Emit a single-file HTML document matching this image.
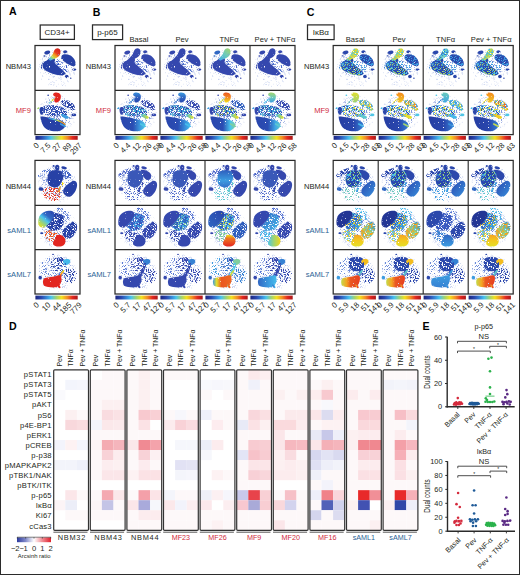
<!DOCTYPE html>
<html><head><meta charset="utf-8"><style>
html,body{margin:0;padding:0;background:#fff;}
body{width:520px;height:575px;overflow:hidden;font-family:"Liberation Sans",sans-serif;}
svg{display:block;}
</style></head><body><svg width="520" height="575" viewBox="0 0 520 575" font-family="'Liberation Sans', sans-serif"><defs><filter id="txd" x="-10%" y="-10%" width="120%" height="120%" color-interpolation-filters="sRGB"><feTurbulence type="fractalNoise" baseFrequency="0.11" numOctaves="2" seed="3" result="n"/><feColorMatrix in="n" type="matrix" values="0 0 0 0 0 0 0 0 0 0 0 0 0 0 0 12 0 0 0 -2.4" result="m"/><feComposite in="SourceGraphic" in2="m" operator="in" result="c"/><feGaussianBlur in="c" stdDeviation="2.2"/></filter><filter id="txmd" x="-10%" y="-10%" width="120%" height="120%" color-interpolation-filters="sRGB"><feTurbulence type="fractalNoise" baseFrequency="0.11" numOctaves="2" seed="4" result="n"/><feColorMatrix in="n" type="matrix" values="0 0 0 0 0 0 0 0 0 0 0 0 0 0 0 12 0 0 0 -4.4" result="m"/><feComposite in="SourceGraphic" in2="m" operator="in" result="c"/><feGaussianBlur in="c" stdDeviation="2.2"/></filter><filter id="txm" x="-10%" y="-10%" width="120%" height="120%" color-interpolation-filters="sRGB"><feTurbulence type="fractalNoise" baseFrequency="0.11" numOctaves="2" seed="5" result="n"/><feColorMatrix in="n" type="matrix" values="0 0 0 0 0 0 0 0 0 0 0 0 0 0 0 12 0 0 0 -5.3" result="m"/><feComposite in="SourceGraphic" in2="m" operator="in" result="c"/><feGaussianBlur in="c" stdDeviation="2.2"/></filter><filter id="txs" x="-10%" y="-10%" width="120%" height="120%" color-interpolation-filters="sRGB"><feTurbulence type="fractalNoise" baseFrequency="0.11" numOctaves="2" seed="7" result="n"/><feColorMatrix in="n" type="matrix" values="0 0 0 0 0 0 0 0 0 0 0 0 0 0 0 12 0 0 0 -6.25" result="m"/><feComposite in="SourceGraphic" in2="m" operator="in" result="c"/><feGaussianBlur in="c" stdDeviation="2.2"/></filter><filter id="txv" x="-10%" y="-10%" width="120%" height="120%" color-interpolation-filters="sRGB"><feTurbulence type="fractalNoise" baseFrequency="0.11" numOctaves="2" seed="9" result="n"/><feColorMatrix in="n" type="matrix" values="0 0 0 0 0 0 0 0 0 0 0 0 0 0 0 12 0 0 0 -7.0" result="m"/><feComposite in="SourceGraphic" in2="m" operator="in" result="c"/><feGaussianBlur in="c" stdDeviation="2.2"/></filter><filter id="txo1" x="-10%" y="-10%" width="120%" height="120%" color-interpolation-filters="sRGB"><feTurbulence type="fractalNoise" baseFrequency="0.16" numOctaves="2" seed="11" result="n"/><feColorMatrix in="n" type="matrix" values="0 0 0 0 0 0 0 0 0 0 0 0 0 0 0 12 0 0 0 -6.4" result="m"/><feComposite in="SourceGraphic" in2="m" operator="in" result="c"/><feGaussianBlur in="c" stdDeviation="2.0"/></filter><filter id="txo2" x="-10%" y="-10%" width="120%" height="120%" color-interpolation-filters="sRGB"><feTurbulence type="fractalNoise" baseFrequency="0.16" numOctaves="2" seed="17" result="n"/><feColorMatrix in="n" type="matrix" values="0 0 0 0 0 0 0 0 0 0 0 0 0 0 0 12 0 0 0 -6.9" result="m"/><feComposite in="SourceGraphic" in2="m" operator="in" result="c"/><feGaussianBlur in="c" stdDeviation="2.0"/></filter><g id="sp_NBM43"><circle cx="300" cy="361" r="4.9"/><circle cx="249" cy="283" r="4.7"/><circle cx="78" cy="166" r="3.4"/><circle cx="198" cy="205" r="4.3"/><circle cx="217" cy="422" r="4.1"/><circle cx="389" cy="416" r="3.9"/><circle cx="103" cy="139" r="4.4"/><circle cx="411" cy="337" r="3.1"/><circle cx="311" cy="384" r="4.6"/><circle cx="375" cy="396" r="3.0"/><circle cx="347" cy="195" r="3.1"/><circle cx="190" cy="127" r="3.5"/><circle cx="366" cy="187" r="5.0"/><circle cx="281" cy="121" r="3.5"/><circle cx="377" cy="309" r="4.3"/><circle cx="101" cy="180" r="4.5"/><circle cx="148" cy="90" r="3.2"/><circle cx="412" cy="175" r="4.3"/><circle cx="256" cy="465" r="4.3"/><circle cx="387" cy="125" r="3.3"/><circle cx="302" cy="394" r="4.4"/><circle cx="250" cy="404" r="4.3"/><circle cx="449" cy="317" r="4.7"/><circle cx="223" cy="452" r="4.6"/><circle cx="89" cy="231" r="4.0"/><circle cx="269" cy="199" r="4.0"/><circle cx="210" cy="275" r="3.9"/><circle cx="348" cy="430" r="4.2"/><circle cx="286" cy="163" r="4.3"/><circle cx="236" cy="263" r="3.3"/><circle cx="208" cy="327" r="4.2"/><circle cx="79" cy="254" r="4.6"/><circle cx="72" cy="314" r="4.2"/><circle cx="163" cy="150" r="4.9"/><circle cx="144" cy="300" r="3.9"/><circle cx="427" cy="281" r="4.8"/><circle cx="298" cy="72" r="3.6"/><circle cx="276" cy="331" r="4.9"/><circle cx="446" cy="267" r="4.0"/><circle cx="411" cy="151" r="3.7"/><circle cx="79" cy="247" r="3.2"/><circle cx="94" cy="225" r="3.7"/><circle cx="100" cy="356" r="4.4"/><circle cx="278" cy="373" r="4.2"/><circle cx="78" cy="274" r="3.8"/><circle cx="201" cy="214" r="4.1"/><circle cx="451" cy="308" r="4.9"/><circle cx="191" cy="104" r="3.3"/><circle cx="224" cy="157" r="4.0"/><circle cx="337" cy="445" r="3.1"/><circle cx="242" cy="188" r="3.4"/><circle cx="384" cy="365" r="3.8"/><circle cx="211" cy="200" r="3.7"/><circle cx="280" cy="299" r="3.7"/><circle cx="206" cy="60" r="3.6"/><circle cx="294" cy="182" r="4.4"/><circle cx="151" cy="283" r="3.7"/><circle cx="213" cy="335" r="3.4"/><circle cx="148" cy="175" r="4.6"/><circle cx="241" cy="60" r="4.4"/><circle cx="353" cy="461" r="4.0"/><circle cx="190" cy="445" r="4.4"/><circle cx="243" cy="306" r="3.1"/><circle cx="134" cy="148" r="3.6"/><circle cx="192" cy="421" r="4.7"/><circle cx="127" cy="132" r="3.3"/><circle cx="98" cy="151" r="3.8"/><circle cx="234" cy="237" r="3.7"/><circle cx="378" cy="407" r="4.8"/><circle cx="168" cy="450" r="4.0"/><circle cx="433" cy="215" r="3.1"/><circle cx="64" cy="219" r="3.7"/><circle cx="408" cy="149" r="3.8"/><circle cx="170" cy="386" r="5.0"/><circle cx="124" cy="159" r="4.2"/><circle cx="311" cy="61" r="4.6"/><circle cx="212" cy="275" r="3.1"/><circle cx="154" cy="244" r="3.7"/><circle cx="374" cy="368" r="3.6"/><circle cx="132" cy="248" r="4.6"/><circle cx="356" cy="358" r="3.9"/><circle cx="216" cy="363" r="3.8"/><circle cx="303" cy="312" r="4.4"/><circle cx="85" cy="385" r="4.7"/><circle cx="411" cy="345" r="3.7"/><circle cx="417" cy="121" r="3.7"/><circle cx="322" cy="456" r="4.5"/><circle cx="274" cy="442" r="3.3"/><circle cx="463" cy="227" r="3.8"/><circle cx="303" cy="183" r="3.4"/><circle cx="204" cy="214" r="3.8"/><circle cx="330" cy="419" r="3.6"/><circle cx="61" cy="247" r="4.4"/><circle cx="146" cy="112" r="4.3"/><circle cx="264" cy="276" r="3.8"/><circle cx="235" cy="441" r="3.4"/><circle cx="455" cy="334" r="3.9"/><circle cx="381" cy="91" r="4.8"/><circle cx="174" cy="160" r="4.2"/><circle cx="178" cy="136" r="3.3"/><circle cx="274" cy="115" r="3.9"/><circle cx="232" cy="121" r="4.7"/><circle cx="353" cy="319" r="4.9"/><circle cx="459" cy="319" r="4.2"/><circle cx="88" cy="245" r="3.7"/><circle cx="95" cy="344" r="4.4"/><circle cx="50" cy="270" r="3.8"/><circle cx="164" cy="385" r="3.7"/><circle cx="163" cy="323" r="4.5"/><circle cx="115" cy="132" r="3.3"/><circle cx="203" cy="314" r="4.4"/><circle cx="216" cy="353" r="4.8"/><circle cx="311" cy="441" r="3.5"/><circle cx="333" cy="155" r="3.1"/><circle cx="230" cy="422" r="3.7"/><circle cx="167" cy="389" r="4.7"/><circle cx="217" cy="355" r="3.1"/><circle cx="238" cy="250" r="5.0"/><circle cx="462" cy="255" r="3.4"/><circle cx="378" cy="87" r="3.4"/><circle cx="249" cy="127" r="3.3"/><circle cx="226" cy="91" r="4.8"/><circle cx="387" cy="301" r="4.7"/><circle cx="223" cy="139" r="3.1"/><circle cx="176" cy="438" r="3.3"/><circle cx="240" cy="269" r="3.5"/><circle cx="419" cy="190" r="4.7"/><circle cx="406" cy="335" r="4.1"/><circle cx="293" cy="378" r="4.8"/><circle cx="457" cy="193" r="3.8"/><circle cx="213" cy="411" r="4.3"/><circle cx="333" cy="199" r="4.2"/><circle cx="325" cy="456" r="3.0"/><circle cx="112" cy="318" r="3.9"/><circle cx="395" cy="301" r="3.3"/><circle cx="337" cy="143" r="3.9"/><circle cx="313" cy="414" r="3.9"/><circle cx="428" cy="140" r="4.1"/><circle cx="199" cy="445" r="4.9"/><circle cx="84" cy="194" r="3.2"/></g><g id="sp_MF9"><circle cx="217" cy="89" r="4.2"/><circle cx="104" cy="260" r="3.7"/><circle cx="346" cy="120" r="4.9"/><circle cx="417" cy="407" r="3.3"/><circle cx="132" cy="179" r="3.5"/><circle cx="120" cy="183" r="3.8"/><circle cx="186" cy="400" r="4.7"/><circle cx="104" cy="277" r="4.5"/><circle cx="290" cy="245" r="3.8"/><circle cx="434" cy="280" r="3.9"/><circle cx="246" cy="451" r="4.7"/><circle cx="381" cy="419" r="3.3"/><circle cx="336" cy="270" r="5.0"/><circle cx="466" cy="222" r="4.6"/><circle cx="203" cy="228" r="4.4"/><circle cx="426" cy="389" r="3.4"/><circle cx="277" cy="301" r="4.4"/><circle cx="452" cy="365" r="4.2"/><circle cx="242" cy="349" r="4.5"/><circle cx="289" cy="468" r="3.7"/><circle cx="364" cy="226" r="4.1"/><circle cx="207" cy="397" r="4.5"/><circle cx="123" cy="214" r="4.5"/><circle cx="116" cy="375" r="4.1"/><circle cx="118" cy="209" r="4.8"/><circle cx="94" cy="257" r="5.0"/><circle cx="171" cy="392" r="3.8"/><circle cx="368" cy="140" r="4.9"/><circle cx="194" cy="398" r="4.3"/><circle cx="311" cy="221" r="4.5"/><circle cx="403" cy="163" r="3.5"/><circle cx="367" cy="250" r="4.8"/><circle cx="262" cy="468" r="3.0"/><circle cx="446" cy="178" r="4.5"/><circle cx="300" cy="326" r="3.9"/><circle cx="376" cy="423" r="3.7"/><circle cx="356" cy="283" r="4.3"/><circle cx="268" cy="345" r="3.3"/><circle cx="221" cy="419" r="3.4"/><circle cx="355" cy="249" r="4.0"/><circle cx="158" cy="366" r="3.3"/><circle cx="196" cy="93" r="3.9"/><circle cx="75" cy="280" r="4.0"/><circle cx="212" cy="449" r="4.0"/><circle cx="309" cy="137" r="4.5"/><circle cx="308" cy="229" r="4.7"/><circle cx="130" cy="208" r="4.6"/><circle cx="420" cy="180" r="3.4"/><circle cx="347" cy="251" r="4.8"/><circle cx="363" cy="155" r="4.9"/><circle cx="69" cy="291" r="3.5"/><circle cx="333" cy="286" r="4.2"/><circle cx="394" cy="219" r="4.0"/><circle cx="436" cy="214" r="3.4"/><circle cx="263" cy="247" r="4.1"/><circle cx="284" cy="205" r="3.8"/><circle cx="439" cy="320" r="4.7"/><circle cx="92" cy="308" r="3.3"/><circle cx="131" cy="340" r="4.5"/><circle cx="318" cy="224" r="3.4"/><circle cx="427" cy="316" r="3.1"/><circle cx="64" cy="221" r="4.8"/><circle cx="183" cy="157" r="4.4"/><circle cx="255" cy="234" r="4.1"/><circle cx="79" cy="166" r="4.5"/><circle cx="150" cy="425" r="3.7"/><circle cx="133" cy="179" r="3.5"/><circle cx="233" cy="358" r="5.0"/><circle cx="223" cy="240" r="4.5"/><circle cx="184" cy="180" r="4.4"/><circle cx="110" cy="170" r="4.1"/><circle cx="134" cy="103" r="4.9"/><circle cx="258" cy="313" r="5.0"/><circle cx="361" cy="361" r="4.5"/><circle cx="160" cy="349" r="3.5"/><circle cx="417" cy="161" r="4.9"/><circle cx="270" cy="128" r="5.0"/><circle cx="411" cy="279" r="4.7"/><circle cx="316" cy="242" r="4.5"/><circle cx="305" cy="448" r="4.1"/><circle cx="239" cy="440" r="4.4"/><circle cx="128" cy="281" r="4.2"/><circle cx="242" cy="235" r="4.5"/><circle cx="284" cy="112" r="4.7"/><circle cx="345" cy="106" r="4.6"/><circle cx="373" cy="129" r="4.2"/><circle cx="252" cy="278" r="4.5"/><circle cx="134" cy="397" r="4.8"/><circle cx="208" cy="270" r="3.7"/><circle cx="149" cy="366" r="3.2"/><circle cx="117" cy="200" r="4.6"/><circle cx="363" cy="260" r="3.1"/><circle cx="395" cy="203" r="4.1"/><circle cx="346" cy="198" r="3.8"/><circle cx="99" cy="382" r="4.2"/><circle cx="418" cy="312" r="3.5"/><circle cx="444" cy="278" r="4.0"/><circle cx="164" cy="167" r="4.6"/><circle cx="236" cy="368" r="4.9"/><circle cx="279" cy="393" r="3.6"/><circle cx="326" cy="134" r="4.8"/><circle cx="169" cy="354" r="3.4"/><circle cx="377" cy="306" r="4.1"/><circle cx="166" cy="349" r="3.9"/><circle cx="314" cy="232" r="3.9"/><circle cx="244" cy="283" r="4.3"/><circle cx="418" cy="385" r="3.3"/><circle cx="188" cy="208" r="5.0"/><circle cx="215" cy="410" r="3.4"/><circle cx="99" cy="296" r="4.1"/><circle cx="153" cy="150" r="3.8"/><circle cx="302" cy="458" r="4.3"/><circle cx="162" cy="322" r="4.2"/><circle cx="311" cy="364" r="3.2"/><circle cx="332" cy="253" r="4.0"/><circle cx="115" cy="209" r="4.6"/><circle cx="353" cy="342" r="4.1"/><circle cx="309" cy="69" r="3.7"/><circle cx="283" cy="375" r="3.4"/><circle cx="395" cy="119" r="4.0"/><circle cx="391" cy="141" r="3.6"/><circle cx="193" cy="308" r="3.8"/><circle cx="451" cy="175" r="4.6"/><circle cx="98" cy="208" r="3.5"/><circle cx="301" cy="69" r="4.0"/><circle cx="476" cy="254" r="4.8"/><circle cx="200" cy="197" r="4.0"/><circle cx="156" cy="288" r="3.7"/><circle cx="277" cy="203" r="3.3"/><circle cx="402" cy="274" r="4.8"/><circle cx="183" cy="265" r="3.8"/><circle cx="83" cy="158" r="3.7"/><circle cx="239" cy="135" r="3.3"/><circle cx="254" cy="184" r="3.8"/><circle cx="175" cy="396" r="3.8"/><circle cx="231" cy="457" r="3.8"/><circle cx="142" cy="237" r="3.7"/><circle cx="220" cy="83" r="4.0"/><circle cx="442" cy="169" r="4.9"/><circle cx="281" cy="143" r="4.0"/></g><g id="sp_NBM44"><circle cx="283" cy="107" r="3.2"/><circle cx="440" cy="336" r="3.3"/><circle cx="339" cy="464" r="3.2"/><circle cx="310" cy="422" r="4.8"/><circle cx="107" cy="271" r="3.9"/><circle cx="261" cy="134" r="3.5"/><circle cx="210" cy="207" r="4.9"/><circle cx="253" cy="86" r="3.4"/><circle cx="442" cy="326" r="4.3"/><circle cx="185" cy="187" r="3.8"/><circle cx="170" cy="423" r="4.5"/><circle cx="206" cy="248" r="3.5"/><circle cx="376" cy="191" r="3.5"/><circle cx="191" cy="131" r="3.1"/><circle cx="162" cy="384" r="3.2"/><circle cx="242" cy="152" r="3.1"/><circle cx="86" cy="292" r="4.7"/><circle cx="194" cy="158" r="5.0"/><circle cx="439" cy="386" r="3.5"/><circle cx="277" cy="385" r="4.7"/><circle cx="65" cy="306" r="3.6"/><circle cx="210" cy="121" r="4.0"/><circle cx="141" cy="209" r="4.0"/><circle cx="145" cy="439" r="3.1"/><circle cx="359" cy="289" r="4.2"/><circle cx="270" cy="423" r="4.6"/><circle cx="128" cy="287" r="4.1"/><circle cx="260" cy="404" r="4.2"/><circle cx="360" cy="84" r="4.9"/><circle cx="346" cy="420" r="3.8"/><circle cx="93" cy="171" r="3.8"/><circle cx="336" cy="90" r="4.1"/><circle cx="327" cy="98" r="3.6"/><circle cx="342" cy="255" r="3.9"/><circle cx="128" cy="352" r="4.4"/><circle cx="178" cy="368" r="3.0"/><circle cx="398" cy="108" r="4.5"/><circle cx="361" cy="226" r="3.5"/><circle cx="242" cy="147" r="4.4"/><circle cx="353" cy="291" r="4.6"/><circle cx="367" cy="290" r="3.1"/><circle cx="382" cy="441" r="3.4"/><circle cx="276" cy="318" r="3.7"/><circle cx="199" cy="212" r="4.3"/><circle cx="401" cy="281" r="4.5"/><circle cx="350" cy="99" r="3.2"/><circle cx="397" cy="367" r="4.2"/><circle cx="94" cy="198" r="3.8"/><circle cx="145" cy="427" r="3.3"/><circle cx="424" cy="219" r="4.8"/><circle cx="335" cy="442" r="4.2"/><circle cx="116" cy="197" r="3.9"/><circle cx="241" cy="279" r="4.5"/><circle cx="71" cy="306" r="4.5"/><circle cx="62" cy="194" r="3.8"/><circle cx="471" cy="266" r="3.5"/><circle cx="327" cy="346" r="4.3"/><circle cx="177" cy="398" r="4.3"/><circle cx="123" cy="315" r="4.2"/><circle cx="323" cy="372" r="4.3"/><circle cx="101" cy="153" r="4.3"/><circle cx="431" cy="233" r="4.7"/><circle cx="348" cy="135" r="4.6"/><circle cx="310" cy="445" r="3.7"/><circle cx="170" cy="152" r="3.4"/><circle cx="134" cy="201" r="4.4"/><circle cx="220" cy="301" r="4.3"/><circle cx="323" cy="353" r="3.2"/><circle cx="458" cy="202" r="3.4"/><circle cx="423" cy="176" r="3.9"/><circle cx="209" cy="79" r="4.8"/><circle cx="385" cy="307" r="4.0"/><circle cx="226" cy="264" r="3.7"/><circle cx="115" cy="335" r="3.2"/><circle cx="331" cy="214" r="3.4"/><circle cx="446" cy="211" r="4.0"/><circle cx="252" cy="438" r="3.5"/><circle cx="186" cy="188" r="3.7"/><circle cx="375" cy="122" r="3.4"/><circle cx="55" cy="238" r="3.7"/><circle cx="88" cy="182" r="3.3"/><circle cx="121" cy="152" r="4.4"/><circle cx="85" cy="374" r="3.5"/><circle cx="454" cy="270" r="3.8"/><circle cx="380" cy="360" r="4.9"/><circle cx="157" cy="345" r="3.4"/><circle cx="69" cy="297" r="4.6"/><circle cx="263" cy="338" r="3.4"/><circle cx="131" cy="261" r="4.2"/><circle cx="177" cy="299" r="3.9"/><circle cx="90" cy="154" r="3.2"/><circle cx="240" cy="418" r="3.5"/><circle cx="123" cy="234" r="4.7"/><circle cx="112" cy="248" r="4.1"/><circle cx="223" cy="102" r="5.0"/><circle cx="461" cy="249" r="4.4"/><circle cx="414" cy="230" r="4.7"/><circle cx="296" cy="473" r="4.7"/><circle cx="201" cy="222" r="3.9"/><circle cx="365" cy="408" r="3.7"/><circle cx="157" cy="231" r="4.7"/><circle cx="167" cy="378" r="3.6"/><circle cx="82" cy="212" r="3.5"/><circle cx="222" cy="162" r="3.8"/><circle cx="317" cy="143" r="4.7"/><circle cx="351" cy="115" r="3.9"/><circle cx="164" cy="459" r="4.4"/><circle cx="407" cy="322" r="4.9"/><circle cx="422" cy="343" r="3.4"/><circle cx="102" cy="359" r="3.0"/><circle cx="135" cy="433" r="3.6"/><circle cx="307" cy="274" r="4.3"/><circle cx="130" cy="260" r="4.9"/><circle cx="128" cy="349" r="4.3"/><circle cx="97" cy="235" r="3.0"/><circle cx="121" cy="188" r="4.7"/><circle cx="81" cy="204" r="4.3"/><circle cx="373" cy="359" r="3.8"/><circle cx="367" cy="346" r="3.7"/><circle cx="249" cy="306" r="4.2"/><circle cx="281" cy="279" r="4.0"/><circle cx="228" cy="93" r="3.5"/><circle cx="256" cy="395" r="3.4"/><circle cx="368" cy="305" r="4.2"/><circle cx="64" cy="232" r="3.1"/><circle cx="66" cy="304" r="3.8"/><circle cx="211" cy="439" r="4.5"/><circle cx="109" cy="195" r="4.4"/><circle cx="460" cy="193" r="4.2"/><circle cx="279" cy="70" r="4.6"/><circle cx="160" cy="354" r="3.2"/><circle cx="139" cy="149" r="4.8"/><circle cx="281" cy="444" r="3.8"/><circle cx="427" cy="279" r="3.9"/><circle cx="260" cy="392" r="4.2"/><circle cx="91" cy="384" r="3.1"/><circle cx="111" cy="227" r="4.8"/><circle cx="326" cy="225" r="4.4"/><circle cx="199" cy="369" r="4.3"/><circle cx="95" cy="305" r="3.8"/></g><g id="sp_sAML1"><circle cx="144" cy="381" r="3.7"/><circle cx="379" cy="263" r="4.8"/><circle cx="119" cy="198" r="4.8"/><circle cx="354" cy="347" r="3.4"/><circle cx="317" cy="129" r="3.7"/><circle cx="292" cy="449" r="3.4"/><circle cx="127" cy="152" r="5.0"/><circle cx="404" cy="124" r="3.6"/><circle cx="165" cy="289" r="4.9"/><circle cx="268" cy="201" r="3.7"/><circle cx="463" cy="318" r="3.0"/><circle cx="141" cy="429" r="3.8"/><circle cx="292" cy="442" r="3.3"/><circle cx="204" cy="115" r="3.3"/><circle cx="173" cy="240" r="3.5"/><circle cx="122" cy="153" r="3.9"/><circle cx="215" cy="271" r="3.6"/><circle cx="162" cy="224" r="4.9"/><circle cx="339" cy="122" r="4.6"/><circle cx="203" cy="428" r="3.2"/><circle cx="272" cy="480" r="4.2"/><circle cx="465" cy="306" r="4.7"/><circle cx="303" cy="433" r="4.6"/><circle cx="317" cy="204" r="3.8"/><circle cx="80" cy="310" r="3.9"/><circle cx="278" cy="282" r="4.5"/><circle cx="93" cy="359" r="4.9"/><circle cx="314" cy="123" r="4.2"/><circle cx="263" cy="228" r="4.1"/><circle cx="149" cy="406" r="4.4"/><circle cx="398" cy="175" r="4.7"/><circle cx="245" cy="334" r="4.1"/><circle cx="287" cy="396" r="3.5"/><circle cx="191" cy="387" r="3.1"/><circle cx="310" cy="232" r="4.1"/><circle cx="343" cy="174" r="3.1"/><circle cx="210" cy="396" r="3.8"/><circle cx="318" cy="199" r="3.2"/><circle cx="207" cy="117" r="3.1"/><circle cx="178" cy="343" r="3.2"/><circle cx="293" cy="156" r="3.8"/><circle cx="301" cy="187" r="4.7"/><circle cx="382" cy="381" r="3.4"/><circle cx="466" cy="294" r="4.7"/><circle cx="277" cy="451" r="4.1"/><circle cx="158" cy="273" r="3.6"/><circle cx="376" cy="95" r="3.7"/><circle cx="253" cy="136" r="3.9"/><circle cx="415" cy="358" r="3.8"/><circle cx="149" cy="131" r="3.3"/><circle cx="360" cy="238" r="3.1"/><circle cx="377" cy="108" r="3.2"/><circle cx="111" cy="287" r="5.0"/><circle cx="236" cy="349" r="4.5"/><circle cx="299" cy="236" r="4.0"/><circle cx="322" cy="220" r="3.5"/><circle cx="193" cy="193" r="3.5"/><circle cx="438" cy="212" r="4.1"/><circle cx="145" cy="406" r="3.4"/><circle cx="374" cy="286" r="3.3"/><circle cx="144" cy="88" r="3.1"/><circle cx="286" cy="456" r="3.0"/><circle cx="427" cy="398" r="4.1"/><circle cx="199" cy="472" r="4.3"/><circle cx="231" cy="63" r="4.0"/><circle cx="456" cy="220" r="3.5"/><circle cx="72" cy="187" r="4.0"/><circle cx="266" cy="59" r="4.0"/><circle cx="414" cy="235" r="3.2"/><circle cx="188" cy="319" r="4.2"/><circle cx="345" cy="406" r="3.5"/><circle cx="428" cy="277" r="4.5"/><circle cx="276" cy="161" r="5.0"/><circle cx="321" cy="188" r="3.5"/><circle cx="262" cy="393" r="4.3"/><circle cx="79" cy="379" r="4.8"/><circle cx="171" cy="234" r="3.9"/><circle cx="180" cy="435" r="3.3"/><circle cx="363" cy="165" r="3.0"/><circle cx="345" cy="170" r="4.3"/><circle cx="292" cy="478" r="3.1"/><circle cx="314" cy="447" r="3.4"/><circle cx="460" cy="333" r="4.2"/><circle cx="195" cy="310" r="3.0"/><circle cx="259" cy="333" r="3.4"/><circle cx="420" cy="353" r="4.3"/><circle cx="431" cy="312" r="3.2"/><circle cx="81" cy="206" r="4.1"/><circle cx="288" cy="263" r="3.2"/><circle cx="130" cy="318" r="4.1"/><circle cx="298" cy="282" r="5.0"/><circle cx="408" cy="320" r="4.5"/><circle cx="361" cy="192" r="4.6"/><circle cx="300" cy="59" r="3.1"/><circle cx="316" cy="330" r="4.0"/><circle cx="163" cy="167" r="4.6"/><circle cx="351" cy="212" r="3.9"/><circle cx="164" cy="220" r="3.6"/><circle cx="191" cy="286" r="3.1"/><circle cx="452" cy="264" r="4.9"/><circle cx="302" cy="430" r="3.1"/><circle cx="78" cy="309" r="3.5"/><circle cx="260" cy="474" r="3.5"/><circle cx="192" cy="411" r="3.5"/><circle cx="448" cy="202" r="3.4"/><circle cx="180" cy="452" r="3.9"/><circle cx="297" cy="430" r="3.8"/><circle cx="401" cy="239" r="4.7"/><circle cx="343" cy="241" r="4.6"/><circle cx="375" cy="196" r="3.8"/><circle cx="294" cy="423" r="4.2"/><circle cx="249" cy="188" r="3.1"/><circle cx="236" cy="176" r="4.3"/><circle cx="388" cy="328" r="3.2"/><circle cx="241" cy="92" r="4.8"/><circle cx="343" cy="133" r="4.9"/><circle cx="326" cy="121" r="4.9"/><circle cx="417" cy="334" r="4.4"/><circle cx="346" cy="281" r="4.8"/><circle cx="93" cy="263" r="3.3"/><circle cx="403" cy="198" r="4.4"/><circle cx="118" cy="419" r="3.0"/><circle cx="242" cy="144" r="4.0"/><circle cx="129" cy="409" r="3.4"/><circle cx="281" cy="417" r="3.9"/><circle cx="135" cy="394" r="4.8"/><circle cx="350" cy="377" r="3.1"/><circle cx="90" cy="335" r="3.6"/><circle cx="399" cy="320" r="4.7"/><circle cx="351" cy="278" r="4.9"/><circle cx="348" cy="324" r="4.2"/><circle cx="66" cy="214" r="3.3"/><circle cx="436" cy="354" r="3.9"/><circle cx="411" cy="116" r="4.6"/><circle cx="181" cy="462" r="4.5"/><circle cx="366" cy="161" r="4.1"/><circle cx="333" cy="238" r="3.0"/><circle cx="175" cy="447" r="4.6"/><circle cx="360" cy="306" r="4.9"/><circle cx="442" cy="203" r="4.8"/></g><g id="sp_sAML7"><circle cx="392" cy="211" r="3.7"/><circle cx="398" cy="130" r="3.2"/><circle cx="148" cy="211" r="3.9"/><circle cx="374" cy="326" r="3.1"/><circle cx="131" cy="397" r="3.6"/><circle cx="359" cy="91" r="4.9"/><circle cx="401" cy="212" r="3.8"/><circle cx="192" cy="160" r="3.3"/><circle cx="159" cy="412" r="3.2"/><circle cx="439" cy="253" r="4.7"/><circle cx="286" cy="316" r="4.5"/><circle cx="181" cy="183" r="3.2"/><circle cx="200" cy="410" r="5.0"/><circle cx="221" cy="140" r="3.8"/><circle cx="259" cy="99" r="3.7"/><circle cx="228" cy="410" r="3.6"/><circle cx="230" cy="113" r="3.8"/><circle cx="441" cy="204" r="3.4"/><circle cx="82" cy="157" r="4.5"/><circle cx="270" cy="94" r="3.6"/><circle cx="282" cy="143" r="3.7"/><circle cx="193" cy="213" r="4.3"/><circle cx="276" cy="482" r="3.0"/><circle cx="272" cy="161" r="4.0"/><circle cx="288" cy="227" r="3.9"/><circle cx="153" cy="173" r="3.9"/><circle cx="200" cy="215" r="3.6"/><circle cx="174" cy="327" r="3.8"/><circle cx="357" cy="206" r="3.1"/><circle cx="75" cy="276" r="4.6"/><circle cx="201" cy="305" r="4.5"/><circle cx="369" cy="125" r="4.6"/><circle cx="84" cy="314" r="5.0"/><circle cx="264" cy="293" r="4.6"/><circle cx="271" cy="68" r="4.8"/><circle cx="153" cy="289" r="3.0"/><circle cx="256" cy="297" r="3.3"/><circle cx="376" cy="277" r="3.8"/><circle cx="215" cy="271" r="4.9"/><circle cx="139" cy="169" r="4.5"/><circle cx="112" cy="153" r="4.1"/><circle cx="277" cy="126" r="4.6"/><circle cx="381" cy="306" r="3.5"/><circle cx="286" cy="268" r="3.7"/><circle cx="248" cy="159" r="3.4"/><circle cx="134" cy="303" r="4.3"/><circle cx="56" cy="296" r="3.3"/><circle cx="357" cy="177" r="4.6"/><circle cx="81" cy="344" r="4.2"/><circle cx="124" cy="398" r="4.7"/><circle cx="270" cy="226" r="4.7"/><circle cx="324" cy="262" r="4.2"/><circle cx="221" cy="355" r="4.3"/><circle cx="244" cy="336" r="4.2"/><circle cx="223" cy="195" r="4.8"/><circle cx="146" cy="242" r="3.7"/><circle cx="345" cy="431" r="4.6"/><circle cx="406" cy="304" r="3.2"/><circle cx="475" cy="250" r="3.9"/><circle cx="102" cy="326" r="4.6"/><circle cx="281" cy="178" r="4.8"/><circle cx="410" cy="370" r="3.9"/><circle cx="173" cy="452" r="3.5"/><circle cx="174" cy="103" r="4.0"/><circle cx="467" cy="293" r="3.6"/><circle cx="325" cy="319" r="3.5"/><circle cx="161" cy="306" r="4.6"/><circle cx="328" cy="393" r="4.3"/><circle cx="339" cy="118" r="4.7"/><circle cx="330" cy="173" r="3.8"/><circle cx="141" cy="126" r="3.9"/><circle cx="107" cy="228" r="4.0"/><circle cx="224" cy="279" r="3.7"/><circle cx="351" cy="134" r="4.4"/><circle cx="228" cy="353" r="4.9"/><circle cx="348" cy="301" r="3.3"/><circle cx="260" cy="406" r="4.3"/><circle cx="101" cy="301" r="3.7"/><circle cx="427" cy="243" r="4.2"/><circle cx="297" cy="374" r="3.4"/><circle cx="184" cy="310" r="4.4"/><circle cx="409" cy="350" r="4.0"/><circle cx="157" cy="221" r="3.3"/><circle cx="345" cy="263" r="3.3"/><circle cx="372" cy="223" r="3.9"/><circle cx="236" cy="374" r="4.8"/><circle cx="322" cy="428" r="5.0"/><circle cx="172" cy="240" r="3.6"/><circle cx="452" cy="332" r="5.0"/><circle cx="449" cy="298" r="3.8"/><circle cx="465" cy="308" r="3.2"/><circle cx="288" cy="97" r="4.5"/><circle cx="172" cy="114" r="3.7"/><circle cx="368" cy="385" r="3.1"/><circle cx="370" cy="439" r="4.4"/><circle cx="322" cy="428" r="3.3"/><circle cx="240" cy="390" r="4.8"/><circle cx="313" cy="208" r="4.5"/><circle cx="156" cy="158" r="4.9"/><circle cx="364" cy="96" r="4.8"/><circle cx="370" cy="201" r="3.2"/><circle cx="218" cy="433" r="4.6"/><circle cx="132" cy="241" r="3.3"/><circle cx="114" cy="132" r="4.4"/><circle cx="134" cy="328" r="3.3"/><circle cx="225" cy="258" r="3.6"/><circle cx="332" cy="315" r="4.9"/><circle cx="61" cy="343" r="4.4"/><circle cx="103" cy="405" r="4.6"/><circle cx="463" cy="251" r="3.4"/><circle cx="446" cy="193" r="4.8"/><circle cx="393" cy="168" r="3.4"/><circle cx="172" cy="313" r="3.6"/><circle cx="406" cy="258" r="3.8"/><circle cx="419" cy="269" r="4.4"/><circle cx="417" cy="119" r="3.2"/><circle cx="61" cy="251" r="4.0"/><circle cx="64" cy="237" r="3.3"/><circle cx="434" cy="350" r="3.5"/><circle cx="182" cy="331" r="3.3"/><circle cx="267" cy="247" r="3.6"/><circle cx="167" cy="157" r="4.8"/><circle cx="167" cy="179" r="3.3"/><circle cx="371" cy="313" r="4.9"/><circle cx="223" cy="212" r="4.5"/><circle cx="377" cy="341" r="3.6"/><circle cx="158" cy="421" r="4.6"/><circle cx="209" cy="365" r="3.2"/><circle cx="281" cy="420" r="4.8"/><circle cx="273" cy="115" r="4.2"/><circle cx="142" cy="210" r="3.2"/><circle cx="232" cy="69" r="4.0"/><circle cx="172" cy="83" r="3.1"/><circle cx="239" cy="399" r="3.6"/><circle cx="346" cy="278" r="4.4"/><circle cx="415" cy="359" r="4.9"/><circle cx="201" cy="347" r="3.3"/><circle cx="164" cy="234" r="4.2"/><circle cx="359" cy="191" r="3.0"/><circle cx="345" cy="375" r="4.0"/></g><g id="NBM43_bg"><path d="M262,60 C380,60 470,150 470,268 C470,340 380,380 262,380 C150,380 60,340 60,268 C60,150 150,60 262,60 Z"/></g><g id="NBM43_sparse"><path d="M225,185 C280,172 345,195 378,238 C392,270 385,305 360,310 C330,298 298,268 268,240 C248,222 225,205 225,185 Z"/></g><g id="NBM43_tl"><ellipse cx="150" cy="85" rx="34" ry="21" transform="rotate(-18 150 85)"/><ellipse cx="118" cy="125" rx="12" ry="8" transform="rotate(0 118 125)"/></g><g id="NBM43_tr"><ellipse cx="353" cy="75" rx="24" ry="17" transform="rotate(0 353 75)"/></g><g id="NBM43_right"><path d="M312,125 C318,98 372,98 412,118 C448,138 474,178 470,218 C466,245 440,248 410,230 C372,208 328,182 314,160 C308,148 309,136 312,125 Z"/></g><g id="NBM43_center"><path d="M128,183 C170,172 215,183 242,208 C275,243 322,280 352,313 C358,335 330,347 290,343 C240,338 180,312 130,287 C105,273 93,250 98,226 C103,205 112,190 128,183 Z"/><path d="M140,182 C160,150 200,135 232,148 C242,170 236,192 220,202 C190,204 155,198 140,182 Z"/></g><g id="NBM43_lc"><path d="M122,196 C96,206 80,236 86,262" fill="none" stroke-width="13" stroke-linecap="round"/></g><g id="NBM43_top"><path d="M245,42 C265,28 296,38 299,65 C303,96 290,126 262,141 C240,153 214,161 194,172 C178,178 162,170 170,156 C183,136 204,120 214,100 C221,79 228,52 245,42 Z"/></g><g id="NBM43_b1"><ellipse cx="370" cy="355" rx="21" ry="20" transform="rotate(0 370 355)"/><ellipse cx="455" cy="278" rx="24" ry="12" transform="rotate(0 455 278)"/><ellipse cx="415" cy="375" rx="9" ry="7" transform="rotate(0 415 375)"/></g><g id="MF9_bg"><path d="M262,50 C380,50 475,150 475,268 C475,380 380,470 262,470 C150,470 55,380 55,268 C55,150 150,50 262,50 Z"/></g><g id="MF9_mid"><path d="M110,185 C170,165 250,170 310,190 C360,210 385,250 370,290 C330,308 250,302 180,298 C140,296 110,280 105,250 C102,225 104,200 110,185 Z"/></g><g id="MF9_left"><path d="M72,198 C90,188 108,195 110,215 C112,240 105,268 92,280 C78,284 66,270 64,245 C62,222 62,205 72,198 Z"/></g><g id="MF9_top"><path d="M218,44 C232,22 284,22 300,55 C312,88 297,126 266,141 C246,149 226,136 229,116 C233,100 246,90 241,76 C226,70 210,63 218,44 Z"/></g><g id="MF9_tail"><path d="M244,98 C228,115 198,136 170,158 C162,152 172,132 193,116 C213,100 230,88 244,98 Z"/></g><g id="MF9_right"><path d="M305,125 C326,104 382,114 422,140 C456,162 472,200 457,232 C442,245 410,222 370,200 C330,180 296,155 305,125 Z"/></g><g id="MF9_bottom"><path d="M72,300 C120,298 210,318 290,340 C340,356 362,387 352,410 C340,440 300,466 252,468 C190,470 130,448 106,408 C88,375 74,335 72,300 Z"/></g><g id="MF9_edge"><path d="M300,272 C330,268 370,285 392,305 C398,320 380,330 360,325 C335,318 310,300 300,272 Z"/></g><g id="MF9_redge"><path d="M300,385 C320,395 340,405 352,412" fill="none" stroke-width="18" stroke-linecap="round"/></g><g id="MF9_tedge"><path d="M170,322 C230,332 300,352 350,388" fill="none" stroke-width="14" stroke-linecap="round"/></g><g id="MF9_b1"><ellipse cx="450" cy="283" rx="28" ry="15" transform="rotate(0 450 283)"/><ellipse cx="160" cy="60" rx="10" ry="8" transform="rotate(0 160 60)"/></g><g id="MF9_lg"><ellipse cx="50" cy="210" rx="14" ry="12" transform="rotate(-30 50 210)"/></g><g id="NBM44_bg"><path d="M262,55 C380,55 480,150 480,268 C480,380 380,470 262,470 C150,470 45,380 45,268 C45,150 150,55 262,55 Z"/></g><g id="NBM44_red"><path d="M108,330 C150,300 232,305 292,320 C318,360 312,420 280,452 C240,474 172,466 132,436 C106,414 96,370 108,330 Z"/></g><g id="NBM44_ul"><path d="M40,182 C60,142 122,98 182,93 C202,98 197,132 172,152 C142,172 92,187 60,197 Z"/></g><g id="NBM44_tright"><path d="M300,112 C350,105 405,130 420,170 C425,210 400,232 370,228 C340,210 315,170 300,112 Z"/></g><g id="NBM44_center"><path d="M172,140 C202,110 262,105 302,125 C332,145 342,190 322,230 C302,270 292,300 252,310 C212,318 172,300 157,265 C147,225 150,170 172,140 Z"/></g><g id="NBM44_top"><ellipse cx="262" cy="88" rx="24" ry="32" transform="rotate(0 262 88)"/><ellipse cx="340" cy="90" rx="32" ry="16" transform="rotate(10 340 90)"/><ellipse cx="222" cy="70" rx="12" ry="12" transform="rotate(0 222 70)"/></g><g id="NBM44_right"><path d="M330,342 C340,302 390,265 430,240 C462,225 492,247 487,290 C482,340 452,392 412,415 C382,425 342,402 330,372 Z"/></g><g id="NBM44_lb"><ellipse cx="80" cy="330" rx="28" ry="20" transform="rotate(10 80 330)"/></g><g id="NBM44_streak"><path d="M330,258 C308,285 288,320 276,368" fill="none" stroke-width="22" stroke-linecap="round"/></g><g id="sAML1_bg"><path d="M262,35 C380,35 490,150 490,268 C490,380 380,475 262,475 C150,475 45,380 45,268 C45,150 150,35 262,35 Z"/></g><g id="sAML1_tops"><path d="M260,35 C310,25 380,60 410,110 C425,150 400,175 370,165 C330,140 290,110 265,75 Z"/></g><g id="sAML1_scat"><path d="M118,292 C162,276 232,282 262,302 C266,342 256,392 226,410 C186,420 146,400 128,370 C116,345 112,318 118,292 Z"/></g><g id="sAML1_center"><path d="M175,95 C215,80 285,90 322,120 C352,160 338,222 308,262 C278,292 225,300 185,285 C145,265 128,215 138,170 C143,135 155,105 175,95 Z"/></g><g id="sAML1_right"><path d="M322,302 C332,262 382,218 432,192 C472,182 496,222 486,272 C476,322 436,372 392,382 C352,387 317,342 322,302 Z"/></g><g id="sAML1_tlb"><path d="M62,128 C82,88 132,65 190,66 C228,72 240,100 222,140 C200,180 160,222 120,250 C88,266 58,248 50,218 C45,185 50,155 62,128 Z"/></g><g id="sAML1_bottom"><path d="M262,340 C295,330 335,345 350,380 C365,420 350,458 312,468 C272,476 228,468 216,445 C208,420 230,400 240,380 C248,360 245,348 262,340 Z"/></g><g id="sAML1_b1"><ellipse cx="88" cy="320" rx="18" ry="10" transform="rotate(0 88 320)"/></g><g id="sAML7_bg"><path d="M262,55 C380,55 485,150 485,268 C485,380 380,460 262,460 C150,460 50,380 50,268 C50,150 150,55 262,55 Z"/></g><g id="sAML7_ul"><path d="M55,200 C70,140 130,95 190,95 C205,150 200,230 180,290 C130,300 80,280 62,250 Z"/></g><g id="sAML7_rightsc"><path d="M340,225 C385,205 450,212 482,250 C492,300 470,360 430,390 C395,400 355,375 340,335 C330,295 330,255 340,225 Z"/></g><g id="sAML7_upper"><path d="M185,120 C225,80 300,80 345,105 C375,140 365,200 335,235 C300,255 250,255 220,240 C195,220 180,180 185,120 Z"/></g><g id="sAML7_cy"><path d="M330,128 C355,108 395,108 410,128 C414,158 385,175 360,182 C340,178 326,155 330,128 Z"/></g><g id="sAML7_hook"><path d="M352,165 C340,200 330,230 318,260 C308,280 298,295 288,305" fill="none" stroke-width="34" stroke-linecap="round"/></g><g id="sAML7_streak"><path d="M335,245 C318,262 305,280 298,300" fill="none" stroke-width="20" stroke-linecap="round"/></g><g id="sAML7_bottom"><path d="M108,338 C140,312 200,318 240,306 C275,294 302,290 312,312 C320,345 305,400 272,428 C215,438 152,432 114,414 C98,394 98,362 108,338 Z"/><path d="M262,400 C280,400 298,410 300,440 C285,445 270,440 262,400 Z"/></g><g id="sAML7_lb"><ellipse cx="70" cy="322" rx="20" ry="20" transform="rotate(20 70 322)"/></g><g id="sAML7_tb"><ellipse cx="300" cy="125" rx="22" ry="14" transform="rotate(20 300 125)"/><ellipse cx="215" cy="60" rx="10" ry="8" transform="rotate(0 215 60)"/></g><radialGradient id="bgG" cx="0.5" cy="0.5" r="0.5"><stop offset="0" stop-color="#5a78d0" stop-opacity="0.9"/><stop offset="0.7" stop-color="#5a78d0" stop-opacity="0.75"/><stop offset="1" stop-color="#5a78d0" stop-opacity="0"/></radialGradient><linearGradient id="g1" x1="0" y1="0" x2="1" y2="0"><stop offset="0.00" stop-color="#1c2680"/><stop offset="0.14" stop-color="#2a48b0"/><stop offset="0.28" stop-color="#3890dc"/><stop offset="0.37" stop-color="#48c4ee"/><stop offset="0.50" stop-color="#a4d46c"/><stop offset="0.62" stop-color="#f2e21e"/><stop offset="0.75" stop-color="#f49022"/><stop offset="0.88" stop-color="#e22620"/><stop offset="1.00" stop-color="#a81818"/></linearGradient><linearGradient id="g2" x1="0.9" y1="0" x2="0.1" y2="1"><stop offset="0.00" stop-color="#cf211d"/><stop offset="0.35" stop-color="#e53620"/><stop offset="0.55" stop-color="#f4a321"/><stop offset="0.72" stop-color="#c5da4b"/><stop offset="0.88" stop-color="#5dc8d0"/><stop offset="1.00" stop-color="#41ade6"/></linearGradient><linearGradient id="g3" x1="1" y1="0" x2="0" y2="1"><stop offset="0.00" stop-color="#f49022"/><stop offset="0.40" stop-color="#e5e02b"/><stop offset="0.70" stop-color="#6bcabc"/><stop offset="1.00" stop-color="#44b8ea"/></linearGradient><linearGradient id="g4" x1="0" y1="0" x2="1" y2="0"><stop offset="0.00" stop-color="#3c9ce0"/><stop offset="0.30" stop-color="#4fc5e4"/><stop offset="0.60" stop-color="#d8dd38"/><stop offset="0.85" stop-color="#f49022"/><stop offset="1.00" stop-color="#f3b020"/></linearGradient><linearGradient id="g5" x1="0" y1="0" x2="0" y2="1"><stop offset="0.00" stop-color="#f2e21e"/><stop offset="1.00" stop-color="#f07822"/></linearGradient><linearGradient id="g6" x1="0.9" y1="0" x2="0.1" y2="1"><stop offset="0.00" stop-color="#2a48b0"/><stop offset="0.35" stop-color="#3067c3"/><stop offset="0.55" stop-color="#48c4ee"/><stop offset="0.78" stop-color="#a4d46c"/><stop offset="1.00" stop-color="#f2e21e"/></linearGradient><linearGradient id="g7" x1="0" y1="0" x2="0" y2="1"><stop offset="0.00" stop-color="#f2e21e"/><stop offset="1.00" stop-color="#ed6721"/></linearGradient><linearGradient id="g8" x1="0" y1="0" x2="0" y2="1"><stop offset="0.00" stop-color="#3890dc"/><stop offset="0.50" stop-color="#2e5dbd"/><stop offset="1.00" stop-color="#2a48b0"/></linearGradient><linearGradient id="g9" x1="0" y1="0" x2="1" y2="0"><stop offset="0.00" stop-color="#44b8ea"/><stop offset="0.60" stop-color="#a4d46c"/><stop offset="1.00" stop-color="#e5e02b"/></linearGradient><linearGradient id="g10" x1="0" y1="0" x2="1" y2="0"><stop offset="0.00" stop-color="#2946ad"/><stop offset="0.50" stop-color="#2b4db3"/><stop offset="0.80" stop-color="#3c9ce0"/><stop offset="1.00" stop-color="#4fc5e4"/></linearGradient><linearGradient id="g11" x1="0" y1="0" x2="0" y2="1"><stop offset="0.00" stop-color="#3c9ce0"/><stop offset="0.50" stop-color="#3067c3"/><stop offset="1.00" stop-color="#2a48b0"/></linearGradient><linearGradient id="g12" x1="0" y1="0" x2="1" y2="0"><stop offset="0.00" stop-color="#44b8ea"/><stop offset="0.60" stop-color="#a4d46c"/><stop offset="1.00" stop-color="#e5e02b"/></linearGradient><linearGradient id="g13" x1="0" y1="0" x2="1" y2="0"><stop offset="0.00" stop-color="#2946ad"/><stop offset="0.50" stop-color="#2b4db3"/><stop offset="0.80" stop-color="#3890dc"/><stop offset="1.00" stop-color="#46beec"/></linearGradient><linearGradient id="g14" x1="0" y1="0" x2="1" y2="1"><stop offset="0.00" stop-color="#2b4db3"/><stop offset="1.00" stop-color="#3271c9"/></linearGradient><linearGradient id="g15" x1="0.9" y1="0" x2="0.1" y2="1"><stop offset="0.00" stop-color="#a4d46c"/><stop offset="0.50" stop-color="#6bcabc"/><stop offset="1.00" stop-color="#41ade6"/></linearGradient><linearGradient id="g16" x1="0" y1="0" x2="0" y2="1"><stop offset="0.00" stop-color="#ea5721"/><stop offset="0.50" stop-color="#f38822"/><stop offset="1.00" stop-color="#f2e21e"/></linearGradient><linearGradient id="g17" x1="0" y1="0" x2="1" y2="0"><stop offset="0.00" stop-color="#5dc8d0"/><stop offset="0.60" stop-color="#c5da4b"/><stop offset="1.00" stop-color="#f2cf1f"/></linearGradient><linearGradient id="g18" x1="0" y1="0" x2="1" y2="0"><stop offset="0.00" stop-color="#2946ad"/><stop offset="0.50" stop-color="#2b4db3"/><stop offset="0.80" stop-color="#48c4ee"/><stop offset="1.00" stop-color="#81ce9e"/></linearGradient><linearGradient id="g19" x1="0" y1="0" x2="0" y2="1"><stop offset="0.00" stop-color="#2e5dbd"/><stop offset="0.60" stop-color="#3c9ce0"/><stop offset="1.00" stop-color="#3271c9"/></linearGradient><linearGradient id="g20" x1="0" y1="0" x2="0" y2="1"><stop offset="0.00" stop-color="#f2e21e"/><stop offset="0.30" stop-color="#f07822"/><stop offset="1.00" stop-color="#e22620"/></linearGradient><linearGradient id="g21" x1="0" y1="0" x2="1" y2="1"><stop offset="0.00" stop-color="#2a48b0"/><stop offset="1.00" stop-color="#3581d3"/></linearGradient><linearGradient id="g22" x1="1" y1="0" x2="0" y2="1"><stop offset="0.00" stop-color="#2843a9"/><stop offset="1.00" stop-color="#3067c3"/></linearGradient><linearGradient id="g23" x1="0" y1="0" x2="1" y2="0"><stop offset="0.00" stop-color="#3c9ce0"/><stop offset="0.20" stop-color="#e5e02b"/><stop offset="0.45" stop-color="#ea5721"/><stop offset="1.00" stop-color="#ed6721"/></linearGradient><linearGradient id="g24" x1="0" y1="0" x2="0" y2="1"><stop offset="0.00" stop-color="#a4d46c"/><stop offset="0.50" stop-color="#6bcabc"/><stop offset="1.00" stop-color="#3c9ce0"/></linearGradient><linearGradient id="g25" x1="0" y1="0" x2="1" y2="0"><stop offset="0.00" stop-color="#44b8ea"/><stop offset="0.60" stop-color="#a4d46c"/><stop offset="1.00" stop-color="#e5e02b"/></linearGradient><linearGradient id="g26" x1="0" y1="0" x2="1" y2="0"><stop offset="0.00" stop-color="#2946ad"/><stop offset="0.50" stop-color="#2b4db3"/><stop offset="0.80" stop-color="#3fa7e4"/><stop offset="1.00" stop-color="#5dc8d0"/></linearGradient><linearGradient id="g27" x1="0" y1="0" x2="1" y2="0"><stop offset="0.00" stop-color="#4fc5e4"/><stop offset="0.50" stop-color="#a4d46c"/><stop offset="1.00" stop-color="#f2d51f"/></linearGradient><linearGradient id="g28" x1="0" y1="0" x2="1" y2="1"><stop offset="0.00" stop-color="#3067c3"/><stop offset="1.00" stop-color="#44b8ea"/></linearGradient><linearGradient id="g29" x1="0" y1="0" x2="1" y2="0"><stop offset="0.00" stop-color="#3067c3"/><stop offset="0.60" stop-color="#3c9ce0"/><stop offset="1.00" stop-color="#46beec"/></linearGradient><linearGradient id="g30" x1="0" y1="0" x2="1" y2="1"><stop offset="0.00" stop-color="#3271c9"/><stop offset="0.45" stop-color="#2a48b0"/><stop offset="1.00" stop-color="#263ea2"/></linearGradient><linearGradient id="g31" x1="0" y1="0" x2="0" y2="1"><stop offset="0.00" stop-color="#dfde31"/><stop offset="1.00" stop-color="#9dd376"/></linearGradient><linearGradient id="g32" x1="0" y1="0" x2="1" y2="0"><stop offset="0.00" stop-color="#263ea2"/><stop offset="0.60" stop-color="#2946ad"/><stop offset="1.00" stop-color="#3581d3"/></linearGradient><linearGradient id="g33" x1="0" y1="0" x2="0" y2="1"><stop offset="0.00" stop-color="#263ea2"/><stop offset="0.60" stop-color="#2a48b0"/><stop offset="1.00" stop-color="#2843a9"/></linearGradient><linearGradient id="g34" x1="0" y1="0" x2="1" y2="1"><stop offset="0.00" stop-color="#2a48b0"/><stop offset="1.00" stop-color="#3890dc"/></linearGradient><linearGradient id="g35" x1="0" y1="0" x2="1" y2="1"><stop offset="0.00" stop-color="#2a48b0"/><stop offset="0.50" stop-color="#3067c3"/><stop offset="1.00" stop-color="#44b8ea"/></linearGradient><linearGradient id="g36" x1="0" y1="0" x2="0" y2="1"><stop offset="0.00" stop-color="#f4a321"/><stop offset="0.50" stop-color="#f3c91f"/><stop offset="1.00" stop-color="#e5e02b"/></linearGradient><linearGradient id="g37" x1="1" y1="0" x2="0" y2="1"><stop offset="0.00" stop-color="#3271c9"/><stop offset="0.50" stop-color="#a4d46c"/><stop offset="1.00" stop-color="#f49622"/></linearGradient><linearGradient id="g38" x1="0" y1="0" x2="1" y2="0"><stop offset="0.00" stop-color="#c5da4b"/><stop offset="0.30" stop-color="#f4a321"/><stop offset="0.50" stop-color="#ea5721"/><stop offset="1.00" stop-color="#e63e20"/></linearGradient><linearGradient id="g39" x1="0" y1="0" x2="1" y2="1"><stop offset="0.00" stop-color="#347bcf"/><stop offset="0.45" stop-color="#2a48b0"/><stop offset="1.00" stop-color="#263ea2"/></linearGradient><linearGradient id="g40" x1="0" y1="0" x2="0" y2="1"><stop offset="0.00" stop-color="#f38822"/><stop offset="1.00" stop-color="#f3c91f"/></linearGradient><linearGradient id="g41" x1="0" y1="0" x2="1" y2="0"><stop offset="0.00" stop-color="#263ea2"/><stop offset="0.60" stop-color="#2946ad"/><stop offset="1.00" stop-color="#3581d3"/></linearGradient><linearGradient id="g42" x1="0" y1="0" x2="0" y2="1"><stop offset="0.00" stop-color="#263ea2"/><stop offset="0.60" stop-color="#2a48b0"/><stop offset="1.00" stop-color="#2843a9"/></linearGradient><linearGradient id="g43" x1="0" y1="0" x2="1" y2="1"><stop offset="0.00" stop-color="#2a48b0"/><stop offset="1.00" stop-color="#3890dc"/></linearGradient><linearGradient id="g44" x1="0" y1="0" x2="1" y2="1"><stop offset="0.00" stop-color="#2a48b0"/><stop offset="0.50" stop-color="#3067c3"/><stop offset="1.00" stop-color="#44b8ea"/></linearGradient><linearGradient id="g45" x1="0" y1="0" x2="0" y2="1"><stop offset="0.00" stop-color="#f4a321"/><stop offset="0.50" stop-color="#f3c91f"/><stop offset="1.00" stop-color="#e5e02b"/></linearGradient><linearGradient id="g46" x1="1" y1="0" x2="0" y2="1"><stop offset="0.00" stop-color="#3271c9"/><stop offset="0.50" stop-color="#a4d46c"/><stop offset="1.00" stop-color="#f49622"/></linearGradient><linearGradient id="g47" x1="0" y1="0" x2="1" y2="0"><stop offset="0.00" stop-color="#c5da4b"/><stop offset="0.30" stop-color="#f4a321"/><stop offset="0.50" stop-color="#ea5721"/><stop offset="1.00" stop-color="#e63e20"/></linearGradient><linearGradient id="g48" x1="0" y1="0" x2="1" y2="1"><stop offset="0.00" stop-color="#2e5dbd"/><stop offset="0.45" stop-color="#2a48b0"/><stop offset="1.00" stop-color="#263ea2"/></linearGradient><linearGradient id="g49" x1="0" y1="0" x2="0" y2="1"><stop offset="0.00" stop-color="#6bcabc"/><stop offset="1.00" stop-color="#3fa7e4"/></linearGradient><linearGradient id="g50" x1="0" y1="0" x2="1" y2="0"><stop offset="0.00" stop-color="#263ea2"/><stop offset="0.60" stop-color="#2946ad"/><stop offset="1.00" stop-color="#3581d3"/></linearGradient><linearGradient id="g51" x1="0" y1="0" x2="0" y2="1"><stop offset="0.00" stop-color="#263ea2"/><stop offset="0.60" stop-color="#2a48b0"/><stop offset="1.00" stop-color="#2843a9"/></linearGradient><linearGradient id="g52" x1="0" y1="0" x2="1" y2="1"><stop offset="0.00" stop-color="#2a48b0"/><stop offset="1.00" stop-color="#3890dc"/></linearGradient><linearGradient id="g53" x1="0" y1="0" x2="0" y2="1"><stop offset="0.00" stop-color="#3067c3"/><stop offset="1.00" stop-color="#3c9ce0"/></linearGradient><linearGradient id="g54" x1="0" y1="0" x2="0" y2="1"><stop offset="0.00" stop-color="#3c9ce0"/><stop offset="1.00" stop-color="#3581d3"/></linearGradient><linearGradient id="g55" x1="0" y1="0" x2="1" y2="1"><stop offset="0.00" stop-color="#3271c9"/><stop offset="0.45" stop-color="#2a48b0"/><stop offset="1.00" stop-color="#263ea2"/></linearGradient><linearGradient id="g56" x1="0" y1="0" x2="0" y2="1"><stop offset="0.00" stop-color="#f38822"/><stop offset="1.00" stop-color="#f3c91f"/></linearGradient><linearGradient id="g57" x1="0" y1="0" x2="1" y2="0"><stop offset="0.00" stop-color="#263ea2"/><stop offset="0.60" stop-color="#2946ad"/><stop offset="1.00" stop-color="#3581d3"/></linearGradient><linearGradient id="g58" x1="0" y1="0" x2="0" y2="1"><stop offset="0.00" stop-color="#263ea2"/><stop offset="0.60" stop-color="#2a48b0"/><stop offset="1.00" stop-color="#2843a9"/></linearGradient><linearGradient id="g59" x1="0" y1="0" x2="1" y2="1"><stop offset="0.00" stop-color="#2a48b0"/><stop offset="1.00" stop-color="#3890dc"/></linearGradient><linearGradient id="g60" x1="0" y1="0" x2="1" y2="1"><stop offset="0.00" stop-color="#2a48b0"/><stop offset="0.50" stop-color="#3067c3"/><stop offset="1.00" stop-color="#44b8ea"/></linearGradient><linearGradient id="g61" x1="0" y1="0" x2="0" y2="1"><stop offset="0.00" stop-color="#f4a321"/><stop offset="0.50" stop-color="#f3c91f"/><stop offset="1.00" stop-color="#e5e02b"/></linearGradient><linearGradient id="g62" x1="1" y1="0" x2="0" y2="1"><stop offset="0.00" stop-color="#3271c9"/><stop offset="0.50" stop-color="#a4d46c"/><stop offset="1.00" stop-color="#f49622"/></linearGradient><linearGradient id="g63" x1="0" y1="0" x2="1" y2="0"><stop offset="0.00" stop-color="#c5da4b"/><stop offset="0.30" stop-color="#f4a321"/><stop offset="0.50" stop-color="#ea5721"/><stop offset="1.00" stop-color="#e63e20"/></linearGradient><linearGradient id="g64" x1="0" y1="0" x2="1" y2="0"><stop offset="0.00" stop-color="#2c3a9e"/><stop offset="0.25" stop-color="#8088c8"/><stop offset="0.50" stop-color="#ffffff"/><stop offset="0.75" stop-color="#f08890"/><stop offset="1.00" stop-color="#e0202c"/></linearGradient></defs><rect x="0.5" y="0.5" width="519" height="574" fill="#fff" stroke="#2b2b2b" stroke-width="1"/><text x="8.9" y="15.0" font-size="10.6" text-anchor="start" fill="#000" font-weight="bold">A</text><text x="92.8" y="15.6" font-size="10.6" text-anchor="start" fill="#000" font-weight="bold">B</text><text x="306.8" y="15.6" font-size="10.6" text-anchor="start" fill="#000" font-weight="bold">C</text><text x="9.1" y="329.8" font-size="10.6" text-anchor="start" fill="#000" font-weight="bold">D</text><text x="422.5" y="330.0" font-size="10.6" text-anchor="start" fill="#000" font-weight="bold">E</text><rect x="40.20" y="25.00" width="34.20" height="14.40" fill="none" stroke="#2b2b2b" stroke-width="1.25"/><text x="57.0" y="35.4" font-size="8.0" text-anchor="middle" fill="#231f20" font-weight="normal">CD34+</text><rect x="92.50" y="24.90" width="30.10" height="14.70" fill="none" stroke="#2b2b2b" stroke-width="1.25"/><text x="107.4" y="35.4" font-size="8.0" text-anchor="middle" fill="#231f20" font-weight="normal">p-p65</text><rect x="307.50" y="24.90" width="26.60" height="14.70" fill="none" stroke="#2b2b2b" stroke-width="1.25"/><text x="320.8" y="35.4" font-size="8.0" text-anchor="middle" fill="#231f20" font-weight="normal">I&#954;B&#945;</text><text x="0" y="0" font-size="8.0" text-anchor="middle" fill="#231f20" font-weight="normal" transform="translate(138.90 42.0) scale(0.95 1)">Basal</text><text x="0" y="0" font-size="8.0" text-anchor="middle" fill="#231f20" font-weight="normal" transform="translate(182.00 42.0) scale(0.95 1)">Pev</text><text x="0" y="0" font-size="8.0" text-anchor="middle" fill="#231f20" font-weight="normal" transform="translate(229.00 42.0) scale(0.95 1)">TNF&#945;</text><text x="0" y="0" font-size="8.0" text-anchor="middle" fill="#231f20" font-weight="normal" transform="translate(275.00 42.0) scale(0.95 1)">Pev + TNF&#945;</text><text x="0" y="0" font-size="8.0" text-anchor="middle" fill="#231f20" font-weight="normal" transform="translate(355.30 42.0) scale(0.95 1)">Basal</text><text x="0" y="0" font-size="8.0" text-anchor="middle" fill="#231f20" font-weight="normal" transform="translate(399.00 42.0) scale(0.95 1)">Pev</text><text x="0" y="0" font-size="8.0" text-anchor="middle" fill="#231f20" font-weight="normal" transform="translate(445.60 42.0) scale(0.95 1)">TNF&#945;</text><text x="0" y="0" font-size="8.0" text-anchor="middle" fill="#231f20" font-weight="normal" transform="translate(491.20 42.0) scale(0.95 1)">Pev + TNF&#945;</text><g transform="translate(34.0 45.0) scale(0.08846)"><use href="#sp_NBM43" fill="#4a6ccc" opacity="0.55"/><use href="#NBM43_bg" fill="url(#bgG)" filter="url(#txv)"/><use href="#NBM43_sparse" fill="#3a5cc8" filter="url(#txs)"/><use href="#NBM43_tl" fill="#2741a6" filter="url(#txd)"/><use href="#NBM43_tr" fill="#2741a6" filter="url(#txd)"/><use href="#NBM43_right" fill="#2741a6" filter="url(#txd)"/><use href="#NBM43_center" fill="#2741a6" filter="url(#txd)"/><use href="#NBM43_lc" stroke="#2741a6" filter="url(#txm)"/><use href="#NBM43_top" fill="url(#g2)" filter="url(#txd)"/><use href="#NBM43_b1" fill="#2741a6" filter="url(#txd)"/></g><g transform="translate(34.0 89.9) scale(0.08846)"><use href="#sp_MF9" fill="#4a6ccc" opacity="0.55"/><use href="#MF9_bg" fill="url(#bgG)" filter="url(#txv)"/><use href="#MF9_mid" fill="#2f4fb4" filter="url(#txm)"/><use href="#MF9_left" fill="#2741a6" filter="url(#txd)"/><use href="#MF9_top" fill="#e22620" filter="url(#txd)"/><use href="#MF9_tail" fill="url(#g3)" filter="url(#txm)"/><use href="#MF9_right" fill="#2741a6" filter="url(#txm)"/><use href="#MF9_bottom" fill="#2741a6" filter="url(#txd)"/><use href="#MF9_edge" fill="#3c9ce0" filter="url(#txd)"/><use href="#MF9_redge" stroke="#3c9ce0" filter="url(#txd)"/><use href="#MF9_tedge" stroke="url(#g4)" filter="url(#txd)"/><use href="#MF9_b1" fill="#2741a6" filter="url(#txd)"/><use href="#MF9_lg" fill="#a4d46c" filter="url(#txm)"/></g><g transform="translate(34.0 159.9) scale(0.08846)"><use href="#sp_NBM44" fill="#4a6ccc" opacity="0.55"/><use href="#NBM44_bg" fill="url(#bgG)" filter="url(#txv)"/><use href="#NBM44_red" fill="#e53620" filter="url(#txs)"/><use href="#NBM44_ul" fill="#4a70d0" filter="url(#txs)"/><use href="#NBM44_tright" fill="#3f60c4" filter="url(#txm)"/><use href="#NBM44_center" fill="#2741a6" filter="url(#txd)"/><use href="#NBM44_top" fill="#2741a6" filter="url(#txd)"/><use href="#NBM44_right" fill="#2741a6" filter="url(#txd)"/><use href="#NBM44_lb" fill="#2741a6" filter="url(#txd)"/><use href="#NBM44_streak" stroke="url(#g5)" filter="url(#txm)"/></g><g transform="translate(34.0 204.9) scale(0.08846)"><use href="#sp_sAML1" fill="#4a6ccc" opacity="0.55"/><use href="#sAML1_bg" fill="url(#bgG)" filter="url(#txv)"/><use href="#sAML1_tops" fill="#5a7ad4" filter="url(#txs)"/><use href="#sAML1_scat" fill="#ea5721" filter="url(#txs)"/><use href="#sAML1_center" fill="#2741a6" filter="url(#txmd)"/><use href="#sAML1_right" fill="#2741a6" filter="url(#txmd)"/><use href="#sAML1_tlb" fill="url(#g6)" filter="url(#txd)"/><use href="#sAML1_bottom" fill="#e22620" filter="url(#txd)"/><use href="#sAML1_b1" fill="#2741a6" filter="url(#txd)"/></g><g transform="translate(34.0 249.1) scale(0.08846)"><use href="#sp_sAML7" fill="#4a6ccc" opacity="0.55"/><use href="#sAML7_bg" fill="url(#bgG)" filter="url(#txv)"/><use href="#sAML7_ul" fill="#6a8ad8" filter="url(#txv)"/><use href="#sAML7_rightsc" fill="#2741a6" filter="url(#txs)"/><use href="#sAML7_upper" fill="#2741a6" filter="url(#txs)"/><use href="#sAML7_cy" fill="#44b8ea" filter="url(#txd)"/><use href="#sAML7_hook" stroke="#3067c3" filter="url(#txs)"/><use href="#sAML7_streak" stroke="url(#g7)" filter="url(#txd)"/><use href="#sAML7_bottom" fill="#e22620" filter="url(#txd)"/><use href="#sAML7_lb" fill="#2741a6" filter="url(#txd)"/><use href="#sAML7_tb" fill="#2741a6" filter="url(#txd)"/></g><g transform="translate(114.0 45.0) scale(0.08846)"><use href="#sp_NBM43" fill="#4a6ccc" opacity="0.55"/><use href="#NBM43_bg" fill="url(#bgG)" filter="url(#txv)"/><use href="#NBM43_sparse" fill="#5070cc" filter="url(#txs)"/><use href="#NBM43_tl" fill="#3548ae" filter="url(#txd)"/><use href="#NBM43_tr" fill="#3548ae" filter="url(#txd)"/><use href="#NBM43_right" fill="#3548ae" filter="url(#txd)"/><use href="#NBM43_center" fill="#3548ae" filter="url(#txd)"/><use href="#NBM43_lc" stroke="#3548ae" filter="url(#txm)"/><use href="#NBM43_top" fill="#3548ae" filter="url(#txd)"/><use href="#NBM43_b1" fill="#3548ae" filter="url(#txd)"/></g><g transform="translate(114.0 89.9) scale(0.08846)"><use href="#sp_MF9" fill="#4a6ccc" opacity="0.55"/><use href="#MF9_bg" fill="url(#bgG)" filter="url(#txv)"/><use href="#MF9_mid" fill="#3548ae" filter="url(#txm)"/><use href="#MF9_mid" fill="#3c9ce0" filter="url(#txo1)"/><use href="#MF9_mid" fill="#5dc8d0" filter="url(#txo2)"/><use href="#MF9_left" fill="#3548ae" filter="url(#txd)"/><use href="#MF9_top" fill="url(#g8)" filter="url(#txd)"/><use href="#MF9_tail" fill="#3581d3" filter="url(#txm)"/><use href="#MF9_right" fill="#3548ae" filter="url(#txm)"/><use href="#MF9_bottom" fill="url(#g10)" filter="url(#txd)"/><use href="#MF9_edge" fill="url(#g9)" filter="url(#txd)"/><use href="#MF9_redge" stroke="#4fc5e4" filter="url(#txd)"/><use href="#MF9_b1" fill="#3548ae" filter="url(#txd)"/><use href="#MF9_lg" fill="#3c9ce0" filter="url(#txm)"/></g><g transform="translate(114.0 159.9) scale(0.08846)"><use href="#sp_NBM44" fill="#4a6ccc" opacity="0.55"/><use href="#NBM44_bg" fill="url(#bgG)" filter="url(#txv)"/><use href="#NBM44_red" fill="#4a64c8" filter="url(#txv)"/><use href="#NBM44_ul" fill="#4a64c8" filter="url(#txm)"/><use href="#NBM44_tright" fill="#3548ae" filter="url(#txd)"/><use href="#NBM44_center" fill="#3a58b8" filter="url(#txd)"/><use href="#NBM44_top" fill="#3548ae" filter="url(#txd)"/><use href="#NBM44_right" fill="#3548ae" filter="url(#txd)"/><use href="#NBM44_lb" fill="#3548ae" filter="url(#txd)"/><use href="#NBM44_streak" stroke="#3548ae" filter="url(#txm)"/></g><g transform="translate(114.0 204.9) scale(0.08846)"><use href="#sp_sAML1" fill="#4a6ccc" opacity="0.55"/><use href="#sAML1_bg" fill="url(#bgG)" filter="url(#txv)"/><use href="#sAML1_tops" fill="#4a6ad0" filter="url(#txs)"/><use href="#sAML1_scat" fill="#3548ae" filter="url(#txs)"/><use href="#sAML1_center" fill="#3a5ac0" filter="url(#txmd)"/><use href="#sAML1_center" fill="#3c9ce0" filter="url(#txo1)"/><use href="#sAML1_right" fill="#3548ae" filter="url(#txmd)"/><use href="#sAML1_tlb" fill="#3548ae" filter="url(#txd)"/><use href="#sAML1_bottom" fill="#3548ae" filter="url(#txd)"/><use href="#sAML1_b1" fill="#3548ae" filter="url(#txd)"/></g><g transform="translate(114.0 249.1) scale(0.08846)"><use href="#sp_sAML7" fill="#4a6ccc" opacity="0.55"/><use href="#sAML7_bg" fill="url(#bgG)" filter="url(#txv)"/><use href="#sAML7_ul" fill="#5a7ad4" filter="url(#txv)"/><use href="#sAML7_rightsc" fill="#3548ae" filter="url(#txs)"/><use href="#sAML7_upper" fill="#3548ae" filter="url(#txs)"/><use href="#sAML7_cy" fill="#3581d3" filter="url(#txd)"/><use href="#sAML7_hook" stroke="#3548ae" filter="url(#txmd)"/><use href="#sAML7_streak" stroke="#3548ae" filter="url(#txd)"/><use href="#sAML7_bottom" fill="#3548ae" filter="url(#txd)"/><use href="#sAML7_lb" fill="#3548ae" filter="url(#txd)"/><use href="#sAML7_tb" fill="#3548ae" filter="url(#txd)"/></g><g transform="translate(159.0 45.0) scale(0.08846)"><use href="#sp_NBM43" fill="#4a6ccc" opacity="0.55"/><use href="#NBM43_bg" fill="url(#bgG)" filter="url(#txv)"/><use href="#NBM43_sparse" fill="#5070cc" filter="url(#txs)"/><use href="#NBM43_tl" fill="#3548ae" filter="url(#txd)"/><use href="#NBM43_tr" fill="#3548ae" filter="url(#txd)"/><use href="#NBM43_right" fill="#3548ae" filter="url(#txd)"/><use href="#NBM43_center" fill="#3548ae" filter="url(#txd)"/><use href="#NBM43_lc" stroke="#3548ae" filter="url(#txm)"/><use href="#NBM43_top" fill="#3548ae" filter="url(#txd)"/><use href="#NBM43_b1" fill="#3548ae" filter="url(#txd)"/></g><g transform="translate(159.0 89.9) scale(0.08846)"><use href="#sp_MF9" fill="#4a6ccc" opacity="0.55"/><use href="#MF9_bg" fill="url(#bgG)" filter="url(#txv)"/><use href="#MF9_mid" fill="#3548ae" filter="url(#txm)"/><use href="#MF9_mid" fill="#3c9ce0" filter="url(#txo1)"/><use href="#MF9_mid" fill="#5dc8d0" filter="url(#txo2)"/><use href="#MF9_left" fill="#3548ae" filter="url(#txd)"/><use href="#MF9_top" fill="url(#g11)" filter="url(#txd)"/><use href="#MF9_tail" fill="#3271c9" filter="url(#txm)"/><use href="#MF9_right" fill="#3548ae" filter="url(#txm)"/><use href="#MF9_bottom" fill="url(#g13)" filter="url(#txd)"/><use href="#MF9_edge" fill="url(#g12)" filter="url(#txd)"/><use href="#MF9_redge" stroke="#46beec" filter="url(#txd)"/><use href="#MF9_b1" fill="#3548ae" filter="url(#txd)"/><use href="#MF9_lg" fill="#3c9ce0" filter="url(#txm)"/></g><g transform="translate(159.0 159.9) scale(0.08846)"><use href="#sp_NBM44" fill="#4a6ccc" opacity="0.55"/><use href="#NBM44_bg" fill="url(#bgG)" filter="url(#txv)"/><use href="#NBM44_red" fill="#4a64c8" filter="url(#txv)"/><use href="#NBM44_ul" fill="#4a64c8" filter="url(#txm)"/><use href="#NBM44_tright" fill="#3548ae" filter="url(#txd)"/><use href="#NBM44_center" fill="#3a58b8" filter="url(#txd)"/><use href="#NBM44_top" fill="#3548ae" filter="url(#txd)"/><use href="#NBM44_right" fill="#3548ae" filter="url(#txd)"/><use href="#NBM44_lb" fill="#3548ae" filter="url(#txd)"/><use href="#NBM44_streak" stroke="#3548ae" filter="url(#txm)"/></g><g transform="translate(159.0 204.9) scale(0.08846)"><use href="#sp_sAML1" fill="#4a6ccc" opacity="0.55"/><use href="#sAML1_bg" fill="url(#bgG)" filter="url(#txv)"/><use href="#sAML1_tops" fill="#4a6ad0" filter="url(#txs)"/><use href="#sAML1_scat" fill="#3548ae" filter="url(#txs)"/><use href="#sAML1_center" fill="url(#g14)" filter="url(#txmd)"/><use href="#sAML1_center" fill="#3fa7e4" filter="url(#txo1)"/><use href="#sAML1_center" fill="#81ce9e" filter="url(#txo2)"/><use href="#sAML1_right" fill="#3548ae" filter="url(#txmd)"/><use href="#sAML1_tlb" fill="#3548ae" filter="url(#txd)"/><use href="#sAML1_bottom" fill="#3548ae" filter="url(#txd)"/><use href="#sAML1_b1" fill="#3548ae" filter="url(#txd)"/></g><g transform="translate(159.0 249.1) scale(0.08846)"><use href="#sp_sAML7" fill="#4a6ccc" opacity="0.55"/><use href="#sAML7_bg" fill="url(#bgG)" filter="url(#txv)"/><use href="#sAML7_ul" fill="#5a7ad4" filter="url(#txv)"/><use href="#sAML7_rightsc" fill="#3548ae" filter="url(#txs)"/><use href="#sAML7_upper" fill="#3548ae" filter="url(#txs)"/><use href="#sAML7_cy" fill="#3581d3" filter="url(#txd)"/><use href="#sAML7_hook" stroke="#3548ae" filter="url(#txmd)"/><use href="#sAML7_streak" stroke="#3548ae" filter="url(#txd)"/><use href="#sAML7_bottom" fill="#3548ae" filter="url(#txd)"/><use href="#sAML7_lb" fill="#3548ae" filter="url(#txd)"/><use href="#sAML7_tb" fill="#3548ae" filter="url(#txd)"/></g><g transform="translate(204.0 45.0) scale(0.08846)"><use href="#sp_NBM43" fill="#4a6ccc" opacity="0.55"/><use href="#NBM43_bg" fill="url(#bgG)" filter="url(#txv)"/><use href="#NBM43_sparse" fill="#5070cc" filter="url(#txs)"/><use href="#NBM43_tl" fill="#3067c3" filter="url(#txd)"/><use href="#NBM43_tr" fill="#3548ae" filter="url(#txd)"/><use href="#NBM43_right" fill="#3548ae" filter="url(#txd)"/><use href="#NBM43_center" fill="#3548ae" filter="url(#txd)"/><use href="#NBM43_lc" stroke="#3548ae" filter="url(#txm)"/><use href="#NBM43_top" fill="url(#g15)" filter="url(#txd)"/><use href="#NBM43_b1" fill="#3548ae" filter="url(#txd)"/></g><g transform="translate(204.0 89.9) scale(0.08846)"><use href="#sp_MF9" fill="#4a6ccc" opacity="0.55"/><use href="#MF9_bg" fill="url(#bgG)" filter="url(#txv)"/><use href="#MF9_mid" fill="#3548ae" filter="url(#txm)"/><use href="#MF9_mid" fill="#3c9ce0" filter="url(#txo1)"/><use href="#MF9_mid" fill="#c5da4b" filter="url(#txo2)"/><use href="#MF9_left" fill="#3548ae" filter="url(#txd)"/><use href="#MF9_top" fill="url(#g16)" filter="url(#txd)"/><use href="#MF9_tail" fill="#c5da4b" filter="url(#txm)"/><use href="#MF9_right" fill="#2e5dbd" filter="url(#txm)"/><use href="#MF9_bottom" fill="url(#g18)" filter="url(#txd)"/><use href="#MF9_edge" fill="url(#g17)" filter="url(#txd)"/><use href="#MF9_redge" stroke="#81ce9e" filter="url(#txd)"/><use href="#MF9_b1" fill="#3548ae" filter="url(#txd)"/><use href="#MF9_lg" fill="#3c9ce0" filter="url(#txm)"/></g><g transform="translate(204.0 159.9) scale(0.08846)"><use href="#sp_NBM44" fill="#4a6ccc" opacity="0.55"/><use href="#NBM44_bg" fill="url(#bgG)" filter="url(#txv)"/><use href="#NBM44_red" fill="#5dc8d0" filter="url(#txv)"/><use href="#NBM44_ul" fill="#4a64c8" filter="url(#txm)"/><use href="#NBM44_tright" fill="#3548ae" filter="url(#txd)"/><use href="#NBM44_center" fill="url(#g19)" filter="url(#txd)"/><use href="#NBM44_top" fill="#3548ae" filter="url(#txd)"/><use href="#NBM44_right" fill="#3548ae" filter="url(#txd)"/><use href="#NBM44_lb" fill="#3548ae" filter="url(#txd)"/><use href="#NBM44_streak" stroke="#5dc8d0" filter="url(#txm)"/></g><g transform="translate(204.0 204.9) scale(0.08846)"><use href="#sp_sAML1" fill="#4a6ccc" opacity="0.55"/><use href="#sAML1_bg" fill="url(#bgG)" filter="url(#txv)"/><use href="#sAML1_tops" fill="#4a6ad0" filter="url(#txs)"/><use href="#sAML1_scat" fill="#81ce9e" filter="url(#txs)"/><use href="#sAML1_center" fill="url(#g21)" filter="url(#txmd)"/><use href="#sAML1_center" fill="#4fc5e4" filter="url(#txo1)"/><use href="#sAML1_center" fill="#e5e02b" filter="url(#txo2)"/><use href="#sAML1_right" fill="#2e5dbd" filter="url(#txmd)"/><use href="#sAML1_tlb" fill="url(#g22)" filter="url(#txd)"/><use href="#sAML1_bottom" fill="url(#g20)" filter="url(#txd)"/><use href="#sAML1_b1" fill="#3548ae" filter="url(#txd)"/></g><g transform="translate(204.0 249.1) scale(0.08846)"><use href="#sp_sAML7" fill="#4a6ccc" opacity="0.55"/><use href="#sAML7_bg" fill="url(#bgG)" filter="url(#txv)"/><use href="#sAML7_ul" fill="#3c9ce0" filter="url(#txv)"/><use href="#sAML7_rightsc" fill="#3581d3" filter="url(#txs)"/><use href="#sAML7_upper" fill="#3271c9" filter="url(#txs)"/><use href="#sAML7_cy" fill="#81ce9e" filter="url(#txd)"/><use href="#sAML7_hook" stroke="#4fc5e4" filter="url(#txmd)"/><use href="#sAML7_streak" stroke="#c5da4b" filter="url(#txd)"/><use href="#sAML7_bottom" fill="url(#g23)" filter="url(#txd)"/><use href="#sAML7_lb" fill="#3067c3" filter="url(#txd)"/><use href="#sAML7_tb" fill="#3548ae" filter="url(#txd)"/></g><g transform="translate(249.0 45.0) scale(0.08846)"><use href="#sp_NBM43" fill="#4a6ccc" opacity="0.55"/><use href="#NBM43_bg" fill="url(#bgG)" filter="url(#txv)"/><use href="#NBM43_sparse" fill="#5070cc" filter="url(#txs)"/><use href="#NBM43_tl" fill="#3548ae" filter="url(#txd)"/><use href="#NBM43_tr" fill="#3548ae" filter="url(#txd)"/><use href="#NBM43_right" fill="#3548ae" filter="url(#txd)"/><use href="#NBM43_center" fill="#3548ae" filter="url(#txd)"/><use href="#NBM43_lc" stroke="#3548ae" filter="url(#txm)"/><use href="#NBM43_top" fill="#3548ae" filter="url(#txd)"/><use href="#NBM43_b1" fill="#3548ae" filter="url(#txd)"/></g><g transform="translate(249.0 89.9) scale(0.08846)"><use href="#sp_MF9" fill="#4a6ccc" opacity="0.55"/><use href="#MF9_bg" fill="url(#bgG)" filter="url(#txv)"/><use href="#MF9_mid" fill="#3548ae" filter="url(#txm)"/><use href="#MF9_mid" fill="#3c9ce0" filter="url(#txo1)"/><use href="#MF9_mid" fill="#5dc8d0" filter="url(#txo2)"/><use href="#MF9_left" fill="#3548ae" filter="url(#txd)"/><use href="#MF9_top" fill="url(#g24)" filter="url(#txd)"/><use href="#MF9_tail" fill="#44b8ea" filter="url(#txm)"/><use href="#MF9_right" fill="#3548ae" filter="url(#txm)"/><use href="#MF9_bottom" fill="url(#g26)" filter="url(#txd)"/><use href="#MF9_edge" fill="url(#g25)" filter="url(#txd)"/><use href="#MF9_redge" stroke="#5dc8d0" filter="url(#txd)"/><use href="#MF9_b1" fill="#3548ae" filter="url(#txd)"/><use href="#MF9_lg" fill="#3c9ce0" filter="url(#txm)"/></g><g transform="translate(249.0 159.9) scale(0.08846)"><use href="#sp_NBM44" fill="#4a6ccc" opacity="0.55"/><use href="#NBM44_bg" fill="url(#bgG)" filter="url(#txv)"/><use href="#NBM44_red" fill="#4a64c8" filter="url(#txv)"/><use href="#NBM44_ul" fill="#4a64c8" filter="url(#txm)"/><use href="#NBM44_tright" fill="#3548ae" filter="url(#txd)"/><use href="#NBM44_center" fill="#3a58b8" filter="url(#txd)"/><use href="#NBM44_top" fill="#3548ae" filter="url(#txd)"/><use href="#NBM44_right" fill="#3548ae" filter="url(#txd)"/><use href="#NBM44_lb" fill="#3548ae" filter="url(#txd)"/><use href="#NBM44_streak" stroke="#3548ae" filter="url(#txm)"/></g><g transform="translate(249.0 204.9) scale(0.08846)"><use href="#sp_sAML1" fill="#4a6ccc" opacity="0.55"/><use href="#sAML1_bg" fill="url(#bgG)" filter="url(#txv)"/><use href="#sAML1_tops" fill="#4a6ad0" filter="url(#txs)"/><use href="#sAML1_scat" fill="#44b8ea" filter="url(#txs)"/><use href="#sAML1_center" fill="url(#g28)" filter="url(#txmd)"/><use href="#sAML1_right" fill="#3548ae" filter="url(#txmd)"/><use href="#sAML1_tlb" fill="#3548ae" filter="url(#txd)"/><use href="#sAML1_bottom" fill="url(#g27)" filter="url(#txd)"/><use href="#sAML1_b1" fill="#3548ae" filter="url(#txd)"/></g><g transform="translate(249.0 249.1) scale(0.08846)"><use href="#sp_sAML7" fill="#4a6ccc" opacity="0.55"/><use href="#sAML7_bg" fill="url(#bgG)" filter="url(#txv)"/><use href="#sAML7_ul" fill="#5a7ad4" filter="url(#txv)"/><use href="#sAML7_rightsc" fill="#3548ae" filter="url(#txs)"/><use href="#sAML7_upper" fill="#3548ae" filter="url(#txs)"/><use href="#sAML7_cy" fill="#3581d3" filter="url(#txd)"/><use href="#sAML7_hook" stroke="#3548ae" filter="url(#txmd)"/><use href="#sAML7_streak" stroke="#3548ae" filter="url(#txd)"/><use href="#sAML7_bottom" fill="url(#g29)" filter="url(#txd)"/><use href="#sAML7_lb" fill="#3548ae" filter="url(#txd)"/><use href="#sAML7_tb" fill="#3548ae" filter="url(#txd)"/></g><g transform="translate(332.2 45.0) scale(0.08846)"><use href="#sp_NBM43" fill="#4a6ccc" opacity="0.55"/><use href="#NBM43_bg" fill="url(#bgG)" filter="url(#txv)"/><use href="#NBM43_sparse" fill="#3c9ce0" filter="url(#txs)"/><use href="#NBM43_tl" fill="#2c48ac" filter="url(#txd)"/><use href="#NBM43_tr" fill="#2c48ac" filter="url(#txd)"/><use href="#NBM43_right" fill="#2c48ac" filter="url(#txd)"/><use href="#NBM43_right" fill="#3c9ce0" filter="url(#txo1)"/><use href="#NBM43_center" fill="url(#g30)" filter="url(#txd)"/><use href="#NBM43_center" fill="#46beec" filter="url(#txo1)"/><use href="#NBM43_center" fill="#a4d46c" filter="url(#txo2)"/><use href="#NBM43_lc" stroke="#3581d3" filter="url(#txm)"/><use href="#NBM43_top" fill="#c5da4b" filter="url(#txmd)"/><use href="#NBM43_top" fill="#5dc8d0" filter="url(#txo1)"/><use href="#NBM43_top" fill="#f2cf1f" filter="url(#txo2)"/><use href="#NBM43_b1" fill="#2c48ac" filter="url(#txd)"/></g><g transform="translate(332.2 89.9) scale(0.08846)"><use href="#sp_MF9" fill="#4a6ccc" opacity="0.55"/><use href="#MF9_bg" fill="url(#bgG)" filter="url(#txv)"/><use href="#MF9_mid" fill="#2b4db3" filter="url(#txs)"/><use href="#MF9_mid" fill="#44b8ea" filter="url(#txo1)"/><use href="#MF9_mid" fill="#e5e02b" filter="url(#txo2)"/><use href="#MF9_left" fill="#2c48ac" filter="url(#txd)"/><use href="#MF9_top" fill="url(#g31)" filter="url(#txd)"/><use href="#MF9_tail" fill="#72cbb2" filter="url(#txm)"/><use href="#MF9_right" fill="#3c9ce0" filter="url(#txm)"/><use href="#MF9_right" fill="#81ce9e" filter="url(#txo1)"/><use href="#MF9_right" fill="#f2cf1f" filter="url(#txo2)"/><use href="#MF9_bottom" fill="url(#g32)" filter="url(#txd)"/><use href="#MF9_edge" fill="#5dc8d0" filter="url(#txd)"/><use href="#MF9_redge" stroke="#44b8ea" filter="url(#txd)"/><use href="#MF9_b1" fill="#4fc5e4" filter="url(#txd)"/><use href="#MF9_lg" fill="#44b8ea" filter="url(#txm)"/></g><g transform="translate(332.2 159.9) scale(0.08846)"><use href="#sp_NBM44" fill="#4a6ccc" opacity="0.55"/><use href="#NBM44_bg" fill="url(#bgG)" filter="url(#txv)"/><use href="#NBM44_red" fill="#6bcabc" filter="url(#txv)"/><use href="#NBM44_ul" fill="#2c48ac" filter="url(#txm)"/><use href="#NBM44_tright" fill="#2c48ac" filter="url(#txd)"/><use href="#NBM44_center" fill="url(#g33)" filter="url(#txd)"/><use href="#NBM44_center" fill="#44b8ea" filter="url(#txo1)"/><use href="#NBM44_center" fill="#96d280" filter="url(#txo2)"/><use href="#NBM44_top" fill="#2c48ac" filter="url(#txd)"/><use href="#NBM44_right" fill="url(#g34)" filter="url(#txd)"/><use href="#NBM44_lb" fill="#3067c3" filter="url(#txd)"/><use href="#NBM44_streak" stroke="#3c9ce0" filter="url(#txm)"/></g><g transform="translate(332.2 204.9) scale(0.08846)"><use href="#sp_sAML1" fill="#4a6ccc" opacity="0.55"/><use href="#sAML1_bg" fill="url(#bgG)" filter="url(#txv)"/><use href="#sAML1_tops" fill="#44b8ea" filter="url(#txs)"/><use href="#sAML1_scat" fill="#5dc8d0" filter="url(#txs)"/><use href="#sAML1_scat" fill="#f2cf1f" filter="url(#txo1)"/><use href="#sAML1_center" fill="url(#g35)" filter="url(#txmd)"/><use href="#sAML1_center" fill="#4fc5e4" filter="url(#txo1)"/><use href="#sAML1_center" fill="#f3c91f" filter="url(#txo2)"/><use href="#sAML1_right" fill="url(#g37)" filter="url(#txmd)"/><use href="#sAML1_right" fill="#f4a321" filter="url(#txo1)"/><use href="#sAML1_right" fill="#5dc8d0" filter="url(#txo2)"/><use href="#sAML1_tlb" fill="#223595" filter="url(#txd)"/><use href="#sAML1_bottom" fill="url(#g36)" filter="url(#txd)"/><use href="#sAML1_b1" fill="#2c48ac" filter="url(#txd)"/></g><g transform="translate(332.2 249.1) scale(0.08846)"><use href="#sp_sAML7" fill="#4a6ccc" opacity="0.55"/><use href="#sAML7_bg" fill="url(#bgG)" filter="url(#txv)"/><use href="#sAML7_ul" fill="#6a8ad8" filter="url(#txv)"/><use href="#sAML7_rightsc" fill="#2c48ac" filter="url(#txs)"/><use href="#sAML7_upper" fill="#2c48ac" filter="url(#txmd)"/><use href="#sAML7_cy" fill="#f3bc20" filter="url(#txd)"/><use href="#sAML7_hook" stroke="#2c48ac" filter="url(#txmd)"/><use href="#sAML7_streak" stroke="#5dc8d0" filter="url(#txd)"/><use href="#sAML7_bottom" fill="url(#g38)" filter="url(#txd)"/><use href="#sAML7_lb" fill="#3c9ce0" filter="url(#txd)"/><use href="#sAML7_tb" fill="#2c48ac" filter="url(#txd)"/></g><g transform="translate(377.2 45.0) scale(0.08846)"><use href="#sp_NBM43" fill="#4a6ccc" opacity="0.55"/><use href="#NBM43_bg" fill="url(#bgG)" filter="url(#txv)"/><use href="#NBM43_sparse" fill="#3c9ce0" filter="url(#txs)"/><use href="#NBM43_tl" fill="#2c48ac" filter="url(#txd)"/><use href="#NBM43_tr" fill="#2c48ac" filter="url(#txd)"/><use href="#NBM43_right" fill="#2c48ac" filter="url(#txd)"/><use href="#NBM43_right" fill="#3c9ce0" filter="url(#txo1)"/><use href="#NBM43_center" fill="url(#g39)" filter="url(#txd)"/><use href="#NBM43_center" fill="#4fc5e4" filter="url(#txo1)"/><use href="#NBM43_center" fill="#a4d46c" filter="url(#txo2)"/><use href="#NBM43_lc" stroke="#3581d3" filter="url(#txm)"/><use href="#NBM43_top" fill="#c5da4b" filter="url(#txmd)"/><use href="#NBM43_top" fill="#5dc8d0" filter="url(#txo1)"/><use href="#NBM43_top" fill="#f2cf1f" filter="url(#txo2)"/><use href="#NBM43_b1" fill="#2c48ac" filter="url(#txd)"/></g><g transform="translate(377.2 89.9) scale(0.08846)"><use href="#sp_MF9" fill="#4a6ccc" opacity="0.55"/><use href="#MF9_bg" fill="url(#bgG)" filter="url(#txv)"/><use href="#MF9_mid" fill="#2b4db3" filter="url(#txs)"/><use href="#MF9_mid" fill="#44b8ea" filter="url(#txo1)"/><use href="#MF9_mid" fill="#e5e02b" filter="url(#txo2)"/><use href="#MF9_left" fill="#2c48ac" filter="url(#txd)"/><use href="#MF9_top" fill="url(#g40)" filter="url(#txd)"/><use href="#MF9_tail" fill="#e5e02b" filter="url(#txm)"/><use href="#MF9_right" fill="#3c9ce0" filter="url(#txm)"/><use href="#MF9_right" fill="#c5da4b" filter="url(#txo1)"/><use href="#MF9_right" fill="#f49022" filter="url(#txo2)"/><use href="#MF9_bottom" fill="url(#g41)" filter="url(#txd)"/><use href="#MF9_edge" fill="#e5e02b" filter="url(#txd)"/><use href="#MF9_redge" stroke="#a4d46c" filter="url(#txd)"/><use href="#MF9_b1" fill="#4fc5e4" filter="url(#txd)"/><use href="#MF9_lg" fill="#44b8ea" filter="url(#txm)"/></g><g transform="translate(377.2 159.9) scale(0.08846)"><use href="#sp_NBM44" fill="#4a6ccc" opacity="0.55"/><use href="#NBM44_bg" fill="url(#bgG)" filter="url(#txv)"/><use href="#NBM44_red" fill="#6bcabc" filter="url(#txv)"/><use href="#NBM44_ul" fill="#2c48ac" filter="url(#txm)"/><use href="#NBM44_tright" fill="#2c48ac" filter="url(#txd)"/><use href="#NBM44_center" fill="url(#g42)" filter="url(#txd)"/><use href="#NBM44_center" fill="#44b8ea" filter="url(#txo1)"/><use href="#NBM44_center" fill="#96d280" filter="url(#txo2)"/><use href="#NBM44_top" fill="#2c48ac" filter="url(#txd)"/><use href="#NBM44_right" fill="url(#g43)" filter="url(#txd)"/><use href="#NBM44_lb" fill="#3067c3" filter="url(#txd)"/><use href="#NBM44_streak" stroke="#3c9ce0" filter="url(#txm)"/></g><g transform="translate(377.2 204.9) scale(0.08846)"><use href="#sp_sAML1" fill="#4a6ccc" opacity="0.55"/><use href="#sAML1_bg" fill="url(#bgG)" filter="url(#txv)"/><use href="#sAML1_tops" fill="#44b8ea" filter="url(#txs)"/><use href="#sAML1_scat" fill="#5dc8d0" filter="url(#txs)"/><use href="#sAML1_scat" fill="#f2cf1f" filter="url(#txo1)"/><use href="#sAML1_center" fill="url(#g44)" filter="url(#txmd)"/><use href="#sAML1_center" fill="#4fc5e4" filter="url(#txo1)"/><use href="#sAML1_center" fill="#f3c91f" filter="url(#txo2)"/><use href="#sAML1_right" fill="url(#g46)" filter="url(#txmd)"/><use href="#sAML1_right" fill="#f4a321" filter="url(#txo1)"/><use href="#sAML1_right" fill="#5dc8d0" filter="url(#txo2)"/><use href="#sAML1_tlb" fill="#223595" filter="url(#txd)"/><use href="#sAML1_bottom" fill="url(#g45)" filter="url(#txd)"/><use href="#sAML1_b1" fill="#2c48ac" filter="url(#txd)"/></g><g transform="translate(377.2 249.1) scale(0.08846)"><use href="#sp_sAML7" fill="#4a6ccc" opacity="0.55"/><use href="#sAML7_bg" fill="url(#bgG)" filter="url(#txv)"/><use href="#sAML7_ul" fill="#6a8ad8" filter="url(#txv)"/><use href="#sAML7_rightsc" fill="#2c48ac" filter="url(#txs)"/><use href="#sAML7_upper" fill="#2c48ac" filter="url(#txmd)"/><use href="#sAML7_cy" fill="#f3bc20" filter="url(#txd)"/><use href="#sAML7_hook" stroke="#2c48ac" filter="url(#txmd)"/><use href="#sAML7_streak" stroke="#5dc8d0" filter="url(#txd)"/><use href="#sAML7_bottom" fill="url(#g47)" filter="url(#txd)"/><use href="#sAML7_lb" fill="#3c9ce0" filter="url(#txd)"/><use href="#sAML7_tb" fill="#2c48ac" filter="url(#txd)"/></g><g transform="translate(422.2 45.0) scale(0.08846)"><use href="#sp_NBM43" fill="#4a6ccc" opacity="0.55"/><use href="#NBM43_bg" fill="url(#bgG)" filter="url(#txv)"/><use href="#NBM43_sparse" fill="#3c9ce0" filter="url(#txs)"/><use href="#NBM43_tl" fill="#2c48ac" filter="url(#txd)"/><use href="#NBM43_tr" fill="#2c48ac" filter="url(#txd)"/><use href="#NBM43_right" fill="#2c48ac" filter="url(#txd)"/><use href="#NBM43_right" fill="#3c9ce0" filter="url(#txo1)"/><use href="#NBM43_center" fill="url(#g48)" filter="url(#txd)"/><use href="#NBM43_center" fill="#3c9ce0" filter="url(#txo1)"/><use href="#NBM43_center" fill="#a4d46c" filter="url(#txo2)"/><use href="#NBM43_lc" stroke="#3581d3" filter="url(#txm)"/><use href="#NBM43_top" fill="#4fc5e4" filter="url(#txmd)"/><use href="#NBM43_top" fill="#3376cc" filter="url(#txo1)"/><use href="#NBM43_top" fill="#96d280" filter="url(#txo2)"/><use href="#NBM43_b1" fill="#2c48ac" filter="url(#txd)"/></g><g transform="translate(422.2 89.9) scale(0.08846)"><use href="#sp_MF9" fill="#4a6ccc" opacity="0.55"/><use href="#MF9_bg" fill="url(#bgG)" filter="url(#txv)"/><use href="#MF9_mid" fill="#2b4db3" filter="url(#txs)"/><use href="#MF9_mid" fill="#44b8ea" filter="url(#txo1)"/><use href="#MF9_mid" fill="#e5e02b" filter="url(#txo2)"/><use href="#MF9_left" fill="#2c48ac" filter="url(#txd)"/><use href="#MF9_top" fill="url(#g49)" filter="url(#txd)"/><use href="#MF9_tail" fill="#3686d6" filter="url(#txm)"/><use href="#MF9_right" fill="#3c9ce0" filter="url(#txm)"/><use href="#MF9_right" fill="#44b8ea" filter="url(#txo1)"/><use href="#MF9_right" fill="#c5da4b" filter="url(#txo2)"/><use href="#MF9_bottom" fill="url(#g50)" filter="url(#txd)"/><use href="#MF9_edge" fill="#44b8ea" filter="url(#txd)"/><use href="#MF9_redge" stroke="#3890dc" filter="url(#txd)"/><use href="#MF9_b1" fill="#4fc5e4" filter="url(#txd)"/><use href="#MF9_lg" fill="#44b8ea" filter="url(#txm)"/></g><g transform="translate(422.2 159.9) scale(0.08846)"><use href="#sp_NBM44" fill="#4a6ccc" opacity="0.55"/><use href="#NBM44_bg" fill="url(#bgG)" filter="url(#txv)"/><use href="#NBM44_red" fill="#3c9ce0" filter="url(#txv)"/><use href="#NBM44_ul" fill="#2c48ac" filter="url(#txm)"/><use href="#NBM44_tright" fill="#2c48ac" filter="url(#txd)"/><use href="#NBM44_center" fill="url(#g51)" filter="url(#txd)"/><use href="#NBM44_center" fill="#3271c9" filter="url(#txo1)"/><use href="#NBM44_center" fill="#96d280" filter="url(#txo2)"/><use href="#NBM44_top" fill="#2c48ac" filter="url(#txd)"/><use href="#NBM44_right" fill="url(#g52)" filter="url(#txd)"/><use href="#NBM44_lb" fill="#3067c3" filter="url(#txd)"/><use href="#NBM44_streak" stroke="#3c9ce0" filter="url(#txm)"/></g><g transform="translate(422.2 204.9) scale(0.08846)"><use href="#sp_sAML1" fill="#4a6ccc" opacity="0.55"/><use href="#sAML1_bg" fill="url(#bgG)" filter="url(#txv)"/><use href="#sAML1_tops" fill="#5a7ad4" filter="url(#txs)"/><use href="#sAML1_scat" fill="#3581d3" filter="url(#txs)"/><use href="#sAML1_center" fill="#3a5ac0" filter="url(#txmd)"/><use href="#sAML1_right" fill="#2c48ac" filter="url(#txmd)"/><use href="#sAML1_tlb" fill="#2c48ac" filter="url(#txd)"/><use href="#sAML1_bottom" fill="url(#g53)" filter="url(#txd)"/><use href="#sAML1_b1" fill="#2c48ac" filter="url(#txd)"/></g><g transform="translate(422.2 249.1) scale(0.08846)"><use href="#sp_sAML7" fill="#4a6ccc" opacity="0.55"/><use href="#sAML7_bg" fill="url(#bgG)" filter="url(#txv)"/><use href="#sAML7_ul" fill="#6a8ad8" filter="url(#txv)"/><use href="#sAML7_rightsc" fill="#2c48ac" filter="url(#txs)"/><use href="#sAML7_upper" fill="#2c48ac" filter="url(#txmd)"/><use href="#sAML7_cy" fill="#3581d3" filter="url(#txd)"/><use href="#sAML7_hook" stroke="#2c48ac" filter="url(#txmd)"/><use href="#sAML7_streak" stroke="#3c9ce0" filter="url(#txd)"/><use href="#sAML7_bottom" fill="url(#g54)" filter="url(#txd)"/><use href="#sAML7_lb" fill="#2c48ac" filter="url(#txd)"/><use href="#sAML7_tb" fill="#2c48ac" filter="url(#txd)"/></g><g transform="translate(467.2 45.0) scale(0.08846)"><use href="#sp_NBM43" fill="#4a6ccc" opacity="0.55"/><use href="#NBM43_bg" fill="url(#bgG)" filter="url(#txv)"/><use href="#NBM43_sparse" fill="#3c9ce0" filter="url(#txs)"/><use href="#NBM43_tl" fill="#2c48ac" filter="url(#txd)"/><use href="#NBM43_tr" fill="#2c48ac" filter="url(#txd)"/><use href="#NBM43_right" fill="#2c48ac" filter="url(#txd)"/><use href="#NBM43_right" fill="#3c9ce0" filter="url(#txo1)"/><use href="#NBM43_center" fill="url(#g55)" filter="url(#txd)"/><use href="#NBM43_center" fill="#46beec" filter="url(#txo1)"/><use href="#NBM43_center" fill="#a4d46c" filter="url(#txo2)"/><use href="#NBM43_lc" stroke="#3581d3" filter="url(#txm)"/><use href="#NBM43_top" fill="#a4d46c" filter="url(#txmd)"/><use href="#NBM43_top" fill="#44b8ea" filter="url(#txo1)"/><use href="#NBM43_top" fill="#e5e02b" filter="url(#txo2)"/><use href="#NBM43_b1" fill="#2c48ac" filter="url(#txd)"/></g><g transform="translate(467.2 89.9) scale(0.08846)"><use href="#sp_MF9" fill="#4a6ccc" opacity="0.55"/><use href="#MF9_bg" fill="url(#bgG)" filter="url(#txv)"/><use href="#MF9_mid" fill="#2b4db3" filter="url(#txs)"/><use href="#MF9_mid" fill="#44b8ea" filter="url(#txo1)"/><use href="#MF9_mid" fill="#e5e02b" filter="url(#txo2)"/><use href="#MF9_left" fill="#2c48ac" filter="url(#txd)"/><use href="#MF9_top" fill="url(#g56)" filter="url(#txd)"/><use href="#MF9_tail" fill="#e5e02b" filter="url(#txm)"/><use href="#MF9_right" fill="#3c9ce0" filter="url(#txm)"/><use href="#MF9_right" fill="#e5e02b" filter="url(#txo1)"/><use href="#MF9_right" fill="#ed6721" filter="url(#txo2)"/><use href="#MF9_bottom" fill="url(#g57)" filter="url(#txd)"/><use href="#MF9_edge" fill="#f2cf1f" filter="url(#txd)"/><use href="#MF9_redge" stroke="#c5da4b" filter="url(#txd)"/><use href="#MF9_b1" fill="#4fc5e4" filter="url(#txd)"/><use href="#MF9_lg" fill="#44b8ea" filter="url(#txm)"/></g><g transform="translate(467.2 159.9) scale(0.08846)"><use href="#sp_NBM44" fill="#4a6ccc" opacity="0.55"/><use href="#NBM44_bg" fill="url(#bgG)" filter="url(#txv)"/><use href="#NBM44_red" fill="#5dc8d0" filter="url(#txv)"/><use href="#NBM44_ul" fill="#2c48ac" filter="url(#txm)"/><use href="#NBM44_tright" fill="#2c48ac" filter="url(#txd)"/><use href="#NBM44_center" fill="url(#g58)" filter="url(#txd)"/><use href="#NBM44_center" fill="#3c9ce0" filter="url(#txo1)"/><use href="#NBM44_center" fill="#96d280" filter="url(#txo2)"/><use href="#NBM44_top" fill="#2c48ac" filter="url(#txd)"/><use href="#NBM44_right" fill="url(#g59)" filter="url(#txd)"/><use href="#NBM44_lb" fill="#3067c3" filter="url(#txd)"/><use href="#NBM44_streak" stroke="#3c9ce0" filter="url(#txm)"/></g><g transform="translate(467.2 204.9) scale(0.08846)"><use href="#sp_sAML1" fill="#4a6ccc" opacity="0.55"/><use href="#sAML1_bg" fill="url(#bgG)" filter="url(#txv)"/><use href="#sAML1_tops" fill="#44b8ea" filter="url(#txs)"/><use href="#sAML1_scat" fill="#5dc8d0" filter="url(#txs)"/><use href="#sAML1_scat" fill="#f2cf1f" filter="url(#txo1)"/><use href="#sAML1_center" fill="url(#g60)" filter="url(#txmd)"/><use href="#sAML1_center" fill="#4fc5e4" filter="url(#txo1)"/><use href="#sAML1_center" fill="#f3c91f" filter="url(#txo2)"/><use href="#sAML1_right" fill="url(#g62)" filter="url(#txmd)"/><use href="#sAML1_right" fill="#f4a321" filter="url(#txo1)"/><use href="#sAML1_right" fill="#5dc8d0" filter="url(#txo2)"/><use href="#sAML1_tlb" fill="#223595" filter="url(#txd)"/><use href="#sAML1_bottom" fill="url(#g61)" filter="url(#txd)"/><use href="#sAML1_b1" fill="#2c48ac" filter="url(#txd)"/></g><g transform="translate(467.2 249.1) scale(0.08846)"><use href="#sp_sAML7" fill="#4a6ccc" opacity="0.55"/><use href="#sAML7_bg" fill="url(#bgG)" filter="url(#txv)"/><use href="#sAML7_ul" fill="#6a8ad8" filter="url(#txv)"/><use href="#sAML7_rightsc" fill="#2c48ac" filter="url(#txs)"/><use href="#sAML7_upper" fill="#2c48ac" filter="url(#txmd)"/><use href="#sAML7_cy" fill="#f3bc20" filter="url(#txd)"/><use href="#sAML7_hook" stroke="#2c48ac" filter="url(#txmd)"/><use href="#sAML7_streak" stroke="#5dc8d0" filter="url(#txd)"/><use href="#sAML7_bottom" fill="url(#g63)" filter="url(#txd)"/><use href="#sAML7_lb" fill="#3c9ce0" filter="url(#txd)"/><use href="#sAML7_tb" fill="#2c48ac" filter="url(#txd)"/></g><line x1="35.00" y1="90.40" x2="80.00" y2="90.40" stroke="#2b2b2b" stroke-width="1.15"/><rect x="35.00" y="45.50" width="45.00" height="89.10" fill="none" stroke="#2b2b2b" stroke-width="1.25"/><line x1="35.00" y1="205.40" x2="80.00" y2="205.40" stroke="#2b2b2b" stroke-width="1.15"/><line x1="35.00" y1="249.60" x2="80.00" y2="249.60" stroke="#2b2b2b" stroke-width="1.15"/><rect x="35.00" y="160.40" width="45.00" height="133.60" fill="none" stroke="#2b2b2b" stroke-width="1.25"/><line x1="115.00" y1="90.40" x2="295.00" y2="90.40" stroke="#2b2b2b" stroke-width="1.15"/><line x1="160.00" y1="45.50" x2="160.00" y2="134.60" stroke="#2b2b2b" stroke-width="1.15"/><line x1="205.00" y1="45.50" x2="205.00" y2="134.60" stroke="#2b2b2b" stroke-width="1.15"/><line x1="250.00" y1="45.50" x2="250.00" y2="134.60" stroke="#2b2b2b" stroke-width="1.15"/><rect x="115.00" y="45.50" width="180.00" height="89.10" fill="none" stroke="#2b2b2b" stroke-width="1.25"/><line x1="115.00" y1="205.40" x2="295.00" y2="205.40" stroke="#2b2b2b" stroke-width="1.15"/><line x1="115.00" y1="249.60" x2="295.00" y2="249.60" stroke="#2b2b2b" stroke-width="1.15"/><line x1="160.00" y1="160.40" x2="160.00" y2="294.00" stroke="#2b2b2b" stroke-width="1.15"/><line x1="205.00" y1="160.40" x2="205.00" y2="294.00" stroke="#2b2b2b" stroke-width="1.15"/><line x1="250.00" y1="160.40" x2="250.00" y2="294.00" stroke="#2b2b2b" stroke-width="1.15"/><rect x="115.00" y="160.40" width="180.00" height="133.60" fill="none" stroke="#2b2b2b" stroke-width="1.25"/><line x1="333.20" y1="90.40" x2="513.20" y2="90.40" stroke="#2b2b2b" stroke-width="1.15"/><line x1="378.20" y1="45.50" x2="378.20" y2="134.60" stroke="#2b2b2b" stroke-width="1.15"/><line x1="423.20" y1="45.50" x2="423.20" y2="134.60" stroke="#2b2b2b" stroke-width="1.15"/><line x1="468.20" y1="45.50" x2="468.20" y2="134.60" stroke="#2b2b2b" stroke-width="1.15"/><rect x="333.20" y="45.50" width="180.00" height="89.10" fill="none" stroke="#2b2b2b" stroke-width="1.25"/><line x1="333.20" y1="205.40" x2="513.20" y2="205.40" stroke="#2b2b2b" stroke-width="1.15"/><line x1="333.20" y1="249.60" x2="513.20" y2="249.60" stroke="#2b2b2b" stroke-width="1.15"/><line x1="378.20" y1="160.40" x2="378.20" y2="294.00" stroke="#2b2b2b" stroke-width="1.15"/><line x1="423.20" y1="160.40" x2="423.20" y2="294.00" stroke="#2b2b2b" stroke-width="1.15"/><line x1="468.20" y1="160.40" x2="468.20" y2="294.00" stroke="#2b2b2b" stroke-width="1.15"/><rect x="333.20" y="160.40" width="180.00" height="133.60" fill="none" stroke="#2b2b2b" stroke-width="1.25"/><text x="0" y="0" font-size="7.9" text-anchor="end" fill="#231f20" font-weight="normal" transform="translate(30.90 68.90) scale(0.96 1)">NBM43</text><text x="0" y="0" font-size="7.9" text-anchor="end" fill="#cf2a3c" font-weight="normal" transform="translate(30.90 112.70) scale(0.96 1)">MF9</text><text x="0" y="0" font-size="7.9" text-anchor="end" fill="#231f20" font-weight="normal" transform="translate(30.90 188.90) scale(0.96 1)">NBM44</text><text x="0" y="0" font-size="7.9" text-anchor="end" fill="#2c6496" font-weight="normal" transform="translate(30.90 232.90) scale(0.96 1)">sAML1</text><text x="0" y="0" font-size="7.9" text-anchor="end" fill="#2c6496" font-weight="normal" transform="translate(30.90 276.90) scale(0.96 1)">sAML7</text><text x="0" y="0" font-size="7.9" text-anchor="end" fill="#231f20" font-weight="normal" transform="translate(111.00 68.90) scale(0.96 1)">NBM43</text><text x="0" y="0" font-size="7.9" text-anchor="end" fill="#cf2a3c" font-weight="normal" transform="translate(111.00 112.70) scale(0.96 1)">MF9</text><text x="0" y="0" font-size="7.9" text-anchor="end" fill="#231f20" font-weight="normal" transform="translate(111.00 188.90) scale(0.96 1)">NBM44</text><text x="0" y="0" font-size="7.9" text-anchor="end" fill="#2c6496" font-weight="normal" transform="translate(111.00 232.90) scale(0.96 1)">sAML1</text><text x="0" y="0" font-size="7.9" text-anchor="end" fill="#2c6496" font-weight="normal" transform="translate(111.00 276.90) scale(0.96 1)">sAML7</text><text x="0" y="0" font-size="7.9" text-anchor="end" fill="#231f20" font-weight="normal" transform="translate(329.30 68.90) scale(0.96 1)">NBM43</text><text x="0" y="0" font-size="7.9" text-anchor="end" fill="#cf2a3c" font-weight="normal" transform="translate(329.30 112.70) scale(0.96 1)">MF9</text><text x="0" y="0" font-size="7.9" text-anchor="end" fill="#231f20" font-weight="normal" transform="translate(329.30 188.90) scale(0.96 1)">NBM44</text><text x="0" y="0" font-size="7.9" text-anchor="end" fill="#2c6496" font-weight="normal" transform="translate(329.30 232.90) scale(0.96 1)">sAML1</text><text x="0" y="0" font-size="7.9" text-anchor="end" fill="#2c6496" font-weight="normal" transform="translate(329.30 276.90) scale(0.96 1)">sAML7</text><rect x="35.40" y="135.90" width="42.3" height="3.9" fill="url(#g1)"/><text x="39.70" y="145.80" font-size="7.8" text-anchor="end" fill="#231f20" font-weight="normal" transform="rotate(-45 39.70 145.80)">0</text><text x="51.12" y="145.80" font-size="7.8" text-anchor="end" fill="#231f20" font-weight="normal" transform="rotate(-45 51.12 145.80)">7.5</text><text x="61.55" y="145.80" font-size="7.8" text-anchor="end" fill="#231f20" font-weight="normal" transform="rotate(-45 61.55 145.80)">27</text><text x="71.98" y="145.80" font-size="7.8" text-anchor="end" fill="#231f20" font-weight="normal" transform="rotate(-45 71.98 145.80)">89</text><text x="82.40" y="145.80" font-size="7.8" text-anchor="end" fill="#231f20" font-weight="normal" transform="rotate(-45 82.40 145.80)">297</text><rect x="35.40" y="295.60" width="42.3" height="3.9" fill="url(#g1)"/><text x="39.70" y="305.50" font-size="7.8" text-anchor="end" fill="#231f20" font-weight="normal" transform="rotate(-45 39.70 305.50)">0</text><text x="51.12" y="305.50" font-size="7.8" text-anchor="end" fill="#231f20" font-weight="normal" transform="rotate(-45 51.12 305.50)">10</text><text x="61.55" y="305.50" font-size="7.8" text-anchor="end" fill="#231f20" font-weight="normal" transform="rotate(-45 61.55 305.50)">44</text><text x="71.98" y="305.50" font-size="7.8" text-anchor="end" fill="#231f20" font-weight="normal" transform="rotate(-45 71.98 305.50)">185</text><text x="82.40" y="305.50" font-size="7.8" text-anchor="end" fill="#231f20" font-weight="normal" transform="rotate(-45 82.40 305.50)">779</text><rect x="115.40" y="135.90" width="42.3" height="3.9" fill="url(#g1)"/><text x="119.70" y="145.80" font-size="7.8" text-anchor="end" fill="#231f20" font-weight="normal" transform="rotate(-45 119.70 145.80)">0</text><text x="131.12" y="145.80" font-size="7.8" text-anchor="end" fill="#231f20" font-weight="normal" transform="rotate(-45 131.12 145.80)">4.4</text><text x="141.55" y="145.80" font-size="7.8" text-anchor="end" fill="#231f20" font-weight="normal" transform="rotate(-45 141.55 145.80)">12</text><text x="151.97" y="145.80" font-size="7.8" text-anchor="end" fill="#231f20" font-weight="normal" transform="rotate(-45 151.97 145.80)">26</text><text x="162.40" y="145.80" font-size="7.8" text-anchor="end" fill="#231f20" font-weight="normal" transform="rotate(-45 162.40 145.80)">58</text><rect x="115.40" y="295.60" width="42.3" height="3.9" fill="url(#g1)"/><text x="119.70" y="305.50" font-size="7.8" text-anchor="end" fill="#231f20" font-weight="normal" transform="rotate(-45 119.70 305.50)">0</text><text x="131.12" y="305.50" font-size="7.8" text-anchor="end" fill="#231f20" font-weight="normal" transform="rotate(-45 131.12 305.50)">5.7</text><text x="141.55" y="305.50" font-size="7.8" text-anchor="end" fill="#231f20" font-weight="normal" transform="rotate(-45 141.55 305.50)">17</text><text x="151.97" y="305.50" font-size="7.8" text-anchor="end" fill="#231f20" font-weight="normal" transform="rotate(-45 151.97 305.50)">47</text><text x="162.40" y="305.50" font-size="7.8" text-anchor="end" fill="#231f20" font-weight="normal" transform="rotate(-45 162.40 305.50)">127</text><rect x="333.60" y="135.90" width="42.3" height="3.9" fill="url(#g1)"/><text x="337.90" y="145.80" font-size="7.8" text-anchor="end" fill="#231f20" font-weight="normal" transform="rotate(-45 337.90 145.80)">0</text><text x="349.32" y="145.80" font-size="7.8" text-anchor="end" fill="#231f20" font-weight="normal" transform="rotate(-45 349.32 145.80)">4.5</text><text x="359.75" y="145.80" font-size="7.8" text-anchor="end" fill="#231f20" font-weight="normal" transform="rotate(-45 359.75 145.80)">12</text><text x="370.17" y="145.80" font-size="7.8" text-anchor="end" fill="#231f20" font-weight="normal" transform="rotate(-45 370.17 145.80)">28</text><text x="380.60" y="145.80" font-size="7.8" text-anchor="end" fill="#231f20" font-weight="normal" transform="rotate(-45 380.60 145.80)">63</text><rect x="333.60" y="295.60" width="42.3" height="3.9" fill="url(#g1)"/><text x="337.90" y="305.50" font-size="7.8" text-anchor="end" fill="#231f20" font-weight="normal" transform="rotate(-45 337.90 305.50)">0</text><text x="349.32" y="305.50" font-size="7.8" text-anchor="end" fill="#231f20" font-weight="normal" transform="rotate(-45 349.32 305.50)">5.9</text><text x="359.75" y="305.50" font-size="7.8" text-anchor="end" fill="#231f20" font-weight="normal" transform="rotate(-45 359.75 305.50)">18</text><text x="370.17" y="305.50" font-size="7.8" text-anchor="end" fill="#231f20" font-weight="normal" transform="rotate(-45 370.17 305.50)">51</text><text x="380.60" y="305.50" font-size="7.8" text-anchor="end" fill="#231f20" font-weight="normal" transform="rotate(-45 380.60 305.50)">141</text><rect x="160.40" y="135.90" width="42.3" height="3.9" fill="url(#g1)"/><text x="164.70" y="145.80" font-size="7.8" text-anchor="end" fill="#231f20" font-weight="normal" transform="rotate(-45 164.70 145.80)">0</text><text x="176.12" y="145.80" font-size="7.8" text-anchor="end" fill="#231f20" font-weight="normal" transform="rotate(-45 176.12 145.80)">4.4</text><text x="186.55" y="145.80" font-size="7.8" text-anchor="end" fill="#231f20" font-weight="normal" transform="rotate(-45 186.55 145.80)">12</text><text x="196.97" y="145.80" font-size="7.8" text-anchor="end" fill="#231f20" font-weight="normal" transform="rotate(-45 196.97 145.80)">26</text><text x="207.40" y="145.80" font-size="7.8" text-anchor="end" fill="#231f20" font-weight="normal" transform="rotate(-45 207.40 145.80)">58</text><rect x="160.40" y="295.60" width="42.3" height="3.9" fill="url(#g1)"/><text x="164.70" y="305.50" font-size="7.8" text-anchor="end" fill="#231f20" font-weight="normal" transform="rotate(-45 164.70 305.50)">0</text><text x="176.12" y="305.50" font-size="7.8" text-anchor="end" fill="#231f20" font-weight="normal" transform="rotate(-45 176.12 305.50)">5.7</text><text x="186.55" y="305.50" font-size="7.8" text-anchor="end" fill="#231f20" font-weight="normal" transform="rotate(-45 186.55 305.50)">17</text><text x="196.97" y="305.50" font-size="7.8" text-anchor="end" fill="#231f20" font-weight="normal" transform="rotate(-45 196.97 305.50)">47</text><text x="207.40" y="305.50" font-size="7.8" text-anchor="end" fill="#231f20" font-weight="normal" transform="rotate(-45 207.40 305.50)">127</text><rect x="378.60" y="135.90" width="42.3" height="3.9" fill="url(#g1)"/><text x="382.90" y="145.80" font-size="7.8" text-anchor="end" fill="#231f20" font-weight="normal" transform="rotate(-45 382.90 145.80)">0</text><text x="394.32" y="145.80" font-size="7.8" text-anchor="end" fill="#231f20" font-weight="normal" transform="rotate(-45 394.32 145.80)">4.5</text><text x="404.75" y="145.80" font-size="7.8" text-anchor="end" fill="#231f20" font-weight="normal" transform="rotate(-45 404.75 145.80)">12</text><text x="415.17" y="145.80" font-size="7.8" text-anchor="end" fill="#231f20" font-weight="normal" transform="rotate(-45 415.17 145.80)">28</text><text x="425.60" y="145.80" font-size="7.8" text-anchor="end" fill="#231f20" font-weight="normal" transform="rotate(-45 425.60 145.80)">63</text><rect x="378.60" y="295.60" width="42.3" height="3.9" fill="url(#g1)"/><text x="382.90" y="305.50" font-size="7.8" text-anchor="end" fill="#231f20" font-weight="normal" transform="rotate(-45 382.90 305.50)">0</text><text x="394.32" y="305.50" font-size="7.8" text-anchor="end" fill="#231f20" font-weight="normal" transform="rotate(-45 394.32 305.50)">5.9</text><text x="404.75" y="305.50" font-size="7.8" text-anchor="end" fill="#231f20" font-weight="normal" transform="rotate(-45 404.75 305.50)">18</text><text x="415.17" y="305.50" font-size="7.8" text-anchor="end" fill="#231f20" font-weight="normal" transform="rotate(-45 415.17 305.50)">51</text><text x="425.60" y="305.50" font-size="7.8" text-anchor="end" fill="#231f20" font-weight="normal" transform="rotate(-45 425.60 305.50)">141</text><rect x="205.40" y="135.90" width="42.3" height="3.9" fill="url(#g1)"/><text x="209.70" y="145.80" font-size="7.8" text-anchor="end" fill="#231f20" font-weight="normal" transform="rotate(-45 209.70 145.80)">0</text><text x="221.12" y="145.80" font-size="7.8" text-anchor="end" fill="#231f20" font-weight="normal" transform="rotate(-45 221.12 145.80)">4.4</text><text x="231.55" y="145.80" font-size="7.8" text-anchor="end" fill="#231f20" font-weight="normal" transform="rotate(-45 231.55 145.80)">12</text><text x="241.97" y="145.80" font-size="7.8" text-anchor="end" fill="#231f20" font-weight="normal" transform="rotate(-45 241.97 145.80)">26</text><text x="252.40" y="145.80" font-size="7.8" text-anchor="end" fill="#231f20" font-weight="normal" transform="rotate(-45 252.40 145.80)">58</text><rect x="205.40" y="295.60" width="42.3" height="3.9" fill="url(#g1)"/><text x="209.70" y="305.50" font-size="7.8" text-anchor="end" fill="#231f20" font-weight="normal" transform="rotate(-45 209.70 305.50)">0</text><text x="221.12" y="305.50" font-size="7.8" text-anchor="end" fill="#231f20" font-weight="normal" transform="rotate(-45 221.12 305.50)">5.7</text><text x="231.55" y="305.50" font-size="7.8" text-anchor="end" fill="#231f20" font-weight="normal" transform="rotate(-45 231.55 305.50)">17</text><text x="241.97" y="305.50" font-size="7.8" text-anchor="end" fill="#231f20" font-weight="normal" transform="rotate(-45 241.97 305.50)">47</text><text x="252.40" y="305.50" font-size="7.8" text-anchor="end" fill="#231f20" font-weight="normal" transform="rotate(-45 252.40 305.50)">127</text><rect x="423.60" y="135.90" width="42.3" height="3.9" fill="url(#g1)"/><text x="427.90" y="145.80" font-size="7.8" text-anchor="end" fill="#231f20" font-weight="normal" transform="rotate(-45 427.90 145.80)">0</text><text x="439.32" y="145.80" font-size="7.8" text-anchor="end" fill="#231f20" font-weight="normal" transform="rotate(-45 439.32 145.80)">4.5</text><text x="449.75" y="145.80" font-size="7.8" text-anchor="end" fill="#231f20" font-weight="normal" transform="rotate(-45 449.75 145.80)">12</text><text x="460.17" y="145.80" font-size="7.8" text-anchor="end" fill="#231f20" font-weight="normal" transform="rotate(-45 460.17 145.80)">28</text><text x="470.60" y="145.80" font-size="7.8" text-anchor="end" fill="#231f20" font-weight="normal" transform="rotate(-45 470.60 145.80)">63</text><rect x="423.60" y="295.60" width="42.3" height="3.9" fill="url(#g1)"/><text x="427.90" y="305.50" font-size="7.8" text-anchor="end" fill="#231f20" font-weight="normal" transform="rotate(-45 427.90 305.50)">0</text><text x="439.32" y="305.50" font-size="7.8" text-anchor="end" fill="#231f20" font-weight="normal" transform="rotate(-45 439.32 305.50)">5.9</text><text x="449.75" y="305.50" font-size="7.8" text-anchor="end" fill="#231f20" font-weight="normal" transform="rotate(-45 449.75 305.50)">18</text><text x="460.17" y="305.50" font-size="7.8" text-anchor="end" fill="#231f20" font-weight="normal" transform="rotate(-45 460.17 305.50)">51</text><text x="470.60" y="305.50" font-size="7.8" text-anchor="end" fill="#231f20" font-weight="normal" transform="rotate(-45 470.60 305.50)">141</text><rect x="250.40" y="135.90" width="42.3" height="3.9" fill="url(#g1)"/><text x="254.70" y="145.80" font-size="7.8" text-anchor="end" fill="#231f20" font-weight="normal" transform="rotate(-45 254.70 145.80)">0</text><text x="266.12" y="145.80" font-size="7.8" text-anchor="end" fill="#231f20" font-weight="normal" transform="rotate(-45 266.12 145.80)">4.4</text><text x="276.55" y="145.80" font-size="7.8" text-anchor="end" fill="#231f20" font-weight="normal" transform="rotate(-45 276.55 145.80)">12</text><text x="286.97" y="145.80" font-size="7.8" text-anchor="end" fill="#231f20" font-weight="normal" transform="rotate(-45 286.97 145.80)">26</text><text x="297.40" y="145.80" font-size="7.8" text-anchor="end" fill="#231f20" font-weight="normal" transform="rotate(-45 297.40 145.80)">58</text><rect x="250.40" y="295.60" width="42.3" height="3.9" fill="url(#g1)"/><text x="254.70" y="305.50" font-size="7.8" text-anchor="end" fill="#231f20" font-weight="normal" transform="rotate(-45 254.70 305.50)">0</text><text x="266.12" y="305.50" font-size="7.8" text-anchor="end" fill="#231f20" font-weight="normal" transform="rotate(-45 266.12 305.50)">5.7</text><text x="276.55" y="305.50" font-size="7.8" text-anchor="end" fill="#231f20" font-weight="normal" transform="rotate(-45 276.55 305.50)">17</text><text x="286.97" y="305.50" font-size="7.8" text-anchor="end" fill="#231f20" font-weight="normal" transform="rotate(-45 286.97 305.50)">47</text><text x="297.40" y="305.50" font-size="7.8" text-anchor="end" fill="#231f20" font-weight="normal" transform="rotate(-45 297.40 305.50)">127</text><rect x="468.60" y="135.90" width="42.3" height="3.9" fill="url(#g1)"/><text x="472.90" y="145.80" font-size="7.8" text-anchor="end" fill="#231f20" font-weight="normal" transform="rotate(-45 472.90 145.80)">0</text><text x="484.32" y="145.80" font-size="7.8" text-anchor="end" fill="#231f20" font-weight="normal" transform="rotate(-45 484.32 145.80)">4.5</text><text x="494.75" y="145.80" font-size="7.8" text-anchor="end" fill="#231f20" font-weight="normal" transform="rotate(-45 494.75 145.80)">12</text><text x="505.17" y="145.80" font-size="7.8" text-anchor="end" fill="#231f20" font-weight="normal" transform="rotate(-45 505.17 145.80)">28</text><text x="515.60" y="145.80" font-size="7.8" text-anchor="end" fill="#231f20" font-weight="normal" transform="rotate(-45 515.60 145.80)">63</text><rect x="468.60" y="295.60" width="42.3" height="3.9" fill="url(#g1)"/><text x="472.90" y="305.50" font-size="7.8" text-anchor="end" fill="#231f20" font-weight="normal" transform="rotate(-45 472.90 305.50)">0</text><text x="484.32" y="305.50" font-size="7.8" text-anchor="end" fill="#231f20" font-weight="normal" transform="rotate(-45 484.32 305.50)">5.9</text><text x="494.75" y="305.50" font-size="7.8" text-anchor="end" fill="#231f20" font-weight="normal" transform="rotate(-45 494.75 305.50)">18</text><text x="505.17" y="305.50" font-size="7.8" text-anchor="end" fill="#231f20" font-weight="normal" transform="rotate(-45 505.17 305.50)">51</text><text x="515.60" y="305.50" font-size="7.8" text-anchor="end" fill="#231f20" font-weight="normal" transform="rotate(-45 515.60 305.50)">141</text><rect x="65.30" y="379.83" width="11.65" height="10.08" fill="#f3f5fc"/><rect x="76.90" y="379.83" width="11.65" height="10.08" fill="#f5f6fc"/><rect x="53.70" y="389.86" width="11.65" height="10.08" fill="#fafafd"/><rect x="65.30" y="409.92" width="11.65" height="10.08" fill="#fcf0f1"/><rect x="76.90" y="409.92" width="11.65" height="10.08" fill="#fdf8f9"/><rect x="65.30" y="419.95" width="11.65" height="10.08" fill="#f8d8dc"/><rect x="76.90" y="419.95" width="11.65" height="10.08" fill="#f9dde0"/><rect x="53.70" y="440.01" width="11.65" height="10.08" fill="#f3f4fc"/><rect x="65.30" y="440.01" width="11.65" height="10.08" fill="#fdf2f3"/><rect x="76.90" y="440.01" width="11.65" height="10.08" fill="#f4f5fc"/><rect x="53.70" y="460.07" width="11.65" height="10.08" fill="#f3f4fb"/><rect x="65.30" y="460.07" width="11.65" height="10.08" fill="#f3f4fb"/><rect x="76.90" y="460.07" width="11.65" height="10.08" fill="#eef0fa"/><rect x="65.30" y="490.16" width="11.65" height="10.08" fill="#fbe6e9"/><rect x="76.90" y="490.16" width="11.65" height="10.08" fill="#fdf8f9"/><rect x="53.70" y="500.19" width="11.65" height="10.08" fill="#fcf4f6"/><rect x="65.30" y="500.19" width="11.65" height="10.08" fill="#eceef8"/><rect x="65.30" y="510.22" width="11.65" height="10.08" fill="#fdf8f9"/><rect x="76.90" y="510.22" width="11.65" height="10.08" fill="#fdf8f9"/><rect x="53.70" y="369.80" width="34.80" height="160.48" rx="1" fill="none" stroke="#333" stroke-width="1.2"/><line x1="53.40" y1="532.20" x2="87.50" y2="532.20" stroke="#444" stroke-width="0.9"/><text x="61.90" y="366.6" font-size="6.9" text-anchor="start" fill="#231f20" font-weight="normal" transform="rotate(-90 61.90 366.6)">Pev</text><text x="73.50" y="366.6" font-size="6.9" text-anchor="start" fill="#231f20" font-weight="normal" transform="rotate(-90 73.50 366.6)">TNF&#945;</text><text x="85.10" y="366.6" font-size="6.9" text-anchor="start" fill="#231f20" font-weight="normal" transform="rotate(-90 85.10 366.6)">Pev + TNF&#945;</text><text x="71.90" y="540.2" font-size="7.4" text-anchor="middle" fill="#231f20" font-weight="normal" letter-spacing="0.75">NBM32</text><rect x="101.90" y="369.80" width="11.65" height="10.08" fill="#fdf8f9"/><rect x="113.50" y="369.80" width="11.65" height="10.08" fill="#fdf8f9"/><rect x="90.30" y="379.83" width="11.65" height="10.08" fill="#fdf8f9"/><rect x="101.90" y="379.83" width="11.65" height="10.08" fill="#fdf8f9"/><rect x="113.50" y="379.83" width="11.65" height="10.08" fill="#fdf8f9"/><rect x="90.30" y="389.86" width="11.65" height="10.08" fill="#fdf8f9"/><rect x="101.90" y="389.86" width="11.65" height="10.08" fill="#fdf8f9"/><rect x="113.50" y="389.86" width="11.65" height="10.08" fill="#fdf8f9"/><rect x="90.30" y="399.89" width="11.65" height="10.08" fill="#fdf8f9"/><rect x="101.90" y="399.89" width="11.65" height="10.08" fill="#fcf0f1"/><rect x="113.50" y="399.89" width="11.65" height="10.08" fill="#fcf0f1"/><rect x="90.30" y="409.92" width="11.65" height="10.08" fill="#fdf8f9"/><rect x="101.90" y="409.92" width="11.65" height="10.08" fill="#f9dce0"/><rect x="113.50" y="409.92" width="11.65" height="10.08" fill="#fae2e5"/><rect x="90.30" y="419.95" width="11.65" height="10.08" fill="#f3f5fc"/><rect x="101.90" y="419.95" width="11.65" height="10.08" fill="#fbe8ea"/><rect x="113.50" y="419.95" width="11.65" height="10.08" fill="#fbeaec"/><rect x="90.30" y="429.98" width="11.65" height="10.08" fill="#fdf8f9"/><rect x="101.90" y="429.98" width="11.65" height="10.08" fill="#fdf8f9"/><rect x="113.50" y="429.98" width="11.65" height="10.08" fill="#fdf8f9"/><rect x="90.30" y="440.01" width="11.65" height="10.08" fill="#fdf4f5"/><rect x="101.90" y="440.01" width="11.65" height="10.08" fill="#f4abb2"/><rect x="113.50" y="440.01" width="11.65" height="10.08" fill="#f5b5bc"/><rect x="90.30" y="450.04" width="11.65" height="10.08" fill="#fdf8f9"/><rect x="101.90" y="450.04" width="11.65" height="10.08" fill="#f8d2d7"/><rect x="113.50" y="450.04" width="11.65" height="10.08" fill="#fcecee"/><rect x="90.30" y="460.07" width="11.65" height="10.08" fill="#fdf8f9"/><rect x="101.90" y="460.07" width="11.65" height="10.08" fill="#fcedef"/><rect x="113.50" y="460.07" width="11.65" height="10.08" fill="#fcf0f1"/><rect x="90.30" y="470.10" width="11.65" height="10.08" fill="#fdf8f9"/><rect x="101.90" y="470.10" width="11.65" height="10.08" fill="#fbe6e9"/><rect x="113.50" y="470.10" width="11.65" height="10.08" fill="#fbe6e9"/><rect x="90.30" y="490.16" width="11.65" height="10.08" fill="#fdf8f9"/><rect x="101.90" y="490.16" width="11.65" height="10.08" fill="#f4a9b1"/><rect x="113.50" y="490.16" width="11.65" height="10.08" fill="#fbe8ea"/><rect x="90.30" y="500.19" width="11.65" height="10.08" fill="#fcf4f5"/><rect x="101.90" y="500.19" width="11.65" height="10.08" fill="#c4c4e6"/><rect x="113.50" y="500.19" width="11.65" height="10.08" fill="#fdf8f9"/><rect x="90.30" y="510.22" width="11.65" height="10.08" fill="#fdf8f9"/><rect x="101.90" y="510.22" width="11.65" height="10.08" fill="#fdf8f9"/><rect x="113.50" y="510.22" width="11.65" height="10.08" fill="#fdf8f9"/><rect x="90.30" y="369.80" width="34.80" height="160.48" rx="1" fill="none" stroke="#333" stroke-width="1.2"/><line x1="90.00" y1="532.20" x2="124.10" y2="532.20" stroke="#444" stroke-width="0.9"/><text x="98.50" y="366.6" font-size="6.9" text-anchor="start" fill="#231f20" font-weight="normal" transform="rotate(-90 98.50 366.6)">Pev</text><text x="110.10" y="366.6" font-size="6.9" text-anchor="start" fill="#231f20" font-weight="normal" transform="rotate(-90 110.10 366.6)">TNF&#945;</text><text x="121.70" y="366.6" font-size="6.9" text-anchor="start" fill="#231f20" font-weight="normal" transform="rotate(-90 121.70 366.6)">Pev + TNF&#945;</text><text x="108.50" y="540.2" font-size="7.4" text-anchor="middle" fill="#231f20" font-weight="normal" letter-spacing="0.75">NBM43</text><rect x="126.90" y="369.80" width="11.65" height="10.08" fill="#fdf8f9"/><rect x="138.50" y="369.80" width="11.65" height="10.08" fill="#fcf0f1"/><rect x="150.10" y="369.80" width="11.65" height="10.08" fill="#fdf8f9"/><rect x="126.90" y="379.83" width="11.65" height="10.08" fill="#fdf8f9"/><rect x="138.50" y="379.83" width="11.65" height="10.08" fill="#fcf0f1"/><rect x="150.10" y="379.83" width="11.65" height="10.08" fill="#fdf8f9"/><rect x="126.90" y="389.86" width="11.65" height="10.08" fill="#fdf8f9"/><rect x="138.50" y="389.86" width="11.65" height="10.08" fill="#fcf0f1"/><rect x="150.10" y="389.86" width="11.65" height="10.08" fill="#fdf8f9"/><rect x="126.90" y="399.89" width="11.65" height="10.08" fill="#fdf8f9"/><rect x="138.50" y="399.89" width="11.65" height="10.08" fill="#fcf0f1"/><rect x="150.10" y="399.89" width="11.65" height="10.08" fill="#fdf8f9"/><rect x="126.90" y="409.92" width="11.65" height="10.08" fill="#fdf8f9"/><rect x="138.50" y="409.92" width="11.65" height="10.08" fill="#f8c9cf"/><rect x="150.10" y="409.92" width="11.65" height="10.08" fill="#f9d0d5"/><rect x="126.90" y="419.95" width="11.65" height="10.08" fill="#fdf8f9"/><rect x="138.50" y="419.95" width="11.65" height="10.08" fill="#fbe2e5"/><rect x="126.90" y="429.98" width="11.65" height="10.08" fill="#fdf8f9"/><rect x="138.50" y="429.98" width="11.65" height="10.08" fill="#fdf8f9"/><rect x="150.10" y="429.98" width="11.65" height="10.08" fill="#fdf8f9"/><rect x="126.90" y="440.01" width="11.65" height="10.08" fill="#fbe8ea"/><rect x="138.50" y="440.01" width="11.65" height="10.08" fill="#f08a93"/><rect x="150.10" y="440.01" width="11.65" height="10.08" fill="#f4a3ab"/><rect x="126.90" y="450.04" width="11.65" height="10.08" fill="#fdf8f9"/><rect x="138.50" y="450.04" width="11.65" height="10.08" fill="#f8d2d7"/><rect x="150.10" y="450.04" width="11.65" height="10.08" fill="#fcf0f2"/><rect x="126.90" y="460.07" width="11.65" height="10.08" fill="#fdf8f9"/><rect x="138.50" y="460.07" width="11.65" height="10.08" fill="#fcebee"/><rect x="150.10" y="460.07" width="11.65" height="10.08" fill="#fdf8f9"/><rect x="126.90" y="470.10" width="11.65" height="10.08" fill="#fdf2f3"/><rect x="138.50" y="470.10" width="11.65" height="10.08" fill="#fbe2e5"/><rect x="150.10" y="470.10" width="11.65" height="10.08" fill="#fbe2e5"/><rect x="126.90" y="490.16" width="11.65" height="10.08" fill="#fdf8f9"/><rect x="138.50" y="490.16" width="11.65" height="10.08" fill="#f4a0a9"/><rect x="150.10" y="490.16" width="11.65" height="10.08" fill="#fbe4e7"/><rect x="126.90" y="500.19" width="11.65" height="10.08" fill="#fbe6e9"/><rect x="138.50" y="500.19" width="11.65" height="10.08" fill="#a9aadb"/><rect x="150.10" y="500.19" width="11.65" height="10.08" fill="#f6f7fc"/><rect x="126.90" y="510.22" width="11.65" height="10.08" fill="#fdf8f9"/><rect x="138.50" y="510.22" width="11.65" height="10.08" fill="#fcecee"/><rect x="150.10" y="510.22" width="11.65" height="10.08" fill="#fcecee"/><rect x="126.90" y="520.25" width="11.65" height="10.08" fill="#fdf8f9"/><rect x="138.50" y="520.25" width="11.65" height="10.08" fill="#fdf8f9"/><rect x="150.10" y="520.25" width="11.65" height="10.08" fill="#fdf8f9"/><rect x="126.90" y="369.80" width="34.80" height="160.48" rx="1" fill="none" stroke="#333" stroke-width="1.2"/><line x1="126.60" y1="532.20" x2="160.70" y2="532.20" stroke="#444" stroke-width="0.9"/><text x="135.10" y="366.6" font-size="6.9" text-anchor="start" fill="#231f20" font-weight="normal" transform="rotate(-90 135.10 366.6)">Pev</text><text x="146.70" y="366.6" font-size="6.9" text-anchor="start" fill="#231f20" font-weight="normal" transform="rotate(-90 146.70 366.6)">TNF&#945;</text><text x="158.30" y="366.6" font-size="6.9" text-anchor="start" fill="#231f20" font-weight="normal" transform="rotate(-90 158.30 366.6)">Pev + TNF&#945;</text><text x="145.10" y="540.2" font-size="7.4" text-anchor="middle" fill="#231f20" font-weight="normal" letter-spacing="0.75">NBM44</text><rect x="163.50" y="369.80" width="11.65" height="10.08" fill="#fdf8f9"/><rect x="175.10" y="369.80" width="11.65" height="10.08" fill="#fdf8f9"/><rect x="186.70" y="369.80" width="11.65" height="10.08" fill="#fdf8f9"/><rect x="163.50" y="409.92" width="11.65" height="10.08" fill="#fdf8f9"/><rect x="175.10" y="409.92" width="11.65" height="10.08" fill="#f7f7fc"/><rect x="186.70" y="409.92" width="11.65" height="10.08" fill="#fdf8f9"/><rect x="163.50" y="419.95" width="11.65" height="10.08" fill="#fcecee"/><rect x="175.10" y="419.95" width="11.65" height="10.08" fill="#f9d2d7"/><rect x="186.70" y="419.95" width="11.65" height="10.08" fill="#fadce0"/><rect x="175.10" y="440.01" width="11.65" height="10.08" fill="#f6f7fc"/><rect x="186.70" y="440.01" width="11.65" height="10.08" fill="#f6f7fc"/><rect x="175.10" y="460.07" width="11.65" height="10.08" fill="#e2e2f4"/><rect x="186.70" y="460.07" width="11.65" height="10.08" fill="#e4e4f4"/><rect x="175.10" y="470.10" width="11.65" height="10.08" fill="#f4f5fb"/><rect x="186.70" y="470.10" width="11.65" height="10.08" fill="#f6f6fc"/><rect x="163.50" y="490.16" width="11.65" height="10.08" fill="#f4f5fb"/><rect x="175.10" y="490.16" width="11.65" height="10.08" fill="#fdf8f9"/><rect x="186.70" y="490.16" width="11.65" height="10.08" fill="#fdf8f9"/><rect x="163.50" y="500.19" width="11.65" height="10.08" fill="#fbe8ea"/><rect x="175.10" y="500.19" width="11.65" height="10.08" fill="#f2f3fb"/><rect x="186.70" y="500.19" width="11.65" height="10.08" fill="#fceef0"/><rect x="163.50" y="510.22" width="11.65" height="10.08" fill="#fdf8f9"/><rect x="175.10" y="510.22" width="11.65" height="10.08" fill="#fdf8f9"/><rect x="186.70" y="510.22" width="11.65" height="10.08" fill="#fdf8f9"/><rect x="163.50" y="520.25" width="11.65" height="10.08" fill="#fdf8f9"/><rect x="175.10" y="520.25" width="11.65" height="10.08" fill="#fdf8f9"/><rect x="186.70" y="520.25" width="11.65" height="10.08" fill="#fdf8f9"/><rect x="163.50" y="369.80" width="34.80" height="160.48" rx="1" fill="none" stroke="#333" stroke-width="1.2"/><line x1="163.20" y1="532.20" x2="197.30" y2="532.20" stroke="#444" stroke-width="0.9"/><text x="171.70" y="366.6" font-size="6.9" text-anchor="start" fill="#231f20" font-weight="normal" transform="rotate(-90 171.70 366.6)">Pev</text><text x="183.30" y="366.6" font-size="6.9" text-anchor="start" fill="#231f20" font-weight="normal" transform="rotate(-90 183.30 366.6)">TNF&#945;</text><text x="194.90" y="366.6" font-size="6.9" text-anchor="start" fill="#231f20" font-weight="normal" transform="rotate(-90 194.90 366.6)">Pev + TNF&#945;</text><text x="180.90" y="540.2" font-size="7.2" text-anchor="middle" fill="#cf2a3c" font-weight="normal">MF23</text><rect x="200.10" y="379.83" width="11.65" height="10.08" fill="#f8f9fd"/><rect x="211.70" y="379.83" width="11.65" height="10.08" fill="#f7f7fc"/><rect x="223.30" y="379.83" width="11.65" height="10.08" fill="#f8f8fc"/><rect x="200.10" y="389.86" width="11.65" height="10.08" fill="#fdf8f9"/><rect x="223.30" y="389.86" width="11.65" height="10.08" fill="#fdf8f9"/><rect x="200.10" y="409.92" width="11.65" height="10.08" fill="#eff0fa"/><rect x="211.70" y="409.92" width="11.65" height="10.08" fill="#fdf8f9"/><rect x="223.30" y="409.92" width="11.65" height="10.08" fill="#fdf8f9"/><rect x="211.70" y="419.95" width="11.65" height="10.08" fill="#fdecef"/><rect x="223.30" y="419.95" width="11.65" height="10.08" fill="#fdf8f9"/><rect x="200.10" y="440.01" width="11.65" height="10.08" fill="#eceef8"/><rect x="211.70" y="440.01" width="11.65" height="10.08" fill="#fcecee"/><rect x="200.10" y="450.04" width="11.65" height="10.08" fill="#f6f7fc"/><rect x="211.70" y="470.10" width="11.65" height="10.08" fill="#fdf2f3"/><rect x="223.30" y="470.10" width="11.65" height="10.08" fill="#fdf8f9"/><rect x="200.10" y="490.16" width="11.65" height="10.08" fill="#eff0f8"/><rect x="211.70" y="490.16" width="11.65" height="10.08" fill="#fcf0f2"/><rect x="223.30" y="490.16" width="11.65" height="10.08" fill="#f6f6fc"/><rect x="200.10" y="500.19" width="11.65" height="10.08" fill="#fce8eb"/><rect x="223.30" y="500.19" width="11.65" height="10.08" fill="#fceef0"/><rect x="200.10" y="510.22" width="11.65" height="10.08" fill="#fdf8f9"/><rect x="211.70" y="510.22" width="11.65" height="10.08" fill="#fdf8f9"/><rect x="223.30" y="510.22" width="11.65" height="10.08" fill="#fdf8f9"/><rect x="200.10" y="520.25" width="11.65" height="10.08" fill="#fdf8f9"/><rect x="211.70" y="520.25" width="11.65" height="10.08" fill="#fdf2f3"/><rect x="223.30" y="520.25" width="11.65" height="10.08" fill="#fdf8f9"/><rect x="200.10" y="369.80" width="34.80" height="160.48" rx="1" fill="none" stroke="#333" stroke-width="1.2"/><line x1="199.80" y1="532.20" x2="233.90" y2="532.20" stroke="#444" stroke-width="0.9"/><text x="208.30" y="366.6" font-size="6.9" text-anchor="start" fill="#231f20" font-weight="normal" transform="rotate(-90 208.30 366.6)">Pev</text><text x="219.90" y="366.6" font-size="6.9" text-anchor="start" fill="#231f20" font-weight="normal" transform="rotate(-90 219.90 366.6)">TNF&#945;</text><text x="231.50" y="366.6" font-size="6.9" text-anchor="start" fill="#231f20" font-weight="normal" transform="rotate(-90 231.50 366.6)">Pev + TNF&#945;</text><text x="217.50" y="540.2" font-size="7.2" text-anchor="middle" fill="#cf2a3c" font-weight="normal">MF26</text><rect x="236.70" y="369.80" width="11.65" height="10.08" fill="#fdf8f9"/><rect x="248.30" y="369.80" width="11.65" height="10.08" fill="#fce9eb"/><rect x="259.90" y="369.80" width="11.65" height="10.08" fill="#fdeff1"/><rect x="236.70" y="379.83" width="11.65" height="10.08" fill="#fdf8f9"/><rect x="248.30" y="379.83" width="11.65" height="10.08" fill="#f0f1fa"/><rect x="259.90" y="379.83" width="11.65" height="10.08" fill="#fdf8f9"/><rect x="236.70" y="389.86" width="11.65" height="10.08" fill="#fdf8f9"/><rect x="248.30" y="389.86" width="11.65" height="10.08" fill="#fdf8f9"/><rect x="259.90" y="389.86" width="11.65" height="10.08" fill="#fdf8f9"/><rect x="236.70" y="399.89" width="11.65" height="10.08" fill="#fdf8f9"/><rect x="248.30" y="399.89" width="11.65" height="10.08" fill="#fdf8f9"/><rect x="259.90" y="399.89" width="11.65" height="10.08" fill="#fdf8f9"/><rect x="236.70" y="409.92" width="11.65" height="10.08" fill="#fdf8f9"/><rect x="248.30" y="409.92" width="11.65" height="10.08" fill="#f9d7dc"/><rect x="259.90" y="409.92" width="11.65" height="10.08" fill="#fae0e3"/><rect x="236.70" y="419.95" width="11.65" height="10.08" fill="#e8eaf7"/><rect x="248.30" y="419.95" width="11.65" height="10.08" fill="#fbe2e5"/><rect x="259.90" y="419.95" width="11.65" height="10.08" fill="#fcf0f1"/><rect x="236.70" y="429.98" width="11.65" height="10.08" fill="#fdf8f9"/><rect x="248.30" y="429.98" width="11.65" height="10.08" fill="#fdf8f9"/><rect x="259.90" y="429.98" width="11.65" height="10.08" fill="#fdf8f9"/><rect x="236.70" y="440.01" width="11.65" height="10.08" fill="#fdf8f9"/><rect x="248.30" y="440.01" width="11.65" height="10.08" fill="#f8cbd1"/><rect x="259.90" y="440.01" width="11.65" height="10.08" fill="#f8ced3"/><rect x="236.70" y="450.04" width="11.65" height="10.08" fill="#e3e5f6"/><rect x="248.30" y="450.04" width="11.65" height="10.08" fill="#f7c2c9"/><rect x="259.90" y="450.04" width="11.65" height="10.08" fill="#f8ccd2"/><rect x="236.70" y="460.07" width="11.65" height="10.08" fill="#fdf8f9"/><rect x="248.30" y="460.07" width="11.65" height="10.08" fill="#fbe5e8"/><rect x="259.90" y="460.07" width="11.65" height="10.08" fill="#fbe5e8"/><rect x="236.70" y="470.10" width="11.65" height="10.08" fill="#fdf8f9"/><rect x="248.30" y="470.10" width="11.65" height="10.08" fill="#f8d0d6"/><rect x="259.90" y="470.10" width="11.65" height="10.08" fill="#f9d6db"/><rect x="236.70" y="480.13" width="11.65" height="10.08" fill="#fdf8f9"/><rect x="248.30" y="480.13" width="11.65" height="10.08" fill="#fdf8f9"/><rect x="259.90" y="480.13" width="11.65" height="10.08" fill="#fdf8f9"/><rect x="236.70" y="490.16" width="11.65" height="10.08" fill="#c9c9ec"/><rect x="248.30" y="490.16" width="11.65" height="10.08" fill="#e8434b"/><rect x="259.90" y="490.16" width="11.65" height="10.08" fill="#f8d0d5"/><rect x="236.70" y="500.19" width="11.65" height="10.08" fill="#f8c8d0"/><rect x="248.30" y="500.19" width="11.65" height="10.08" fill="#a9aad8"/><rect x="259.90" y="500.19" width="11.65" height="10.08" fill="#f8ced3"/><rect x="236.70" y="510.22" width="11.65" height="10.08" fill="#fdf8f9"/><rect x="248.30" y="510.22" width="11.65" height="10.08" fill="#fdf8f9"/><rect x="259.90" y="510.22" width="11.65" height="10.08" fill="#fdf8f9"/><rect x="236.70" y="520.25" width="11.65" height="10.08" fill="#fdf8f9"/><rect x="248.30" y="520.25" width="11.65" height="10.08" fill="#fdf8f9"/><rect x="259.90" y="520.25" width="11.65" height="10.08" fill="#fdf8f9"/><rect x="236.70" y="369.80" width="34.80" height="160.48" rx="1" fill="none" stroke="#333" stroke-width="1.2"/><line x1="236.40" y1="532.20" x2="270.50" y2="532.20" stroke="#444" stroke-width="0.9"/><text x="244.90" y="366.6" font-size="6.9" text-anchor="start" fill="#231f20" font-weight="normal" transform="rotate(-90 244.90 366.6)">Pev</text><text x="256.50" y="366.6" font-size="6.9" text-anchor="start" fill="#231f20" font-weight="normal" transform="rotate(-90 256.50 366.6)">TNF&#945;</text><text x="268.10" y="366.6" font-size="6.9" text-anchor="start" fill="#231f20" font-weight="normal" transform="rotate(-90 268.10 366.6)">Pev + TNF&#945;</text><text x="254.10" y="540.2" font-size="7.2" text-anchor="middle" fill="#cf2a3c" font-weight="normal">MF9</text><rect x="273.30" y="369.80" width="11.65" height="10.08" fill="#fdf8f9"/><rect x="284.90" y="369.80" width="11.65" height="10.08" fill="#fdf8f9"/><rect x="296.50" y="369.80" width="11.65" height="10.08" fill="#fdf8f9"/><rect x="273.30" y="379.83" width="11.65" height="10.08" fill="#fdf8f9"/><rect x="284.90" y="379.83" width="11.65" height="10.08" fill="#fdf8f9"/><rect x="296.50" y="379.83" width="11.65" height="10.08" fill="#fdf8f9"/><rect x="273.30" y="389.86" width="11.65" height="10.08" fill="#fcf0f1"/><rect x="284.90" y="389.86" width="11.65" height="10.08" fill="#fdf8f9"/><rect x="296.50" y="389.86" width="11.65" height="10.08" fill="#fcf0f1"/><rect x="273.30" y="399.89" width="11.65" height="10.08" fill="#fdf8f9"/><rect x="284.90" y="399.89" width="11.65" height="10.08" fill="#fdf8f9"/><rect x="296.50" y="399.89" width="11.65" height="10.08" fill="#fdf8f9"/><rect x="273.30" y="409.92" width="11.65" height="10.08" fill="#fdf8f9"/><rect x="284.90" y="409.92" width="11.65" height="10.08" fill="#fbeaec"/><rect x="296.50" y="409.92" width="11.65" height="10.08" fill="#fbeaec"/><rect x="273.30" y="419.95" width="11.65" height="10.08" fill="#fadadd"/><rect x="284.90" y="419.95" width="11.65" height="10.08" fill="#fadadd"/><rect x="296.50" y="419.95" width="11.65" height="10.08" fill="#fcecee"/><rect x="273.30" y="429.98" width="11.65" height="10.08" fill="#fbe6e9"/><rect x="284.90" y="429.98" width="11.65" height="10.08" fill="#fdf8f9"/><rect x="296.50" y="429.98" width="11.65" height="10.08" fill="#fdf8f9"/><rect x="273.30" y="440.01" width="11.65" height="10.08" fill="#fbe6e9"/><rect x="284.90" y="440.01" width="11.65" height="10.08" fill="#f6b8bf"/><rect x="296.50" y="440.01" width="11.65" height="10.08" fill="#f6bbc2"/><rect x="273.30" y="450.04" width="11.65" height="10.08" fill="#fcf0f1"/><rect x="284.90" y="450.04" width="11.65" height="10.08" fill="#f9dce0"/><rect x="296.50" y="450.04" width="11.65" height="10.08" fill="#fdf8f9"/><rect x="273.30" y="460.07" width="11.65" height="10.08" fill="#fcf0f1"/><rect x="284.90" y="460.07" width="11.65" height="10.08" fill="#fcecee"/><rect x="296.50" y="460.07" width="11.65" height="10.08" fill="#fcf0f1"/><rect x="273.30" y="470.10" width="11.65" height="10.08" fill="#fcecee"/><rect x="284.90" y="470.10" width="11.65" height="10.08" fill="#fcecee"/><rect x="296.50" y="470.10" width="11.65" height="10.08" fill="#fcf0f1"/><rect x="273.30" y="490.16" width="11.65" height="10.08" fill="#fdf8f9"/><rect x="284.90" y="490.16" width="11.65" height="10.08" fill="#f6c0c7"/><rect x="296.50" y="490.16" width="11.65" height="10.08" fill="#fdf8f9"/><rect x="273.30" y="500.19" width="11.65" height="10.08" fill="#f9d8dc"/><rect x="284.90" y="500.19" width="11.65" height="10.08" fill="#d3d3ee"/><rect x="296.50" y="500.19" width="11.65" height="10.08" fill="#fdf8f9"/><rect x="273.30" y="510.22" width="11.65" height="10.08" fill="#fdf8f9"/><rect x="284.90" y="510.22" width="11.65" height="10.08" fill="#fdf8f9"/><rect x="296.50" y="510.22" width="11.65" height="10.08" fill="#fdf8f9"/><rect x="273.30" y="520.25" width="11.65" height="10.08" fill="#fbe6e9"/><rect x="284.90" y="520.25" width="11.65" height="10.08" fill="#fdf8f9"/><rect x="296.50" y="520.25" width="11.65" height="10.08" fill="#fdf8f9"/><rect x="273.30" y="369.80" width="34.80" height="160.48" rx="1" fill="none" stroke="#333" stroke-width="1.2"/><line x1="273.00" y1="532.20" x2="307.10" y2="532.20" stroke="#444" stroke-width="0.9"/><text x="281.50" y="366.6" font-size="6.9" text-anchor="start" fill="#231f20" font-weight="normal" transform="rotate(-90 281.50 366.6)">Pev</text><text x="293.10" y="366.6" font-size="6.9" text-anchor="start" fill="#231f20" font-weight="normal" transform="rotate(-90 293.10 366.6)">TNF&#945;</text><text x="304.70" y="366.6" font-size="6.9" text-anchor="start" fill="#231f20" font-weight="normal" transform="rotate(-90 304.70 366.6)">Pev + TNF&#945;</text><text x="290.70" y="540.2" font-size="7.2" text-anchor="middle" fill="#cf2a3c" font-weight="normal">MF20</text><rect x="309.90" y="379.83" width="11.65" height="10.08" fill="#fdf8f9"/><rect x="321.50" y="379.83" width="11.65" height="10.08" fill="#fcf0f1"/><rect x="333.10" y="379.83" width="11.65" height="10.08" fill="#fdf8f9"/><rect x="309.90" y="389.86" width="11.65" height="10.08" fill="#fcecee"/><rect x="321.50" y="389.86" width="11.65" height="10.08" fill="#f8c9cf"/><rect x="333.10" y="389.86" width="11.65" height="10.08" fill="#fdf8f9"/><rect x="309.90" y="399.89" width="11.65" height="10.08" fill="#fdf8f9"/><rect x="321.50" y="399.89" width="11.65" height="10.08" fill="#f8f8fc"/><rect x="333.10" y="399.89" width="11.65" height="10.08" fill="#fdf8f9"/><rect x="309.90" y="409.92" width="11.65" height="10.08" fill="#fbe6e9"/><rect x="321.50" y="409.92" width="11.65" height="10.08" fill="#dcdcf0"/><rect x="333.10" y="409.92" width="11.65" height="10.08" fill="#fcecee"/><rect x="309.90" y="419.95" width="11.65" height="10.08" fill="#fdf8f9"/><rect x="321.50" y="419.95" width="11.65" height="10.08" fill="#fdf2f3"/><rect x="333.10" y="419.95" width="11.65" height="10.08" fill="#fdf2f3"/><rect x="309.90" y="429.98" width="11.65" height="10.08" fill="#e8e9f6"/><rect x="321.50" y="429.98" width="11.65" height="10.08" fill="#c7c8e9"/><rect x="333.10" y="429.98" width="11.65" height="10.08" fill="#eeeff9"/><rect x="309.90" y="440.01" width="11.65" height="10.08" fill="#fbe6e9"/><rect x="321.50" y="440.01" width="11.65" height="10.08" fill="#f4b0b7"/><rect x="333.10" y="440.01" width="11.65" height="10.08" fill="#f5b5bc"/><rect x="309.90" y="450.04" width="11.65" height="10.08" fill="#d6d7ef"/><rect x="321.50" y="450.04" width="11.65" height="10.08" fill="#e2e3f4"/><rect x="333.10" y="450.04" width="11.65" height="10.08" fill="#d9daf0"/><rect x="309.90" y="460.07" width="11.65" height="10.08" fill="#dfe0f3"/><rect x="321.50" y="460.07" width="11.65" height="10.08" fill="#eeeff9"/><rect x="333.10" y="460.07" width="11.65" height="10.08" fill="#f2f3fa"/><rect x="309.90" y="470.10" width="11.65" height="10.08" fill="#eff0f9"/><rect x="321.50" y="470.10" width="11.65" height="10.08" fill="#fdf8f9"/><rect x="333.10" y="470.10" width="11.65" height="10.08" fill="#fdf8f9"/><rect x="309.90" y="480.13" width="11.65" height="10.08" fill="#fdf8f9"/><rect x="321.50" y="480.13" width="11.65" height="10.08" fill="#f3f3fb"/><rect x="333.10" y="480.13" width="11.65" height="10.08" fill="#fdf8f9"/><rect x="309.90" y="490.16" width="11.65" height="10.08" fill="#eeeff9"/><rect x="321.50" y="490.16" width="11.65" height="10.08" fill="#f08189"/><rect x="333.10" y="490.16" width="11.65" height="10.08" fill="#fad6db"/><rect x="309.90" y="500.19" width="11.65" height="10.08" fill="#fdf8f9"/><rect x="321.50" y="500.19" width="11.65" height="10.08" fill="#5161b8"/><rect x="333.10" y="500.19" width="11.65" height="10.08" fill="#d0d1ec"/><rect x="309.90" y="510.22" width="11.65" height="10.08" fill="#d4d5ee"/><rect x="321.50" y="510.22" width="11.65" height="10.08" fill="#fdf8f9"/><rect x="333.10" y="510.22" width="11.65" height="10.08" fill="#dcdcf0"/><rect x="309.90" y="520.25" width="11.65" height="10.08" fill="#fdf8f9"/><rect x="321.50" y="520.25" width="11.65" height="10.08" fill="#fdf8f9"/><rect x="333.10" y="520.25" width="11.65" height="10.08" fill="#fdf8f9"/><rect x="309.90" y="369.80" width="34.80" height="160.48" rx="1" fill="none" stroke="#333" stroke-width="1.2"/><line x1="309.60" y1="532.20" x2="343.70" y2="532.20" stroke="#444" stroke-width="0.9"/><text x="318.10" y="366.6" font-size="6.9" text-anchor="start" fill="#231f20" font-weight="normal" transform="rotate(-90 318.10 366.6)">Pev</text><text x="329.70" y="366.6" font-size="6.9" text-anchor="start" fill="#231f20" font-weight="normal" transform="rotate(-90 329.70 366.6)">TNF&#945;</text><text x="341.30" y="366.6" font-size="6.9" text-anchor="start" fill="#231f20" font-weight="normal" transform="rotate(-90 341.30 366.6)">Pev + TNF&#945;</text><text x="327.30" y="540.2" font-size="7.2" text-anchor="middle" fill="#cf2a3c" font-weight="normal">MF16</text><rect x="346.50" y="369.80" width="11.65" height="10.08" fill="#fdf8f9"/><rect x="358.10" y="369.80" width="11.65" height="10.08" fill="#fdf8f9"/><rect x="369.70" y="369.80" width="11.65" height="10.08" fill="#fdf8f9"/><rect x="346.50" y="379.83" width="11.65" height="10.08" fill="#fdf8f9"/><rect x="358.10" y="379.83" width="11.65" height="10.08" fill="#fdf8f9"/><rect x="369.70" y="379.83" width="11.65" height="10.08" fill="#fdf8f9"/><rect x="346.50" y="389.86" width="11.65" height="10.08" fill="#fcecee"/><rect x="358.10" y="389.86" width="11.65" height="10.08" fill="#fdf8f9"/><rect x="369.70" y="389.86" width="11.65" height="10.08" fill="#fcecee"/><rect x="346.50" y="399.89" width="11.65" height="10.08" fill="#fdf8f9"/><rect x="358.10" y="399.89" width="11.65" height="10.08" fill="#fdf8f9"/><rect x="369.70" y="399.89" width="11.65" height="10.08" fill="#fdf8f9"/><rect x="346.50" y="409.92" width="11.65" height="10.08" fill="#fdf8f9"/><rect x="358.10" y="409.92" width="11.65" height="10.08" fill="#f8c8cf"/><rect x="369.70" y="409.92" width="11.65" height="10.08" fill="#f8ccd2"/><rect x="346.50" y="419.95" width="11.65" height="10.08" fill="#fdf8f9"/><rect x="358.10" y="419.95" width="11.65" height="10.08" fill="#fad8dc"/><rect x="369.70" y="419.95" width="11.65" height="10.08" fill="#fadadd"/><rect x="346.50" y="429.98" width="11.65" height="10.08" fill="#fcf0f1"/><rect x="358.10" y="429.98" width="11.65" height="10.08" fill="#fcecee"/><rect x="369.70" y="429.98" width="11.65" height="10.08" fill="#fcecee"/><rect x="346.50" y="440.01" width="11.65" height="10.08" fill="#fcf0f1"/><rect x="358.10" y="440.01" width="11.65" height="10.08" fill="#f08890"/><rect x="369.70" y="440.01" width="11.65" height="10.08" fill="#f08890"/><rect x="346.50" y="450.04" width="11.65" height="10.08" fill="#fdf8f9"/><rect x="358.10" y="450.04" width="11.65" height="10.08" fill="#f8d0d6"/><rect x="369.70" y="450.04" width="11.65" height="10.08" fill="#f8d2d7"/><rect x="346.50" y="460.07" width="11.65" height="10.08" fill="#fdf8f9"/><rect x="358.10" y="460.07" width="11.65" height="10.08" fill="#fcecee"/><rect x="369.70" y="460.07" width="11.65" height="10.08" fill="#fcecee"/><rect x="346.50" y="470.10" width="11.65" height="10.08" fill="#fdf8f9"/><rect x="358.10" y="470.10" width="11.65" height="10.08" fill="#fbe0e4"/><rect x="369.70" y="470.10" width="11.65" height="10.08" fill="#fbe2e5"/><rect x="346.50" y="480.13" width="11.65" height="10.08" fill="#fdf8f9"/><rect x="358.10" y="480.13" width="11.65" height="10.08" fill="#fdf8f9"/><rect x="369.70" y="480.13" width="11.65" height="10.08" fill="#fdf8f9"/><rect x="346.50" y="490.16" width="11.65" height="10.08" fill="#fdf8f9"/><rect x="358.10" y="490.16" width="11.65" height="10.08" fill="#e82a2a"/><rect x="369.70" y="490.16" width="11.65" height="10.08" fill="#f18f97"/><rect x="346.50" y="500.19" width="11.65" height="10.08" fill="#fcf0f1"/><rect x="358.10" y="500.19" width="11.65" height="10.08" fill="#4252b2"/><rect x="346.50" y="510.22" width="11.65" height="10.08" fill="#fdf8f9"/><rect x="358.10" y="510.22" width="11.65" height="10.08" fill="#fdf8f9"/><rect x="369.70" y="510.22" width="11.65" height="10.08" fill="#fdf8f9"/><rect x="346.50" y="520.25" width="11.65" height="10.08" fill="#fdf8f9"/><rect x="358.10" y="520.25" width="11.65" height="10.08" fill="#fdf8f9"/><rect x="369.70" y="520.25" width="11.65" height="10.08" fill="#fcf0f1"/><rect x="346.50" y="369.80" width="34.80" height="160.48" rx="1" fill="none" stroke="#333" stroke-width="1.2"/><line x1="346.20" y1="532.20" x2="380.30" y2="532.20" stroke="#444" stroke-width="0.9"/><text x="354.70" y="366.6" font-size="6.9" text-anchor="start" fill="#231f20" font-weight="normal" transform="rotate(-90 354.70 366.6)">Pev</text><text x="366.30" y="366.6" font-size="6.9" text-anchor="start" fill="#231f20" font-weight="normal" transform="rotate(-90 366.30 366.6)">TNF&#945;</text><text x="377.90" y="366.6" font-size="6.9" text-anchor="start" fill="#231f20" font-weight="normal" transform="rotate(-90 377.90 366.6)">Pev + TNF&#945;</text><text x="363.90" y="540.2" font-size="7.2" text-anchor="middle" fill="#2c6496" font-weight="normal">sAML1</text><rect x="383.10" y="369.80" width="11.65" height="10.08" fill="#fdf8f9"/><rect x="394.70" y="369.80" width="11.65" height="10.08" fill="#fdf8f9"/><rect x="406.30" y="369.80" width="11.65" height="10.08" fill="#fdf8f9"/><rect x="383.10" y="379.83" width="11.65" height="10.08" fill="#f2f3fa"/><rect x="394.70" y="379.83" width="11.65" height="10.08" fill="#f4f5fb"/><rect x="406.30" y="379.83" width="11.65" height="10.08" fill="#f2f3fa"/><rect x="383.10" y="389.86" width="11.65" height="10.08" fill="#fdf8f9"/><rect x="394.70" y="389.86" width="11.65" height="10.08" fill="#fdf8f9"/><rect x="406.30" y="389.86" width="11.65" height="10.08" fill="#fdf8f9"/><rect x="383.10" y="399.89" width="11.65" height="10.08" fill="#fdf8f9"/><rect x="394.70" y="399.89" width="11.65" height="10.08" fill="#fdf8f9"/><rect x="406.30" y="399.89" width="11.65" height="10.08" fill="#fdf8f9"/><rect x="383.10" y="409.92" width="11.65" height="10.08" fill="#fdf8f9"/><rect x="394.70" y="409.92" width="11.65" height="10.08" fill="#f7bfc6"/><rect x="406.30" y="409.92" width="11.65" height="10.08" fill="#fadadd"/><rect x="383.10" y="419.95" width="11.65" height="10.08" fill="#fdf8f9"/><rect x="394.70" y="419.95" width="11.65" height="10.08" fill="#fdf8f9"/><rect x="406.30" y="419.95" width="11.65" height="10.08" fill="#f3f4fb"/><rect x="383.10" y="429.98" width="11.65" height="10.08" fill="#fdf8f9"/><rect x="394.70" y="429.98" width="11.65" height="10.08" fill="#fcecee"/><rect x="406.30" y="429.98" width="11.65" height="10.08" fill="#fdf8f9"/><rect x="383.10" y="440.01" width="11.65" height="10.08" fill="#fdf8f9"/><rect x="394.70" y="440.01" width="11.65" height="10.08" fill="#f4a0a8"/><rect x="406.30" y="440.01" width="11.65" height="10.08" fill="#f7b7bf"/><rect x="383.10" y="450.04" width="11.65" height="10.08" fill="#fdf8f9"/><rect x="394.70" y="450.04" width="11.65" height="10.08" fill="#f6afb7"/><rect x="406.30" y="450.04" width="11.65" height="10.08" fill="#fcecee"/><rect x="383.10" y="460.07" width="11.65" height="10.08" fill="#fdf8f9"/><rect x="394.70" y="460.07" width="11.65" height="10.08" fill="#fbe0e4"/><rect x="406.30" y="460.07" width="11.65" height="10.08" fill="#fdf8f9"/><rect x="383.10" y="470.10" width="11.65" height="10.08" fill="#fdf8f9"/><rect x="394.70" y="470.10" width="11.65" height="10.08" fill="#fbe0e4"/><rect x="406.30" y="470.10" width="11.65" height="10.08" fill="#fcf0f1"/><rect x="383.10" y="480.13" width="11.65" height="10.08" fill="#fdf8f9"/><rect x="394.70" y="480.13" width="11.65" height="10.08" fill="#fdf8f9"/><rect x="406.30" y="480.13" width="11.65" height="10.08" fill="#fdf8f9"/><rect x="383.10" y="490.16" width="11.65" height="10.08" fill="#fdf8f9"/><rect x="394.70" y="490.16" width="11.65" height="10.08" fill="#e82a2a"/><rect x="406.30" y="490.16" width="11.65" height="10.08" fill="#f6b0b8"/><rect x="383.10" y="500.19" width="11.65" height="10.08" fill="#fcf0f1"/><rect x="394.70" y="500.19" width="11.65" height="10.08" fill="#3048a8"/><rect x="406.30" y="500.19" width="11.65" height="10.08" fill="#eeeff9"/><rect x="383.10" y="510.22" width="11.65" height="10.08" fill="#fdf8f9"/><rect x="394.70" y="510.22" width="11.65" height="10.08" fill="#fdf8f9"/><rect x="406.30" y="510.22" width="11.65" height="10.08" fill="#fdf8f9"/><rect x="383.10" y="520.25" width="11.65" height="10.08" fill="#fdf8f9"/><rect x="394.70" y="520.25" width="11.65" height="10.08" fill="#fdf8f9"/><rect x="406.30" y="520.25" width="11.65" height="10.08" fill="#fdf8f9"/><rect x="383.10" y="369.80" width="34.80" height="160.48" rx="1" fill="none" stroke="#333" stroke-width="1.2"/><line x1="382.80" y1="532.20" x2="416.90" y2="532.20" stroke="#444" stroke-width="0.9"/><text x="391.30" y="366.6" font-size="6.9" text-anchor="start" fill="#231f20" font-weight="normal" transform="rotate(-90 391.30 366.6)">Pev</text><text x="402.90" y="366.6" font-size="6.9" text-anchor="start" fill="#231f20" font-weight="normal" transform="rotate(-90 402.90 366.6)">TNF&#945;</text><text x="414.50" y="366.6" font-size="6.9" text-anchor="start" fill="#231f20" font-weight="normal" transform="rotate(-90 414.50 366.6)">Pev + TNF&#945;</text><text x="400.50" y="540.2" font-size="7.2" text-anchor="middle" fill="#2c6496" font-weight="normal">sAML7</text><text x="51.8" y="377.20" font-size="7.6" text-anchor="end" fill="#231f20" font-weight="normal" letter-spacing="0.2">pSTAT1</text><text x="51.8" y="387.29" font-size="7.6" text-anchor="end" fill="#231f20" font-weight="normal" letter-spacing="0.2">pSTAT3</text><text x="51.8" y="397.38" font-size="7.6" text-anchor="end" fill="#231f20" font-weight="normal" letter-spacing="0.2">pSTAT5</text><text x="51.8" y="407.47" font-size="7.6" text-anchor="end" fill="#231f20" font-weight="normal" letter-spacing="0.2">pAKT</text><text x="51.8" y="417.56" font-size="7.6" text-anchor="end" fill="#231f20" font-weight="normal" letter-spacing="0.2">pS6</text><text x="51.8" y="427.65" font-size="7.6" text-anchor="end" fill="#231f20" font-weight="normal" letter-spacing="0.2">p4E-BP1</text><text x="51.8" y="437.74" font-size="7.6" text-anchor="end" fill="#231f20" font-weight="normal" letter-spacing="0.2">pERK1</text><text x="51.8" y="447.83" font-size="7.6" text-anchor="end" fill="#231f20" font-weight="normal" letter-spacing="0.2">pCREB</text><text x="51.8" y="457.92" font-size="7.6" text-anchor="end" fill="#231f20" font-weight="normal" letter-spacing="0.2">p-p38</text><text x="51.8" y="468.01" font-size="7.6" text-anchor="end" fill="#231f20" font-weight="normal" letter-spacing="0.2">pMAPKAPK2</text><text x="51.8" y="478.10" font-size="7.6" text-anchor="end" fill="#231f20" font-weight="normal" letter-spacing="0.2">pTBK1/NAK</text><text x="51.8" y="488.19" font-size="7.6" text-anchor="end" fill="#231f20" font-weight="normal" letter-spacing="0.2">pBTK/ITK</text><text x="51.8" y="498.28" font-size="7.6" text-anchor="end" fill="#231f20" font-weight="normal" letter-spacing="0.2">p-p65</text><text x="51.8" y="508.37" font-size="7.6" text-anchor="end" fill="#231f20" font-weight="normal" letter-spacing="0.2">I&#954;B&#945;</text><text x="51.8" y="518.46" font-size="7.6" text-anchor="end" fill="#231f20" font-weight="normal" letter-spacing="0.2">Ki67</text><text x="51.8" y="528.55" font-size="7.6" text-anchor="end" fill="#231f20" font-weight="normal" letter-spacing="0.2">cCas3</text><rect x="17.0" y="537.4" width="34.0" height="4.8" fill="url(#g64)"/><line x1="17.00" y1="537.20" x2="51.00" y2="537.20" stroke="#333" stroke-width="0.6"/><line x1="17.30" y1="537.00" x2="17.30" y2="538.60" stroke="#333" stroke-width="0.6"/><line x1="25.65" y1="537.00" x2="25.65" y2="538.60" stroke="#333" stroke-width="0.6"/><line x1="34.00" y1="537.00" x2="34.00" y2="538.60" stroke="#333" stroke-width="0.6"/><line x1="42.35" y1="537.00" x2="42.35" y2="538.60" stroke="#333" stroke-width="0.6"/><line x1="50.70" y1="537.00" x2="50.70" y2="538.60" stroke="#333" stroke-width="0.6"/><text x="17.30" y="550.6" font-size="7.6" text-anchor="middle" fill="#231f20" font-weight="normal">2</text><text x="15.50" y="550.6" font-size="7.6" text-anchor="end" fill="#231f20" font-weight="normal">&#8722;</text><text x="25.65" y="550.6" font-size="7.6" text-anchor="middle" fill="#231f20" font-weight="normal">1</text><text x="23.85" y="550.6" font-size="7.6" text-anchor="end" fill="#231f20" font-weight="normal">&#8722;</text><text x="34.00" y="550.6" font-size="7.6" text-anchor="middle" fill="#231f20" font-weight="normal">0</text><text x="42.35" y="550.6" font-size="7.6" text-anchor="middle" fill="#231f20" font-weight="normal">1</text><text x="50.70" y="550.6" font-size="7.6" text-anchor="middle" fill="#231f20" font-weight="normal">2</text><text x="34.2" y="557.8" font-size="5.9" text-anchor="middle" fill="#231f20" font-weight="normal">Arcsinh ratio</text><line x1="447.20" y1="336.70" x2="447.20" y2="407.40" stroke="#2b2b2b" stroke-width="1.4"/><line x1="446.50" y1="406.80" x2="514.70" y2="406.80" stroke="#2b2b2b" stroke-width="1.5"/><line x1="445.00" y1="406.80" x2="447.20" y2="406.80" stroke="#2b2b2b" stroke-width="1.0"/><text x="442.20" y="409.40" font-size="7.4" text-anchor="end" fill="#231f20" font-weight="normal">0</text><line x1="445.00" y1="383.53" x2="447.20" y2="383.53" stroke="#2b2b2b" stroke-width="1.0"/><text x="442.20" y="386.13" font-size="7.4" text-anchor="end" fill="#231f20" font-weight="normal">20</text><line x1="445.00" y1="360.27" x2="447.20" y2="360.27" stroke="#2b2b2b" stroke-width="1.0"/><text x="442.20" y="362.87" font-size="7.4" text-anchor="end" fill="#231f20" font-weight="normal">40</text><line x1="445.00" y1="337.00" x2="447.20" y2="337.00" stroke="#2b2b2b" stroke-width="1.0"/><text x="442.20" y="339.60" font-size="7.4" text-anchor="end" fill="#231f20" font-weight="normal">60</text><line x1="457.80" y1="406.80" x2="457.80" y2="409.00" stroke="#2b2b2b" stroke-width="0.9"/><line x1="473.80" y1="406.80" x2="473.80" y2="409.00" stroke="#2b2b2b" stroke-width="0.9"/><line x1="490.00" y1="406.80" x2="490.00" y2="409.00" stroke="#2b2b2b" stroke-width="0.9"/><line x1="506.10" y1="406.80" x2="506.10" y2="409.00" stroke="#2b2b2b" stroke-width="0.9"/><text x="460.10" y="415.00" font-size="7.2" text-anchor="end" fill="#231f20" font-weight="normal" transform="rotate(-45 460.10 415.00)">Basal</text><text x="476.10" y="415.00" font-size="7.2" text-anchor="end" fill="#231f20" font-weight="normal" transform="rotate(-45 476.10 415.00)">Pev</text><text x="492.30" y="415.00" font-size="7.2" text-anchor="end" fill="#231f20" font-weight="normal" transform="rotate(-45 492.30 415.00)">TNF-&#945;</text><text x="508.40" y="415.00" font-size="7.2" text-anchor="end" fill="#231f20" font-weight="normal" transform="rotate(-45 508.40 415.00)">Pev + TNF-&#945;</text><circle cx="457.80" cy="398.11" r="1.3" fill="#d42a3c"/><circle cx="454.80" cy="402.99" r="1.3" fill="#d42a3c"/><circle cx="456.30" cy="402.41" r="1.3" fill="#d42a3c"/><circle cx="459.30" cy="402.18" r="1.3" fill="#d42a3c"/><circle cx="461.00" cy="402.64" r="1.3" fill="#d42a3c"/><circle cx="454.00" cy="404.50" r="1.3" fill="#d42a3c"/><circle cx="456.00" cy="404.74" r="1.3" fill="#d42a3c"/><circle cx="458.10" cy="404.16" r="1.3" fill="#d42a3c"/><circle cx="460.00" cy="404.27" r="1.3" fill="#d42a3c"/><circle cx="462.00" cy="403.81" r="1.3" fill="#d42a3c"/><circle cx="457.20" cy="403.34" r="1.3" fill="#d42a3c"/><line x1="453.30" y1="403.57" x2="462.30" y2="403.57" stroke="#d42a3c" stroke-width="0.8"/><circle cx="470.20" cy="403.11" r="1.3" fill="#1e5a98"/><circle cx="472.00" cy="402.88" r="1.3" fill="#1e5a98"/><circle cx="474.00" cy="402.99" r="1.3" fill="#1e5a98"/><circle cx="476.00" cy="402.99" r="1.3" fill="#1e5a98"/><circle cx="477.80" cy="403.11" r="1.3" fill="#1e5a98"/><circle cx="471.00" cy="404.27" r="1.3" fill="#1e5a98"/><circle cx="473.00" cy="404.50" r="1.3" fill="#1e5a98"/><circle cx="475.00" cy="404.39" r="1.3" fill="#1e5a98"/><circle cx="477.00" cy="404.27" r="1.3" fill="#1e5a98"/><circle cx="469.50" cy="404.04" r="1.3" fill="#1e5a98"/><circle cx="478.80" cy="403.81" r="1.3" fill="#1e5a98"/><line x1="469.30" y1="403.57" x2="478.30" y2="403.57" stroke="#1e5a98" stroke-width="0.8"/><circle cx="488.40" cy="358.79" r="1.3" fill="#2bb24c"/><circle cx="491.50" cy="357.62" r="1.3" fill="#2bb24c"/><circle cx="490.00" cy="371.23" r="1.3" fill="#2bb24c"/><circle cx="490.00" cy="387.40" r="1.3" fill="#2bb24c"/><circle cx="490.00" cy="394.03" r="1.3" fill="#2bb24c"/><circle cx="485.80" cy="398.34" r="1.3" fill="#2bb24c"/><circle cx="485.50" cy="401.71" r="1.3" fill="#2bb24c"/><circle cx="487.80" cy="401.94" r="1.3" fill="#2bb24c"/><circle cx="490.00" cy="401.94" r="1.3" fill="#2bb24c"/><circle cx="492.30" cy="401.94" r="1.3" fill="#2bb24c"/><circle cx="494.30" cy="401.48" r="1.3" fill="#2bb24c"/><circle cx="487.00" cy="400.08" r="1.3" fill="#2bb24c"/><line x1="485.50" y1="396.13" x2="494.50" y2="396.13" stroke="#2bb24c" stroke-width="0.8"/><circle cx="506.50" cy="390.08" r="1.3" fill="#5a2a84"/><circle cx="507.30" cy="394.15" r="1.3" fill="#5a2a84"/><circle cx="505.30" cy="397.41" r="1.3" fill="#5a2a84"/><circle cx="502.50" cy="401.83" r="1.3" fill="#5a2a84"/><circle cx="504.50" cy="402.18" r="1.3" fill="#5a2a84"/><circle cx="506.50" cy="401.71" r="1.3" fill="#5a2a84"/><circle cx="508.90" cy="401.25" r="1.3" fill="#5a2a84"/><circle cx="510.70" cy="401.83" r="1.3" fill="#5a2a84"/><circle cx="503.50" cy="404.16" r="1.3" fill="#5a2a84"/><circle cx="507.30" cy="403.57" r="1.3" fill="#5a2a84"/><circle cx="509.70" cy="404.50" r="1.3" fill="#5a2a84"/><line x1="501.60" y1="402.18" x2="510.60" y2="402.18" stroke="#5a2a84" stroke-width="0.8"/><text x="483.70" y="329.40" font-size="7.2" text-anchor="middle" fill="#231f20" font-weight="normal">p-p65</text><text x="483.70" y="339.00" font-size="7.6" text-anchor="middle" fill="#231f20" font-weight="normal">NS</text><path d="M457.50 343.30 V341.30 H506.40 V343.30" fill="none" stroke="#3a3a3a" stroke-width="0.9"/><path d="M457.50 353.10 V351.10 H490.30 V353.10" fill="none" stroke="#3a3a3a" stroke-width="0.9"/><text x="473.90" y="351.30" font-size="5.0" text-anchor="middle" fill="#231f20" font-weight="normal">*</text><path d="M489.70 348.30 V346.30 H506.40 V348.30" fill="none" stroke="#3a3a3a" stroke-width="0.9"/><text x="498.05" y="346.50" font-size="5.0" text-anchor="middle" fill="#231f20" font-weight="normal">*</text><line x1="447.50" y1="461.20" x2="447.50" y2="531.80" stroke="#2b2b2b" stroke-width="1.4"/><line x1="446.80" y1="531.20" x2="515.00" y2="531.20" stroke="#2b2b2b" stroke-width="1.5"/><line x1="445.30" y1="531.20" x2="447.50" y2="531.20" stroke="#2b2b2b" stroke-width="1.0"/><text x="442.50" y="533.80" font-size="7.4" text-anchor="end" fill="#231f20" font-weight="normal">0</text><line x1="445.30" y1="517.26" x2="447.50" y2="517.26" stroke="#2b2b2b" stroke-width="1.0"/><text x="442.50" y="519.86" font-size="7.4" text-anchor="end" fill="#231f20" font-weight="normal">20</text><line x1="445.30" y1="503.32" x2="447.50" y2="503.32" stroke="#2b2b2b" stroke-width="1.0"/><text x="442.50" y="505.92" font-size="7.4" text-anchor="end" fill="#231f20" font-weight="normal">40</text><line x1="445.30" y1="489.38" x2="447.50" y2="489.38" stroke="#2b2b2b" stroke-width="1.0"/><text x="442.50" y="491.98" font-size="7.4" text-anchor="end" fill="#231f20" font-weight="normal">60</text><line x1="445.30" y1="475.44" x2="447.50" y2="475.44" stroke="#2b2b2b" stroke-width="1.0"/><text x="442.50" y="478.04" font-size="7.4" text-anchor="end" fill="#231f20" font-weight="normal">80</text><line x1="445.30" y1="461.50" x2="447.50" y2="461.50" stroke="#2b2b2b" stroke-width="1.0"/><text x="442.50" y="464.10" font-size="7.4" text-anchor="end" fill="#231f20" font-weight="normal">100</text><line x1="458.10" y1="531.20" x2="458.10" y2="533.40" stroke="#2b2b2b" stroke-width="0.9"/><line x1="474.10" y1="531.20" x2="474.10" y2="533.40" stroke="#2b2b2b" stroke-width="0.9"/><line x1="490.30" y1="531.20" x2="490.30" y2="533.40" stroke="#2b2b2b" stroke-width="0.9"/><line x1="506.40" y1="531.20" x2="506.40" y2="533.40" stroke="#2b2b2b" stroke-width="0.9"/><text x="461.10" y="540.60" font-size="7.2" text-anchor="end" fill="#231f20" font-weight="normal" transform="rotate(-45 461.10 540.60)">Basal</text><text x="477.10" y="540.60" font-size="7.2" text-anchor="end" fill="#231f20" font-weight="normal" transform="rotate(-45 477.10 540.60)">Pev</text><text x="493.30" y="540.60" font-size="7.2" text-anchor="end" fill="#231f20" font-weight="normal" transform="rotate(-45 493.30 540.60)">TNF-&#945;</text><text x="509.40" y="540.60" font-size="7.2" text-anchor="end" fill="#231f20" font-weight="normal" transform="rotate(-45 509.40 540.60)">Pev + TNF-&#945;</text><circle cx="458.10" cy="493.01" r="1.3" fill="#d42a3c"/><circle cx="456.50" cy="504.16" r="1.3" fill="#d42a3c"/><circle cx="459.80" cy="506.95" r="1.3" fill="#d42a3c"/><circle cx="458.10" cy="517.75" r="1.3" fill="#d42a3c"/><circle cx="454.80" cy="521.24" r="1.3" fill="#d42a3c"/><circle cx="456.50" cy="520.68" r="1.3" fill="#d42a3c"/><circle cx="458.90" cy="521.10" r="1.3" fill="#d42a3c"/><circle cx="461.30" cy="520.82" r="1.3" fill="#d42a3c"/><circle cx="456.50" cy="525.00" r="1.3" fill="#d42a3c"/><circle cx="458.90" cy="525.00" r="1.3" fill="#d42a3c"/><circle cx="460.50" cy="523.47" r="1.3" fill="#d42a3c"/><circle cx="454.50" cy="522.77" r="1.3" fill="#d42a3c"/><line x1="453.60" y1="521.94" x2="462.60" y2="521.94" stroke="#d42a3c" stroke-width="0.8"/><circle cx="474.10" cy="490.57" r="1.3" fill="#1e5a98"/><circle cx="472.60" cy="505.21" r="1.3" fill="#1e5a98"/><circle cx="475.60" cy="505.21" r="1.3" fill="#1e5a98"/><circle cx="474.10" cy="513.57" r="1.3" fill="#1e5a98"/><circle cx="469.90" cy="519.29" r="1.3" fill="#1e5a98"/><circle cx="472.30" cy="519.71" r="1.3" fill="#1e5a98"/><circle cx="474.90" cy="519.29" r="1.3" fill="#1e5a98"/><circle cx="477.90" cy="519.29" r="1.3" fill="#1e5a98"/><circle cx="470.60" cy="521.24" r="1.3" fill="#1e5a98"/><circle cx="473.10" cy="522.63" r="1.3" fill="#1e5a98"/><circle cx="476.10" cy="521.24" r="1.3" fill="#1e5a98"/><circle cx="472.90" cy="525.98" r="1.3" fill="#1e5a98"/><circle cx="475.90" cy="525.98" r="1.3" fill="#1e5a98"/><line x1="469.60" y1="519.85" x2="478.60" y2="519.85" stroke="#1e5a98" stroke-width="0.8"/><circle cx="486.80" cy="523.12" r="1.3" fill="#2bb24c"/><circle cx="488.50" cy="522.77" r="1.3" fill="#2bb24c"/><circle cx="490.50" cy="522.98" r="1.3" fill="#2bb24c"/><circle cx="492.30" cy="523.12" r="1.3" fill="#2bb24c"/><circle cx="494.10" cy="523.47" r="1.3" fill="#2bb24c"/><circle cx="486.10" cy="524.86" r="1.3" fill="#2bb24c"/><circle cx="487.80" cy="524.72" r="1.3" fill="#2bb24c"/><circle cx="489.80" cy="524.31" r="1.3" fill="#2bb24c"/><circle cx="491.80" cy="524.72" r="1.3" fill="#2bb24c"/><circle cx="493.50" cy="525.00" r="1.3" fill="#2bb24c"/><circle cx="495.10" cy="525.14" r="1.3" fill="#2bb24c"/><circle cx="487.50" cy="525.70" r="1.3" fill="#2bb24c"/><circle cx="489.50" cy="525.84" r="1.3" fill="#2bb24c"/><circle cx="491.50" cy="525.84" r="1.3" fill="#2bb24c"/><circle cx="493.30" cy="525.98" r="1.3" fill="#2bb24c"/><circle cx="488.50" cy="523.89" r="1.3" fill="#2bb24c"/><line x1="485.80" y1="524.38" x2="494.80" y2="524.38" stroke="#2bb24c" stroke-width="0.8"/><circle cx="506.40" cy="497.54" r="1.3" fill="#5a2a84"/><circle cx="505.20" cy="509.04" r="1.3" fill="#5a2a84"/><circle cx="507.60" cy="511.13" r="1.3" fill="#5a2a84"/><circle cx="505.20" cy="514.97" r="1.3" fill="#5a2a84"/><circle cx="507.60" cy="513.92" r="1.3" fill="#5a2a84"/><circle cx="502.60" cy="520.89" r="1.3" fill="#5a2a84"/><circle cx="504.80" cy="521.24" r="1.3" fill="#5a2a84"/><circle cx="507.40" cy="520.89" r="1.3" fill="#5a2a84"/><circle cx="510.20" cy="520.54" r="1.3" fill="#5a2a84"/><circle cx="503.40" cy="524.72" r="1.3" fill="#5a2a84"/><circle cx="505.90" cy="524.72" r="1.3" fill="#5a2a84"/><circle cx="508.20" cy="524.72" r="1.3" fill="#5a2a84"/><circle cx="504.40" cy="522.63" r="1.3" fill="#5a2a84"/><line x1="501.90" y1="521.24" x2="510.90" y2="521.24" stroke="#5a2a84" stroke-width="0.8"/><text x="484.00" y="453.90" font-size="7.2" text-anchor="middle" fill="#231f20" font-weight="normal">I&#954;B&#945;</text><text x="484.00" y="463.50" font-size="7.6" text-anchor="middle" fill="#231f20" font-weight="normal">NS</text><path d="M457.80 468.20 V466.20 H506.70 V468.20" fill="none" stroke="#3a3a3a" stroke-width="0.9"/><path d="M457.80 477.70 V475.70 H490.60 V477.70" fill="none" stroke="#3a3a3a" stroke-width="0.9"/><text x="474.20" y="475.90" font-size="5.0" text-anchor="middle" fill="#231f20" font-weight="normal">*</text><path d="M490.00 473.10 V471.10 H506.70 V473.10" fill="none" stroke="#3a3a3a" stroke-width="0.9"/><text x="498.35" y="471.30" font-size="5.0" text-anchor="middle" fill="#231f20" font-weight="normal">*</text><text transform="translate(430.4 372.00) rotate(-90) scale(0.68 1)" font-size="9.3" text-anchor="middle" fill="#231f20">Dual counts</text><text transform="translate(430.4 496.00) rotate(-90) scale(0.68 1)" font-size="9.3" text-anchor="middle" fill="#231f20">Dual counts</text></svg></body></html>
